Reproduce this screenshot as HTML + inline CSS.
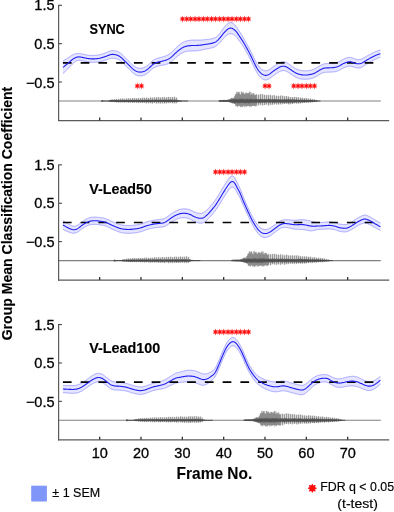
<!DOCTYPE html>
<html lang="en">
<head>
<meta charset="utf-8">
<title>Group Mean Classification Coefficient</title>
<style>
html,body{margin:0;padding:0;background:#fff;}
body{width:394px;height:512px;overflow:hidden;font-family:"Liberation Sans",sans-serif;}
svg{display:block;}
text{font-family:"Liberation Sans",sans-serif;fill:#000;}
.tk{font-size:14.5px;fill:#000;stroke:#000;stroke-width:0.3px;}
.tt{font-size:15.4px;font-weight:bold;stroke:#000;stroke-width:0.15px;}
.xl{font-size:16.6px;font-weight:bold;stroke:#000;stroke-width:0.1px;}
.yl{font-size:15.2px;font-weight:bold;stroke:#000;stroke-width:0.15px;}
.lg{font-size:13.2px;stroke:#000;stroke-width:0.15px;}
.st{font-family:"DejaVu Sans",sans-serif;font-size:8.4px;fill:#ff0a0a;stroke:#ff0a0a;stroke-width:0.15px;}
.st2{font-family:"DejaVu Sans",sans-serif;font-size:10.3px;fill:#ff0a0a;stroke:#ff0a0a;stroke-width:1.0px;stroke-linejoin:round;}
</style>
</head>
<body>
<svg width="394" height="512" viewBox="0 0 394 512">
<rect width="394" height="512" fill="#fff"/>
<g>
<line x1="58.8" y1="101.00" x2="380.8" y2="101.00" stroke="#808080" stroke-width="1.1"/>
<path d="M101.6,101.00H188.0M218.8,101.00H320.5" stroke="#484848" stroke-width="0.9" fill="none"/>
<path d="M109.25,100.52V101.36M109.75,100.30V101.53M110.25,99.94V101.68M110.75,99.70V101.71M111.25,99.90V101.93M111.75,99.61V101.86M112.25,99.60V101.87M112.75,99.41V102.06M113.25,100.26V101.46M113.75,100.28V101.51M114.25,98.96V102.00M114.75,99.25V102.18M115.25,100.17V101.50M115.75,100.16V101.52M116.25,98.78V102.49M116.75,99.09V102.41M117.25,100.07V101.50M117.75,100.21V101.55M118.25,98.96V102.54M118.75,98.77V102.61M119.25,100.06V101.66M119.75,100.11V101.57M120.25,98.39V102.29M120.75,98.75V102.48M121.25,100.14V101.59M121.75,99.92V101.65M122.25,98.43V102.30M122.75,98.30V102.72M123.25,100.08V101.66M123.75,100.05V101.56M124.25,98.71V102.41M124.75,98.68V102.83M125.25,100.01V101.62M125.75,99.87V101.77M126.25,98.61V102.41M126.75,98.17V102.45M127.25,99.93V101.58M127.75,99.93V101.78M128.25,98.47V102.59M128.75,98.30V102.83M129.25,99.85V101.78M129.75,99.85V101.73M130.25,98.38V102.41M130.75,98.43V102.81M131.25,99.81V101.80M131.75,99.98V101.62M132.25,98.18V102.95M132.75,98.16V102.90M133.25,99.80V101.76M133.75,99.97V101.76M134.25,97.93V102.67M134.75,98.08V102.53M135.25,99.78V101.77M135.75,99.75V101.74M136.25,98.39V102.47M136.75,98.11V103.06M137.25,99.76V101.65M137.75,99.90V101.75M138.25,98.30V103.10M138.75,97.99V103.11M139.25,99.81V101.75M139.75,99.81V101.67M140.25,98.19V102.87M140.75,98.07V102.91M141.25,99.88V101.78M141.75,99.69V101.77M142.25,97.60V102.90M142.75,97.85V103.09M143.25,99.74V101.91M143.75,99.60V101.73M144.25,97.55V102.74M144.75,98.08V102.83M145.25,99.62V101.92M145.75,99.65V101.71M146.25,97.92V103.37M146.75,97.34V103.30M147.25,99.67V101.78M147.75,99.60V101.69M148.25,98.00V102.97M148.75,97.95V103.46M149.25,99.76V101.78M149.75,99.71V101.74M150.25,97.33V102.96M150.75,97.50V103.30M151.25,99.56V101.84M151.75,99.57V101.96M152.25,97.84V103.46M152.75,97.44V103.52M153.25,99.58V101.80M153.75,99.72V101.79M154.25,97.22V103.06M154.75,97.53V102.86M155.25,99.48V101.92M155.75,99.41V101.78M156.25,97.36V103.54M156.75,97.18V103.67M157.25,99.46V101.96M157.75,99.67V101.80M158.25,97.48V103.04M158.75,96.96V103.47M159.25,99.57V101.92M159.75,99.57V102.09M160.25,97.43V103.74M160.75,97.64V103.26M161.25,99.59V101.95M161.75,99.62V101.91M162.25,97.37V103.14M162.75,96.99V103.50M163.25,99.52V101.89M163.75,99.40V102.00M164.25,96.86V103.48M164.75,97.50V103.39M165.25,99.37V102.06M165.75,99.41V102.02M166.25,97.49V103.26M166.75,97.13V103.49M167.25,99.47V101.79M167.75,99.47V101.97M168.25,96.97V103.18M168.75,96.97V103.14M169.25,99.47V101.92M169.75,99.37V102.00M170.25,97.46V103.19M170.75,97.10V102.98M171.25,99.40V102.02M171.75,99.45V101.95M172.25,96.81V103.15M172.75,97.56V103.37M173.25,99.47V101.88M173.75,99.55V101.99M174.25,96.75V103.10M174.75,96.80V103.58M175.25,99.49V101.79M175.75,99.56V101.84M176.25,97.67V103.43M176.75,97.43V102.79M177.25,99.80V101.63M177.75,100.22V101.45M178.25,99.87V101.62M178.75,99.99V101.76M180.25,100.28V101.42M180.75,100.43V101.33M219.25,100.38V101.45M219.75,100.27V101.54M220.25,100.05V101.59M220.75,100.18V101.58M221.25,99.92V101.55M221.75,99.94V101.58M222.25,100.12V101.65M222.75,99.89V101.56M223.25,99.86V101.68M223.75,100.07V101.81M224.25,99.78V101.65M224.75,99.97V101.77M225.25,99.89V101.81M225.75,100.17V101.83M226.25,99.85V101.72M226.75,99.83V101.84M227.25,99.87V101.82M227.75,99.79V101.68M228.25,99.33V102.03M228.75,99.60V102.04M229.25,99.35V102.08M229.75,99.04V102.33M230.25,99.03V102.35M230.75,98.31V102.58M231.25,98.31V102.72M231.75,97.70V102.85M232.25,98.25V103.52M232.75,98.19V103.24M233.25,98.15V103.34M233.75,98.01V103.16M234.25,96.52V104.06M234.75,96.24V103.65M235.25,94.79V104.32M235.75,93.76V106.16M236.25,94.10V106.20M236.75,91.63V105.92M237.25,92.14V106.36M237.75,93.76V107.30M238.25,91.87V105.58M238.75,92.34V105.60M239.25,91.79V106.02M239.75,93.89V106.05M240.25,94.16V106.91M240.75,95.10V106.99M241.25,91.70V105.57M241.75,91.66V107.37M242.25,93.56V106.48M242.75,92.21V106.95M243.25,92.92V106.16M243.75,92.29V105.68M244.25,94.22V105.65M244.75,93.93V107.42M245.25,94.15V105.68M245.75,92.55V106.39M246.25,92.87V106.83M246.75,92.71V105.76M247.25,93.06V106.24M247.75,94.22V106.00M248.25,93.02V106.15M248.75,93.28V105.97M249.25,91.53V105.72M249.75,92.08V107.29M250.25,94.72V105.86M250.75,91.93V106.14M251.25,94.40V106.83M251.75,93.33V106.46M252.25,94.98V105.63M252.75,93.35V105.56M253.25,93.37V105.46M253.75,93.10V106.03M254.25,94.50V105.96M254.75,95.33V106.14M255.25,94.97V106.49M255.75,94.91V105.52M256.25,94.05V105.11M256.75,94.67V106.21M257.25,99.27V102.28M257.75,99.44V102.14M258.25,94.70V105.64M258.75,94.67V105.07M259.25,99.45V102.09M259.75,99.43V101.94M260.25,94.34V104.62M260.75,93.77V105.44M261.25,99.25V101.95M261.75,99.25V101.93M262.25,94.51V104.98M262.75,94.26V105.70M263.25,99.31V101.86M263.75,99.38V102.04M264.25,94.81V105.16M264.75,94.82V104.93M265.25,99.45V101.90M265.75,99.47V101.88M266.25,95.37V104.84M266.75,94.89V104.28M267.25,99.41V102.07M267.75,99.50V101.92M268.25,94.55V105.51M268.75,95.47V105.46M269.25,99.39V101.83M269.75,99.68V101.89M270.25,94.68V104.44M270.75,95.23V105.26M271.25,99.57V101.86M271.75,99.68V102.05M272.25,95.76V105.00M272.75,95.21V104.43M273.25,99.58V102.02M273.75,99.57V101.86M274.25,94.88V104.64M274.75,95.58V104.12M275.25,99.54V101.80M275.75,99.62V101.92M276.25,96.17V104.03M276.75,95.63V104.92M277.25,99.62V101.71M277.75,99.79V101.81M278.25,95.63V104.03M278.75,96.20V104.88M279.25,99.82V101.87M279.75,99.74V101.76M280.25,95.80V104.12M280.75,95.41V104.54M281.25,99.86V101.82M281.75,99.87V101.89M282.25,95.51V103.81M282.75,96.03V104.35M283.25,99.82V101.74M283.75,99.70V101.84M284.25,95.90V104.07M284.75,96.50V103.65M285.25,99.86V101.83M285.75,99.77V101.69M286.25,96.04V104.02M286.75,95.91V103.67M287.25,99.92V101.67M287.75,99.81V101.68M288.25,96.78V104.29M288.75,96.40V104.33M289.25,99.85V101.79M289.75,99.90V101.65M290.25,97.11V104.16M290.75,97.12V104.14M291.25,100.06V101.57M291.75,99.91V101.72M292.25,97.01V103.94M292.75,97.32V103.95M293.25,100.08V101.58M293.75,99.93V101.71M294.25,96.95V103.34M294.75,96.88V103.24M295.25,100.14V101.56M295.75,100.08V101.57M296.25,96.95V103.51M296.75,97.34V103.61M297.25,100.08V101.53M297.75,100.03V101.51M298.25,97.21V103.69M298.75,97.47V103.51M299.25,100.16V101.63M299.75,100.18V101.50M300.25,97.90V103.29M300.75,97.50V103.37M301.25,100.19V101.51M301.75,100.11V101.44M302.25,97.50V103.07M302.75,98.02V103.01M303.25,100.17V101.53M303.75,100.29V101.55M304.25,98.19V102.91M304.75,98.26V102.90M305.25,100.31V101.44M305.75,100.33V101.41M306.25,98.13V102.62M306.75,97.89V102.95M307.25,100.37V101.42M307.75,100.30V101.42M308.25,98.62V102.50M308.75,98.53V102.79M309.25,100.37V101.39M309.75,100.42V101.41M310.25,98.66V102.61M310.75,98.66V102.62M311.25,100.42V101.37M311.75,100.50V101.35M312.25,98.87V102.38M312.75,99.11V102.22M313.25,100.52V101.34M314.25,99.57V102.04M314.75,99.39V101.95M316.25,99.99V101.74M316.75,100.18V101.68" stroke="#5a5a5a" stroke-width="0.5" fill="none"/>
<path d="M101.60,100.10V101.90M102.10,100.10V101.90M102.60,100.10V101.90M108.75,100.82V101.17M109.25,100.77V101.29M109.75,100.60V101.49M110.25,100.46V101.62M110.75,100.32V101.43M111.25,100.51V101.48M111.75,100.46V101.67M112.25,100.29V101.54M112.75,100.20V101.71M113.25,100.38V101.57M113.75,100.43V101.68M114.25,100.09V101.73M114.75,100.19V101.95M115.25,100.45V101.77M115.75,100.13V101.66M116.25,100.05V101.90M116.75,100.07V102.02M117.25,100.15V101.99M117.75,100.24V101.88M118.25,100.17V101.81M118.75,100.19V101.87M119.25,100.35V101.80M119.75,100.05V101.97M120.25,100.07V102.19M120.75,100.16V101.87M121.25,100.14V101.72M121.75,100.23V101.85M122.25,99.99V102.06M122.75,99.80V102.14M123.25,100.22V101.78M123.75,100.36V101.64M124.25,100.08V101.78M124.75,100.20V101.93M125.25,100.13V101.68M125.75,100.24V101.67M126.25,100.02V101.99M126.75,100.08V101.88M127.25,100.38V102.00M127.75,100.16V101.63M128.25,99.82V102.10M128.75,100.17V102.14M129.25,100.25V101.71M129.75,100.04V101.95M130.25,100.14V102.01M130.75,100.24V101.89M131.25,99.99V101.80M131.75,99.99V101.76M132.25,100.15V101.85M132.75,99.83V101.99M133.25,100.35V101.89M133.75,100.08V101.81M134.25,100.08V102.15M134.75,100.05V102.22M135.25,100.33V101.68M135.75,100.33V101.95M136.25,100.07V102.02M136.75,99.76V102.07M137.25,100.21V101.97M137.75,100.28V101.74M138.25,100.12V101.96M138.75,100.07V101.98M139.25,100.21V101.99M139.75,100.17V101.62M140.25,100.25V102.15M140.75,99.89V102.03M141.25,100.16V101.94M141.75,100.28V101.73M142.25,99.97V102.13M142.75,99.94V102.00M143.25,100.20V101.83M143.75,100.10V101.97M144.25,99.97V102.22M144.75,100.19V101.97M145.25,100.36V101.89M145.75,100.32V101.91M146.25,99.81V102.23M146.75,100.05V101.99M147.25,100.32V101.79M147.75,100.30V101.75M148.25,99.97V101.97M148.75,99.94V102.01M149.25,100.06V102.01M149.75,100.37V101.93M150.25,100.04V102.21M150.75,100.18V102.21M151.25,100.35V101.64M151.75,100.36V102.00M152.25,100.21V102.18M152.75,100.02V101.92M153.25,100.28V101.67M153.75,100.34V101.68M154.25,100.09V101.90M154.75,100.00V101.84M155.25,100.28V101.62M155.75,100.31V101.81M156.25,99.84V101.97M156.75,100.05V102.00M157.25,100.24V101.96M157.75,100.22V101.76M158.25,100.21V102.12M158.75,100.21V102.17M159.25,100.27V101.71M159.75,100.32V101.80M160.25,99.76V102.02M160.75,100.10V101.93M161.25,100.19V101.82M161.75,100.38V101.72M162.25,100.23V101.76M162.75,99.96V102.01M163.25,100.09V101.98M163.75,99.98V101.68M164.25,100.23V102.17M164.75,99.88V102.16M165.25,100.18V101.96M165.75,100.15V101.98M166.25,100.14V101.77M166.75,100.20V102.17M167.25,100.13V101.89M167.75,100.06V101.92M168.25,99.92V101.78M168.75,100.21V101.88M169.25,100.08V102.02M169.75,100.19V101.90M170.25,99.93V101.79M170.75,99.88V101.90M171.25,100.36V101.73M171.75,100.11V101.73M172.25,100.02V101.81M172.75,99.76V102.22M173.25,100.05V102.01M173.75,100.30V102.00M174.25,100.18V102.01M174.75,99.84V102.00M175.25,100.29V101.98M175.75,100.38V101.82M176.25,100.18V101.92M176.75,100.25V102.13M177.25,100.01V101.91M177.75,100.40V101.61M178.25,100.51V101.51M178.75,100.62V101.55M179.25,100.71V101.30M179.75,100.73V101.35M180.25,100.69V101.35M180.75,100.73V101.19M181.25,100.83V101.16M219.25,100.65V101.30M219.75,100.62V101.33M220.25,100.57V101.50M220.75,100.59V101.43M221.25,100.66V101.39M221.75,100.55V101.48M222.25,100.60V101.40M222.75,100.43V101.55M223.25,100.64V101.53M223.75,100.49V101.36M224.25,100.43V101.58M224.75,100.59V101.42M225.25,100.37V101.57M225.75,100.49V101.54M226.25,100.54V101.64M226.75,100.56V101.47M227.25,100.56V101.43M227.75,100.46V101.49M228.25,100.39V101.67M228.75,100.06V101.78M229.25,99.89V101.99M229.75,99.99V102.10M230.25,99.79V102.35M230.75,99.87V102.18M231.25,99.48V102.48M231.75,99.25V102.28M232.25,99.70V102.70M232.75,99.41V102.35M233.25,99.18V103.06M233.75,99.48V103.20M234.25,99.55V102.77M234.75,98.86V103.40M235.25,99.38V103.34M235.75,98.92V102.80M236.25,99.40V102.44M236.75,98.64V102.56M237.25,99.22V103.23M237.75,99.51V102.89M238.25,99.37V102.79M238.75,99.17V103.22M239.25,99.53V102.50M239.75,98.84V103.30M240.25,98.64V103.03M240.75,99.26V102.70M241.25,98.68V103.05M241.75,99.34V102.90M242.25,99.19V102.68M242.75,98.67V102.62M243.25,98.77V103.18M243.75,99.25V102.79M244.25,99.37V103.16M244.75,99.53V102.97M245.25,98.71V103.39M245.75,99.47V102.92M246.25,99.34V102.84M246.75,98.84V103.25M247.25,98.75V102.72M247.75,98.85V102.63M248.25,99.41V103.29M248.75,99.18V103.39M249.25,98.78V103.07M249.75,99.10V103.23M250.25,99.52V102.72M250.75,98.63V103.00M251.25,98.73V102.87M251.75,98.65V102.54M252.25,99.35V102.79M252.75,99.32V103.02M253.25,99.55V102.75M253.75,99.26V102.64M254.25,99.50V102.54M254.75,98.95V102.53M255.25,99.17V102.71M255.75,99.26V102.98M256.25,98.73V103.40M256.75,98.86V102.64M257.25,99.57V102.73M257.75,99.54V102.24M258.25,98.94V103.31M258.75,99.20V102.92M259.25,99.50V102.80M259.75,99.29V102.84M260.25,98.65V103.38M260.75,98.67V102.81M261.25,99.27V102.24M261.75,99.58V102.75M262.25,99.35V102.82M262.75,99.44V102.68M263.25,99.85V102.53M263.75,99.26V102.20M264.25,98.96V102.73M264.75,99.15V103.07M265.25,99.87V102.58M265.75,99.32V102.70M266.25,99.11V102.54M266.75,99.47V102.86M267.25,99.41V102.18M267.75,99.50V102.16M268.25,98.65V102.57M268.75,98.86V103.22M269.25,99.52V102.83M269.75,99.30V102.81M270.25,98.83V102.59M270.75,98.78V102.58M271.25,99.73V102.31M271.75,99.86V102.25M272.25,98.91V103.30M272.75,99.45V102.95M273.25,99.23V102.53M273.75,99.81V102.85M274.25,98.79V102.69M274.75,99.21V103.17M275.25,99.33V102.15M275.75,99.41V102.85M276.25,99.26V102.44M276.75,98.97V102.85M277.25,99.79V102.29M277.75,99.88V102.38M278.25,99.34V103.00M278.75,98.96V102.90M279.25,99.70V102.23M279.75,99.24V102.70M280.25,99.55V103.06M280.75,98.94V102.87M281.25,99.70V102.79M281.75,99.58V102.29M282.25,99.55V102.97M282.75,99.37V103.02M283.25,99.28V102.25M283.75,99.85V102.78M284.25,99.55V103.25M284.75,98.85V102.87M285.25,99.71V102.14M285.75,99.37V102.74M286.25,99.03V102.86M286.75,99.31V103.06M287.25,99.23V102.13M287.75,99.33V102.82M288.25,98.72V102.76M288.75,98.95V103.11M289.25,99.53V102.74M289.75,99.56V102.66M290.25,99.37V103.03M290.75,99.45V102.44M291.25,99.66V102.19M291.75,99.43V102.53M292.25,99.57V102.91M292.75,98.90V103.16M293.25,99.33V102.70M293.75,99.89V102.05M294.25,99.13V103.03M294.75,99.62V102.38M295.25,99.79V102.27M295.75,99.83V102.45M296.25,98.94V102.67M296.75,99.74V102.58M297.25,99.83V102.39M297.75,99.53V101.99M298.25,99.81V102.35M298.75,99.82V102.56M299.25,99.99V102.20M299.75,99.96V102.45M300.25,99.34V102.51M300.75,99.82V102.70M301.25,99.79V102.06M301.75,99.66V101.89M302.25,99.78V102.26M302.75,99.68V102.68M303.25,99.91V102.21M303.75,100.02V101.97M304.25,99.54V102.51M304.75,99.49V102.38M305.25,99.79V101.88M305.75,99.90V102.17M306.25,99.89V102.16M306.75,99.86V102.06M307.25,100.24V102.17M307.75,99.85V102.06M308.25,100.02V102.24M308.75,99.94V101.86M309.25,100.07V101.84M309.75,100.33V101.86M310.25,99.77V101.99M310.75,100.05V101.86M311.25,100.16V101.82M311.75,100.23V101.70M312.25,100.29V101.85M312.75,100.09V101.75M313.25,100.33V101.60M313.75,100.50V101.63M314.25,100.30V101.87M314.75,100.46V101.75M315.25,100.63V101.48M315.75,100.57V101.45M316.25,100.54V101.59M316.75,100.62V101.45M317.25,100.77V101.19" stroke="#4a4a4a" stroke-width="0.55" fill="none"/>
<path d="M62.9,60.93L63.4,60.72L63.9,60.44L64.4,60.12L64.9,59.82L65.4,59.53L65.9,59.23L66.4,58.93L66.9,58.63L67.4,58.32L67.9,58.00L68.4,57.66L68.9,57.31L69.4,56.95L69.9,56.59L70.4,56.24L70.9,55.91L71.4,55.60L71.9,55.31L72.4,55.04L72.9,54.79L73.4,54.55L73.9,54.33L74.4,54.13L74.9,53.96L75.4,53.82L75.9,53.71L76.4,53.62L76.9,53.56L77.4,53.53L77.9,53.52L78.4,53.54L78.9,53.57L79.4,53.62L79.9,53.68L80.4,53.75L80.9,53.82L81.4,53.91L81.9,53.99L82.4,54.08L82.9,54.17L83.4,54.26L83.9,54.36L84.4,54.47L84.9,54.58L85.4,54.69L85.9,54.80L86.4,54.90L86.9,55.00L87.4,55.08L87.9,55.16L88.4,55.23L88.9,55.28L89.4,55.33L89.9,55.38L90.4,55.41L90.9,55.44L91.4,55.47L91.9,55.48L92.4,55.49L92.9,55.49L93.4,55.48L93.9,55.46L94.4,55.43L94.9,55.39L95.4,55.35L95.9,55.30L96.4,55.25L96.9,55.19L97.4,55.13L97.9,55.07L98.4,55.01L98.9,54.92L99.4,54.82L99.9,54.69L100.4,54.54L100.9,54.39L101.4,54.23L101.9,54.08L102.4,53.92L102.9,53.75L103.4,53.59L103.9,53.42L104.4,53.25L104.9,53.07L105.4,52.89L105.9,52.70L106.4,52.50L106.9,52.29L107.4,52.09L107.9,51.88L108.4,51.67L108.9,51.48L109.4,51.29L109.9,51.12L110.4,50.96L110.9,50.82L111.4,50.71L111.9,50.64L112.4,50.60L112.9,50.60L113.4,50.63L113.9,50.68L114.4,50.74L114.9,50.82L115.4,50.91L115.9,51.02L116.4,51.15L116.9,51.30L117.4,51.47L117.9,51.67L118.4,51.90L118.9,52.17L119.4,52.47L119.9,52.80L120.4,53.16L120.9,53.55L121.4,53.95L121.9,54.38L122.4,54.84L122.9,55.32L123.4,55.82L123.9,56.34L124.4,56.86L124.9,57.38L125.4,57.89L125.9,58.40L126.4,58.91L126.9,59.41L127.4,59.91L127.9,60.41L128.4,60.91L128.9,61.40L129.4,61.90L129.9,62.39L130.4,62.89L130.9,63.38L131.4,63.87L131.9,64.33L132.4,64.78L132.9,65.20L133.4,65.60L133.9,65.98L134.4,66.33L134.9,66.67L135.4,66.98L135.9,67.26L136.4,67.50L136.9,67.71L137.4,67.89L137.9,68.03L138.4,68.13L138.9,68.21L139.4,68.26L139.9,68.28L140.4,68.28L140.9,68.26L141.4,68.21L141.9,68.13L142.4,68.03L142.9,67.90L143.4,67.74L143.9,67.55L144.4,67.33L144.9,67.09L145.4,66.81L145.9,66.50L146.4,66.17L146.9,65.82L147.4,65.46L147.9,65.08L148.4,64.68L148.9,64.26L149.4,63.81L149.9,63.34L150.4,62.85L150.9,62.36L151.4,61.89L151.9,61.43L152.4,61.01L152.9,60.63L153.4,60.27L153.9,59.94L154.4,59.64L154.9,59.36L155.4,59.11L155.9,58.87L156.4,58.65L156.9,58.46L157.4,58.29L157.9,58.15L158.4,58.02L158.9,57.90L159.4,57.77L159.9,57.65L160.4,57.52L160.9,57.38L161.4,57.25L161.9,57.12L162.4,56.98L162.9,56.84L163.4,56.69L163.9,56.53L164.4,56.37L164.9,56.20L165.4,56.03L165.9,55.85L166.4,55.65L166.9,55.44L167.4,55.20L167.9,54.94L168.4,54.65L168.9,54.34L169.4,54.01L169.9,53.66L170.4,53.28L170.9,52.89L171.4,52.47L171.9,52.02L172.4,51.55L172.9,51.04L173.4,50.52L173.9,49.99L174.4,49.46L174.9,48.94L175.4,48.44L175.9,47.95L176.4,47.48L176.9,47.01L177.4,46.56L177.9,46.12L178.4,45.69L178.9,45.27L179.4,44.87L179.9,44.47L180.4,44.09L180.9,43.72L181.4,43.37L181.9,43.03L182.4,42.72L182.9,42.43L183.4,42.16L183.9,41.92L184.4,41.70L184.9,41.51L185.4,41.33L185.9,41.17L186.4,41.02L186.9,40.88L187.4,40.76L187.9,40.65L188.4,40.55L188.9,40.47L189.4,40.40L189.9,40.34L190.4,40.28L190.9,40.24L191.4,40.20L191.9,40.17L192.4,40.16L192.9,40.14L193.4,40.14L193.9,40.13L194.4,40.12L194.9,40.10L195.4,40.09L195.9,40.08L196.4,40.07L196.9,40.07L197.4,40.07L197.9,40.07L198.4,40.08L198.9,40.08L199.4,40.08L199.9,40.08L200.4,40.07L200.9,40.05L201.4,40.02L201.9,39.99L202.4,39.95L202.9,39.91L203.4,39.86L203.9,39.81L204.4,39.76L204.9,39.71L205.4,39.66L205.9,39.62L206.4,39.57L206.9,39.53L207.4,39.48L207.9,39.43L208.4,39.37L208.9,39.30L209.4,39.22L209.9,39.14L210.4,39.05L210.9,38.95L211.4,38.85L211.9,38.73L212.4,38.59L212.9,38.45L213.4,38.29L213.9,38.13L214.4,37.96L214.9,37.77L215.4,37.55L215.9,37.28L216.4,36.96L216.9,36.57L217.4,36.13L217.9,35.63L218.4,35.09L218.9,34.52L219.4,33.91L219.9,33.29L220.4,32.65L220.9,31.99L221.4,31.31L221.9,30.61L222.4,29.90L222.9,29.19L223.4,28.50L223.9,27.85L224.4,27.22L224.9,26.63L225.4,26.06L225.9,25.51L226.4,24.99L226.9,24.49L227.4,24.03L227.9,23.60L228.4,23.24L228.9,22.96L229.4,22.75L229.9,22.62L230.4,22.56L230.9,22.57L231.4,22.66L231.9,22.82L232.4,23.08L232.9,23.40L233.4,23.76L233.9,24.16L234.4,24.60L234.9,25.06L235.4,25.56L235.9,26.11L236.4,26.72L236.9,27.41L237.4,28.17L237.9,28.98L238.4,29.81L238.9,30.62L239.4,31.40L239.9,32.18L240.4,32.95L240.9,33.72L241.4,34.51L241.9,35.32L242.4,36.14L242.9,37.00L243.4,37.87L243.9,38.75L244.4,39.65L244.9,40.55L245.4,41.46L245.9,42.36L246.4,43.26L246.9,44.16L247.4,45.04L247.9,45.94L248.4,46.84L248.9,47.75L249.4,48.68L249.9,49.64L250.4,50.62L250.9,51.63L251.4,52.67L251.9,53.73L252.4,54.80L252.9,55.85L253.4,56.89L253.9,57.91L254.4,58.90L254.9,59.88L255.4,60.85L255.9,61.79L256.4,62.70L256.9,63.57L257.4,64.39L257.9,65.15L258.4,65.86L258.9,66.51L259.4,67.12L259.9,67.68L260.4,68.20L260.9,68.66L261.4,69.08L261.9,69.45L262.4,69.77L262.9,70.05L263.4,70.28L263.9,70.47L264.4,70.61L264.9,70.72L265.4,70.77L265.9,70.77L266.4,70.72L266.9,70.62L267.4,70.48L267.9,70.30L268.4,70.08L268.9,69.83L269.4,69.56L269.9,69.25L270.4,68.90L270.9,68.52L271.4,68.12L271.9,67.72L272.4,67.32L272.9,66.94L273.4,66.58L273.9,66.24L274.4,65.90L274.9,65.58L275.4,65.25L275.9,64.94L276.4,64.63L276.9,64.32L277.4,64.01L277.9,63.70L278.4,63.39L278.9,63.08L279.4,62.80L279.9,62.54L280.4,62.31L280.9,62.12L281.4,61.98L281.9,61.88L282.4,61.82L282.9,61.79L283.4,61.79L283.9,61.81L284.4,61.85L284.9,61.94L285.4,62.07L285.9,62.26L286.4,62.49L286.9,62.76L287.4,63.06L287.9,63.39L288.4,63.72L288.9,64.06L289.4,64.40L289.9,64.75L290.4,65.09L290.9,65.44L291.4,65.80L291.9,66.16L292.4,66.51L292.9,66.86L293.4,67.20L293.9,67.52L294.4,67.82L294.9,68.11L295.4,68.39L295.9,68.65L296.4,68.90L296.9,69.13L297.4,69.35L297.9,69.55L298.4,69.74L298.9,69.90L299.4,70.06L299.9,70.19L300.4,70.31L300.9,70.42L301.4,70.52L301.9,70.60L302.4,70.68L302.9,70.73L303.4,70.78L303.9,70.81L304.4,70.83L304.9,70.84L305.4,70.84L305.9,70.82L306.4,70.80L306.9,70.77L307.4,70.72L307.9,70.66L308.4,70.60L308.9,70.52L309.4,70.44L309.9,70.36L310.4,70.26L310.9,70.15L311.4,70.04L311.9,69.91L312.4,69.75L312.9,69.58L313.4,69.39L313.9,69.17L314.4,68.94L314.9,68.69L315.4,68.42L315.9,68.15L316.4,67.87L316.9,67.58L317.4,67.28L317.9,66.98L318.4,66.66L318.9,66.34L319.4,66.03L319.9,65.73L320.4,65.45L320.9,65.18L321.4,64.93L321.9,64.69L322.4,64.46L322.9,64.26L323.4,64.09L323.9,63.95L324.4,63.83L324.9,63.75L325.4,63.69L325.9,63.65L326.4,63.62L326.9,63.59L327.4,63.58L327.9,63.56L328.4,63.55L328.9,63.54L329.4,63.52L329.9,63.49L330.4,63.46L330.9,63.43L331.4,63.40L331.9,63.38L332.4,63.34L332.9,63.31L333.4,63.27L333.9,63.22L334.4,63.15L334.9,63.07L335.4,62.98L335.9,62.86L336.4,62.73L336.9,62.58L337.4,62.41L337.9,62.22L338.4,62.01L338.9,61.78L339.4,61.53L339.9,61.25L340.4,60.95L340.9,60.64L341.4,60.33L341.9,60.04L342.4,59.76L342.9,59.49L343.4,59.25L343.9,59.02L344.4,58.80L344.9,58.59L345.4,58.39L345.9,58.20L346.4,58.02L346.9,57.86L347.4,57.70L347.9,57.57L348.4,57.46L348.9,57.38L349.4,57.35L349.9,57.36L350.4,57.42L350.9,57.52L351.4,57.65L351.9,57.79L352.4,57.95L352.9,58.12L353.4,58.29L353.9,58.47L354.4,58.66L354.9,58.85L355.4,59.03L355.9,59.18L356.4,59.31L356.9,59.41L357.4,59.50L357.9,59.56L358.4,59.60L358.9,59.61L359.4,59.59L359.9,59.54L360.4,59.44L360.9,59.31L361.4,59.12L361.9,58.90L362.4,58.66L362.9,58.39L363.4,58.12L363.9,57.84L364.4,57.57L364.9,57.29L365.4,57.00L365.9,56.71L366.4,56.41L366.9,56.12L367.4,55.83L367.9,55.54L368.4,55.26L368.9,54.99L369.4,54.72L369.9,54.46L370.4,54.20L370.9,53.94L371.4,53.68L371.9,53.43L372.4,53.18L372.9,52.93L373.4,52.68L373.9,52.44L374.4,52.21L374.9,51.98L375.4,51.77L375.9,51.57L376.4,51.38L376.9,51.20L377.4,51.03L377.9,50.86L378.4,50.68L378.9,50.51L379.4,50.34L379.9,50.19L380.4,50.08L380.4,57.30L379.9,57.42L379.4,57.59L378.9,57.78L378.4,57.97L377.9,58.17L377.4,58.37L376.9,58.57L376.4,58.78L375.9,58.99L375.4,59.22L374.9,59.46L374.4,59.70L373.9,59.96L373.4,60.23L372.9,60.51L372.4,60.78L371.9,61.06L371.4,61.34L370.9,61.62L370.4,61.91L369.9,62.20L369.4,62.49L368.9,62.78L368.4,63.08L367.9,63.39L367.4,63.70L366.9,64.02L366.4,64.34L365.9,64.66L365.4,64.98L364.9,65.29L364.4,65.60L363.9,65.90L363.4,66.20L362.9,66.50L362.4,66.79L361.9,67.07L361.4,67.32L360.9,67.52L360.4,67.69L359.9,67.81L359.4,67.89L358.9,67.93L358.4,67.95L357.9,67.94L357.4,67.90L356.9,67.85L356.4,67.77L355.9,67.67L355.4,67.54L354.9,67.39L354.4,67.23L353.9,67.06L353.4,66.91L352.9,66.76L352.4,66.62L351.9,66.49L351.4,66.37L350.9,66.26L350.4,66.17L349.9,66.13L349.4,66.13L348.9,66.16L348.4,66.24L347.9,66.35L347.4,66.48L346.9,66.63L346.4,66.79L345.9,66.96L345.4,67.15L344.9,67.34L344.4,67.55L343.9,67.76L343.4,67.99L342.9,68.23L342.4,68.49L341.9,68.76L341.4,69.06L340.9,69.36L340.4,69.66L339.9,69.96L339.4,70.23L338.9,70.48L338.4,70.71L337.9,70.91L337.4,71.10L336.9,71.26L336.4,71.41L335.9,71.54L335.4,71.65L334.9,71.74L334.4,71.81L333.9,71.87L333.4,71.92L332.9,71.96L332.4,71.99L331.9,72.01L331.4,72.04L330.9,72.06L330.4,72.09L329.9,72.11L329.4,72.13L328.9,72.15L328.4,72.16L327.9,72.17L327.4,72.18L326.9,72.19L326.4,72.21L325.9,72.23L325.4,72.27L324.9,72.33L324.4,72.41L323.9,72.51L323.4,72.65L322.9,72.82L322.4,73.02L321.9,73.24L321.4,73.47L320.9,73.72L320.4,73.99L319.9,74.26L319.4,74.56L318.9,74.86L318.4,75.18L317.9,75.49L317.4,75.79L316.9,76.09L316.4,76.37L315.9,76.64L315.4,76.91L314.9,77.17L314.4,77.42L313.9,77.65L313.4,77.86L312.9,78.05L312.4,78.22L311.9,78.37L311.4,78.49L310.9,78.61L310.4,78.71L309.9,78.80L309.4,78.88L308.9,78.96L308.4,79.03L307.9,79.09L307.4,79.14L306.9,79.18L306.4,79.21L305.9,79.24L305.4,79.25L304.9,79.25L304.4,79.25L303.9,79.24L303.4,79.21L302.9,79.18L302.4,79.13L301.9,79.07L301.4,78.99L300.9,78.91L300.4,78.81L299.9,78.69L299.4,78.57L298.9,78.43L298.4,78.27L297.9,78.10L297.4,77.90L296.9,77.70L296.4,77.47L295.9,77.23L295.4,76.98L294.9,76.71L294.4,76.43L293.9,76.14L293.4,75.83L292.9,75.50L292.4,75.17L291.9,74.82L291.4,74.47L290.9,74.13L290.4,73.79L289.9,73.45L289.4,73.12L288.9,72.78L288.4,72.45L287.9,72.13L287.4,71.82L286.9,71.53L286.4,71.26L285.9,71.04L285.4,70.86L284.9,70.74L284.4,70.66L283.9,70.63L283.4,70.62L282.9,70.63L282.4,70.67L281.9,70.74L281.4,70.85L280.9,71.00L280.4,71.20L279.9,71.44L279.4,71.71L278.9,72.01L278.4,72.32L277.9,72.64L277.4,72.96L276.9,73.28L276.4,73.60L275.9,73.92L275.4,74.25L274.9,74.58L274.4,74.91L273.9,75.26L273.4,75.62L272.9,75.99L272.4,76.38L271.9,76.78L271.4,77.20L270.9,77.60L270.4,77.99L269.9,78.35L269.4,78.67L268.9,78.96L268.4,79.21L267.9,79.44L267.4,79.63L266.9,79.79L266.4,79.89L265.9,79.94L265.4,79.94L264.9,79.88L264.4,79.77L263.9,79.62L263.4,79.41L262.9,79.16L262.4,78.87L261.9,78.52L261.4,78.13L260.9,77.70L260.4,77.21L259.9,76.68L259.4,76.10L258.9,75.47L258.4,74.79L257.9,74.07L257.4,73.29L256.9,72.45L256.4,71.56L255.9,70.63L255.4,69.66L254.9,68.68L254.4,67.68L253.9,66.66L253.4,65.63L252.9,64.57L252.4,63.49L251.9,62.41L251.4,61.33L250.9,60.27L250.4,59.24L249.9,58.23L249.4,57.26L248.9,56.31L248.4,55.37L247.9,54.45L247.4,53.54L246.9,52.63L246.4,51.74L245.9,50.85L245.4,49.97L244.9,49.10L244.4,48.24L243.9,47.41L243.4,46.60L242.9,45.82L242.4,45.06L241.9,44.34L241.4,43.63L240.9,42.94L240.4,42.27L239.9,41.60L239.4,40.92L238.9,40.24L238.4,39.53L237.9,38.80L237.4,38.09L236.9,37.43L236.4,36.84L235.9,36.33L235.4,35.88L234.9,35.48L234.4,35.12L233.9,34.78L233.4,34.48L232.9,34.22L232.4,34.00L231.9,33.84L231.4,33.74L230.9,33.71L230.4,33.72L229.9,33.78L229.4,33.89L228.9,34.06L228.4,34.28L227.9,34.55L227.4,34.86L226.9,35.22L226.4,35.61L225.9,36.02L225.4,36.46L224.9,36.92L224.4,37.41L223.9,37.92L223.4,38.47L222.9,39.05L222.4,39.65L221.9,40.25L221.4,40.84L220.9,41.42L220.4,41.97L219.9,42.50L219.4,43.04L218.9,43.56L218.4,44.08L217.9,44.57L217.4,45.04L216.9,45.46L216.4,45.84L215.9,46.18L215.4,46.47L214.9,46.71L214.4,46.93L213.9,47.12L213.4,47.31L212.9,47.48L212.4,47.65L211.9,47.81L211.4,47.95L210.9,48.08L210.4,48.20L209.9,48.31L209.4,48.42L208.9,48.52L208.4,48.61L207.9,48.70L207.4,48.77L206.9,48.84L206.4,48.92L205.9,49.00L205.4,49.09L204.9,49.19L204.4,49.30L203.9,49.42L203.4,49.55L202.9,49.67L202.4,49.80L201.9,49.93L201.4,50.05L200.9,50.17L200.4,50.27L199.9,50.37L199.4,50.46L198.9,50.54L198.4,50.62L197.9,50.68L197.4,50.73L196.9,50.78L196.4,50.82L195.9,50.85L195.4,50.88L194.9,50.90L194.4,50.92L193.9,50.93L193.4,50.93L192.9,50.93L192.4,50.93L191.9,50.93L191.4,50.94L190.9,50.95L190.4,50.97L189.9,51.00L189.4,51.03L188.9,51.06L188.4,51.11L187.9,51.17L187.4,51.25L186.9,51.34L186.4,51.44L185.9,51.56L185.4,51.69L184.9,51.83L184.4,52.00L183.9,52.18L183.4,52.39L182.9,52.62L182.4,52.88L181.9,53.16L181.4,53.46L180.9,53.77L180.4,54.10L179.9,54.45L179.4,54.80L178.9,55.16L178.4,55.53L177.9,55.91L177.4,56.30L176.9,56.70L176.4,57.12L175.9,57.54L175.4,57.98L174.9,58.43L174.4,58.90L173.9,59.38L173.4,59.86L172.9,60.33L172.4,60.79L171.9,61.21L171.4,61.61L170.9,61.98L170.4,62.32L169.9,62.65L169.4,62.95L168.9,63.23L168.4,63.49L167.9,63.73L167.4,63.94L166.9,64.13L166.4,64.29L165.9,64.44L165.4,64.57L164.9,64.69L164.4,64.81L163.9,64.92L163.4,65.03L162.9,65.13L162.4,65.22L161.9,65.31L161.4,65.40L160.9,65.49L160.4,65.59L159.9,65.69L159.4,65.79L158.9,65.89L158.4,65.99L157.9,66.11L157.4,66.24L156.9,66.40L156.4,66.58L155.9,66.79L155.4,67.01L154.9,67.26L154.4,67.53L153.9,67.82L153.4,68.14L152.9,68.48L152.4,68.86L151.9,69.27L151.4,69.72L150.9,70.18L150.4,70.66L149.9,71.13L149.4,71.60L148.9,72.03L148.4,72.45L147.9,72.83L147.4,73.21L146.9,73.56L146.4,73.90L145.9,74.22L145.4,74.51L144.9,74.78L144.4,75.02L143.9,75.23L143.4,75.41L142.9,75.56L142.4,75.68L141.9,75.77L141.4,75.84L140.9,75.88L140.4,75.90L139.9,75.89L139.4,75.87L138.9,75.81L138.4,75.73L137.9,75.63L137.4,75.49L136.9,75.31L136.4,75.10L135.9,74.86L135.4,74.58L134.9,74.27L134.4,73.93L133.9,73.58L133.4,73.20L132.9,72.80L132.4,72.38L131.9,71.93L131.4,71.47L130.9,70.98L130.4,70.49L129.9,69.99L129.4,69.50L128.9,69.00L128.4,68.51L127.9,68.01L127.4,67.51L126.9,67.01L126.4,66.51L125.9,66.00L125.4,65.49L124.9,64.98L124.4,64.46L123.9,63.94L123.4,63.42L122.9,62.92L122.4,62.44L121.9,61.98L121.4,61.55L120.9,61.15L120.4,60.76L119.9,60.40L119.4,60.07L118.9,59.77L118.4,59.50L117.9,59.27L117.4,59.07L116.9,58.90L116.4,58.75L115.9,58.62L115.4,58.51L114.9,58.42L114.4,58.34L113.9,58.27L113.4,58.21L112.9,58.18L112.4,58.17L111.9,58.19L111.4,58.25L110.9,58.34L110.4,58.46L109.9,58.59L109.4,58.74L108.9,58.91L108.4,59.09L107.9,59.28L107.4,59.46L106.9,59.65L106.4,59.84L105.9,60.01L105.4,60.19L104.9,60.35L104.4,60.51L103.9,60.66L103.4,60.81L102.9,60.95L102.4,61.09L101.9,61.23L101.4,61.37L100.9,61.50L100.4,61.64L99.9,61.76L99.4,61.87L98.9,61.96L98.4,62.02L97.9,62.07L97.4,62.11L96.9,62.15L96.4,62.18L95.9,62.22L95.4,62.24L94.9,62.27L94.4,62.29L93.9,62.30L93.4,62.30L92.9,62.30L92.4,62.29L91.9,62.27L91.4,62.25L90.9,62.22L90.4,62.18L89.9,62.14L89.4,62.09L88.9,62.03L88.4,61.97L87.9,61.89L87.4,61.81L86.9,61.72L86.4,61.61L85.9,61.50L85.4,61.39L84.9,61.27L84.4,61.15L83.9,61.04L83.4,60.94L82.9,60.84L82.4,60.74L81.9,60.64L81.4,60.55L80.9,60.46L80.4,60.38L79.9,60.31L79.4,60.28L78.9,60.27L78.4,60.31L77.9,60.39L77.4,60.52L76.9,60.69L76.4,60.92L75.9,61.20L75.4,61.53L74.9,61.88L74.4,62.26L73.9,62.67L73.4,63.10L72.9,63.55L72.4,64.02L71.9,64.50L71.4,65.00L70.9,65.52L70.4,66.06L69.9,66.62L69.4,67.18L68.9,67.74L68.4,68.30L67.9,68.84L67.4,69.36L66.9,69.87L66.4,70.37L65.9,70.87L65.4,71.37L64.9,71.86L64.4,72.33L63.9,72.80L63.4,73.21L62.9,73.52Z" fill="#e5e5ff"/>
<path d="M62.9,60.93L63.4,60.72L63.9,60.44L64.4,60.12L64.9,59.82L65.4,59.53L65.9,59.23L66.4,58.93L66.9,58.63L67.4,58.32L67.9,58.00L68.4,57.66L68.9,57.31L69.4,56.95L69.9,56.59L70.4,56.24L70.9,55.91L71.4,55.60L71.9,55.31L72.4,55.04L72.9,54.79L73.4,54.55L73.9,54.33L74.4,54.13L74.9,53.96L75.4,53.82L75.9,53.71L76.4,53.62L76.9,53.56L77.4,53.53L77.9,53.52L78.4,53.54L78.9,53.57L79.4,53.62L79.9,53.68L80.4,53.75L80.9,53.82L81.4,53.91L81.9,53.99L82.4,54.08L82.9,54.17L83.4,54.26L83.9,54.36L84.4,54.47L84.9,54.58L85.4,54.69L85.9,54.80L86.4,54.90L86.9,55.00L87.4,55.08L87.9,55.16L88.4,55.23L88.9,55.28L89.4,55.33L89.9,55.38L90.4,55.41L90.9,55.44L91.4,55.47L91.9,55.48L92.4,55.49L92.9,55.49L93.4,55.48L93.9,55.46L94.4,55.43L94.9,55.39L95.4,55.35L95.9,55.30L96.4,55.25L96.9,55.19L97.4,55.13L97.9,55.07L98.4,55.01L98.9,54.92L99.4,54.82L99.9,54.69L100.4,54.54L100.9,54.39L101.4,54.23L101.9,54.08L102.4,53.92L102.9,53.75L103.4,53.59L103.9,53.42L104.4,53.25L104.9,53.07L105.4,52.89L105.9,52.70L106.4,52.50L106.9,52.29L107.4,52.09L107.9,51.88L108.4,51.67L108.9,51.48L109.4,51.29L109.9,51.12L110.4,50.96L110.9,50.82L111.4,50.71L111.9,50.64L112.4,50.60L112.9,50.60L113.4,50.63L113.9,50.68L114.4,50.74L114.9,50.82L115.4,50.91L115.9,51.02L116.4,51.15L116.9,51.30L117.4,51.47L117.9,51.67L118.4,51.90L118.9,52.17L119.4,52.47L119.9,52.80L120.4,53.16L120.9,53.55L121.4,53.95L121.9,54.38L122.4,54.84L122.9,55.32L123.4,55.82L123.9,56.34L124.4,56.86L124.9,57.38L125.4,57.89L125.9,58.40L126.4,58.91L126.9,59.41L127.4,59.91L127.9,60.41L128.4,60.91L128.9,61.40L129.4,61.90L129.9,62.39L130.4,62.89L130.9,63.38L131.4,63.87L131.9,64.33L132.4,64.78L132.9,65.20L133.4,65.60L133.9,65.98L134.4,66.33L134.9,66.67L135.4,66.98L135.9,67.26L136.4,67.50L136.9,67.71L137.4,67.89L137.9,68.03L138.4,68.13L138.9,68.21L139.4,68.26L139.9,68.28L140.4,68.28L140.9,68.26L141.4,68.21L141.9,68.13L142.4,68.03L142.9,67.90L143.4,67.74L143.9,67.55L144.4,67.33L144.9,67.09L145.4,66.81L145.9,66.50L146.4,66.17L146.9,65.82L147.4,65.46L147.9,65.08L148.4,64.68L148.9,64.26L149.4,63.81L149.9,63.34L150.4,62.85L150.9,62.36L151.4,61.89L151.9,61.43L152.4,61.01L152.9,60.63L153.4,60.27L153.9,59.94L154.4,59.64L154.9,59.36L155.4,59.11L155.9,58.87L156.4,58.65L156.9,58.46L157.4,58.29L157.9,58.15L158.4,58.02L158.9,57.90L159.4,57.77L159.9,57.65L160.4,57.52L160.9,57.38L161.4,57.25L161.9,57.12L162.4,56.98L162.9,56.84L163.4,56.69L163.9,56.53L164.4,56.37L164.9,56.20L165.4,56.03L165.9,55.85L166.4,55.65L166.9,55.44L167.4,55.20L167.9,54.94L168.4,54.65L168.9,54.34L169.4,54.01L169.9,53.66L170.4,53.28L170.9,52.89L171.4,52.47L171.9,52.02L172.4,51.55L172.9,51.04L173.4,50.52L173.9,49.99L174.4,49.46L174.9,48.94L175.4,48.44L175.9,47.95L176.4,47.48L176.9,47.01L177.4,46.56L177.9,46.12L178.4,45.69L178.9,45.27L179.4,44.87L179.9,44.47L180.4,44.09L180.9,43.72L181.4,43.37L181.9,43.03L182.4,42.72L182.9,42.43L183.4,42.16L183.9,41.92L184.4,41.70L184.9,41.51L185.4,41.33L185.9,41.17L186.4,41.02L186.9,40.88L187.4,40.76L187.9,40.65L188.4,40.55L188.9,40.47L189.4,40.40L189.9,40.34L190.4,40.28L190.9,40.24L191.4,40.20L191.9,40.17L192.4,40.16L192.9,40.14L193.4,40.14L193.9,40.13L194.4,40.12L194.9,40.10L195.4,40.09L195.9,40.08L196.4,40.07L196.9,40.07L197.4,40.07L197.9,40.07L198.4,40.08L198.9,40.08L199.4,40.08L199.9,40.08L200.4,40.07L200.9,40.05L201.4,40.02L201.9,39.99L202.4,39.95L202.9,39.91L203.4,39.86L203.9,39.81L204.4,39.76L204.9,39.71L205.4,39.66L205.9,39.62L206.4,39.57L206.9,39.53L207.4,39.48L207.9,39.43L208.4,39.37L208.9,39.30L209.4,39.22L209.9,39.14L210.4,39.05L210.9,38.95L211.4,38.85L211.9,38.73L212.4,38.59L212.9,38.45L213.4,38.29L213.9,38.13L214.4,37.96L214.9,37.77L215.4,37.55L215.9,37.28L216.4,36.96L216.9,36.57L217.4,36.13L217.9,35.63L218.4,35.09L218.9,34.52L219.4,33.91L219.9,33.29L220.4,32.65L220.9,31.99L221.4,31.31L221.9,30.61L222.4,29.90L222.9,29.19L223.4,28.50L223.9,27.85L224.4,27.22L224.9,26.63L225.4,26.06L225.9,25.51L226.4,24.99L226.9,24.49L227.4,24.03L227.9,23.60L228.4,23.24L228.9,22.96L229.4,22.75L229.9,22.62L230.4,22.56L230.9,22.57L231.4,22.66L231.9,22.82L232.4,23.08L232.9,23.40L233.4,23.76L233.9,24.16L234.4,24.60L234.9,25.06L235.4,25.56L235.9,26.11L236.4,26.72L236.9,27.41L237.4,28.17L237.9,28.98L238.4,29.81L238.9,30.62L239.4,31.40L239.9,32.18L240.4,32.95L240.9,33.72L241.4,34.51L241.9,35.32L242.4,36.14L242.9,37.00L243.4,37.87L243.9,38.75L244.4,39.65L244.9,40.55L245.4,41.46L245.9,42.36L246.4,43.26L246.9,44.16L247.4,45.04L247.9,45.94L248.4,46.84L248.9,47.75L249.4,48.68L249.9,49.64L250.4,50.62L250.9,51.63L251.4,52.67L251.9,53.73L252.4,54.80L252.9,55.85L253.4,56.89L253.9,57.91L254.4,58.90L254.9,59.88L255.4,60.85L255.9,61.79L256.4,62.70L256.9,63.57L257.4,64.39L257.9,65.15L258.4,65.86L258.9,66.51L259.4,67.12L259.9,67.68L260.4,68.20L260.9,68.66L261.4,69.08L261.9,69.45L262.4,69.77L262.9,70.05L263.4,70.28L263.9,70.47L264.4,70.61L264.9,70.72L265.4,70.77L265.9,70.77L266.4,70.72L266.9,70.62L267.4,70.48L267.9,70.30L268.4,70.08L268.9,69.83L269.4,69.56L269.9,69.25L270.4,68.90L270.9,68.52L271.4,68.12L271.9,67.72L272.4,67.32L272.9,66.94L273.4,66.58L273.9,66.24L274.4,65.90L274.9,65.58L275.4,65.25L275.9,64.94L276.4,64.63L276.9,64.32L277.4,64.01L277.9,63.70L278.4,63.39L278.9,63.08L279.4,62.80L279.9,62.54L280.4,62.31L280.9,62.12L281.4,61.98L281.9,61.88L282.4,61.82L282.9,61.79L283.4,61.79L283.9,61.81L284.4,61.85L284.9,61.94L285.4,62.07L285.9,62.26L286.4,62.49L286.9,62.76L287.4,63.06L287.9,63.39L288.4,63.72L288.9,64.06L289.4,64.40L289.9,64.75L290.4,65.09L290.9,65.44L291.4,65.80L291.9,66.16L292.4,66.51L292.9,66.86L293.4,67.20L293.9,67.52L294.4,67.82L294.9,68.11L295.4,68.39L295.9,68.65L296.4,68.90L296.9,69.13L297.4,69.35L297.9,69.55L298.4,69.74L298.9,69.90L299.4,70.06L299.9,70.19L300.4,70.31L300.9,70.42L301.4,70.52L301.9,70.60L302.4,70.68L302.9,70.73L303.4,70.78L303.9,70.81L304.4,70.83L304.9,70.84L305.4,70.84L305.9,70.82L306.4,70.80L306.9,70.77L307.4,70.72L307.9,70.66L308.4,70.60L308.9,70.52L309.4,70.44L309.9,70.36L310.4,70.26L310.9,70.15L311.4,70.04L311.9,69.91L312.4,69.75L312.9,69.58L313.4,69.39L313.9,69.17L314.4,68.94L314.9,68.69L315.4,68.42L315.9,68.15L316.4,67.87L316.9,67.58L317.4,67.28L317.9,66.98L318.4,66.66L318.9,66.34L319.4,66.03L319.9,65.73L320.4,65.45L320.9,65.18L321.4,64.93L321.9,64.69L322.4,64.46L322.9,64.26L323.4,64.09L323.9,63.95L324.4,63.83L324.9,63.75L325.4,63.69L325.9,63.65L326.4,63.62L326.9,63.59L327.4,63.58L327.9,63.56L328.4,63.55L328.9,63.54L329.4,63.52L329.9,63.49L330.4,63.46L330.9,63.43L331.4,63.40L331.9,63.38L332.4,63.34L332.9,63.31L333.4,63.27L333.9,63.22L334.4,63.15L334.9,63.07L335.4,62.98L335.9,62.86L336.4,62.73L336.9,62.58L337.4,62.41L337.9,62.22L338.4,62.01L338.9,61.78L339.4,61.53L339.9,61.25L340.4,60.95L340.9,60.64L341.4,60.33L341.9,60.04L342.4,59.76L342.9,59.49L343.4,59.25L343.9,59.02L344.4,58.80L344.9,58.59L345.4,58.39L345.9,58.20L346.4,58.02L346.9,57.86L347.4,57.70L347.9,57.57L348.4,57.46L348.9,57.38L349.4,57.35L349.9,57.36L350.4,57.42L350.9,57.52L351.4,57.65L351.9,57.79L352.4,57.95L352.9,58.12L353.4,58.29L353.9,58.47L354.4,58.66L354.9,58.85L355.4,59.03L355.9,59.18L356.4,59.31L356.9,59.41L357.4,59.50L357.9,59.56L358.4,59.60L358.9,59.61L359.4,59.59L359.9,59.54L360.4,59.44L360.9,59.31L361.4,59.12L361.9,58.90L362.4,58.66L362.9,58.39L363.4,58.12L363.9,57.84L364.4,57.57L364.9,57.29L365.4,57.00L365.9,56.71L366.4,56.41L366.9,56.12L367.4,55.83L367.9,55.54L368.4,55.26L368.9,54.99L369.4,54.72L369.9,54.46L370.4,54.20L370.9,53.94L371.4,53.68L371.9,53.43L372.4,53.18L372.9,52.93L373.4,52.68L373.9,52.44L374.4,52.21L374.9,51.98L375.4,51.77L375.9,51.57L376.4,51.38L376.9,51.20L377.4,51.03L377.9,50.86L378.4,50.68L378.9,50.51L379.4,50.34L379.9,50.19L380.4,50.08" fill="none" stroke="#8c8cff" stroke-width="0.75"/>
<path d="M62.9,73.52L63.4,73.21L63.9,72.80L64.4,72.33L64.9,71.86L65.4,71.37L65.9,70.87L66.4,70.37L66.9,69.87L67.4,69.36L67.9,68.84L68.4,68.30L68.9,67.74L69.4,67.18L69.9,66.62L70.4,66.06L70.9,65.52L71.4,65.00L71.9,64.50L72.4,64.02L72.9,63.55L73.4,63.10L73.9,62.67L74.4,62.26L74.9,61.88L75.4,61.53L75.9,61.20L76.4,60.92L76.9,60.69L77.4,60.52L77.9,60.39L78.4,60.31L78.9,60.27L79.4,60.28L79.9,60.31L80.4,60.38L80.9,60.46L81.4,60.55L81.9,60.64L82.4,60.74L82.9,60.84L83.4,60.94L83.9,61.04L84.4,61.15L84.9,61.27L85.4,61.39L85.9,61.50L86.4,61.61L86.9,61.72L87.4,61.81L87.9,61.89L88.4,61.97L88.9,62.03L89.4,62.09L89.9,62.14L90.4,62.18L90.9,62.22L91.4,62.25L91.9,62.27L92.4,62.29L92.9,62.30L93.4,62.30L93.9,62.30L94.4,62.29L94.9,62.27L95.4,62.24L95.9,62.22L96.4,62.18L96.9,62.15L97.4,62.11L97.9,62.07L98.4,62.02L98.9,61.96L99.4,61.87L99.9,61.76L100.4,61.64L100.9,61.50L101.4,61.37L101.9,61.23L102.4,61.09L102.9,60.95L103.4,60.81L103.9,60.66L104.4,60.51L104.9,60.35L105.4,60.19L105.9,60.01L106.4,59.84L106.9,59.65L107.4,59.46L107.9,59.28L108.4,59.09L108.9,58.91L109.4,58.74L109.9,58.59L110.4,58.46L110.9,58.34L111.4,58.25L111.9,58.19L112.4,58.17L112.9,58.18L113.4,58.21L113.9,58.27L114.4,58.34L114.9,58.42L115.4,58.51L115.9,58.62L116.4,58.75L116.9,58.90L117.4,59.07L117.9,59.27L118.4,59.50L118.9,59.77L119.4,60.07L119.9,60.40L120.4,60.76L120.9,61.15L121.4,61.55L121.9,61.98L122.4,62.44L122.9,62.92L123.4,63.42L123.9,63.94L124.4,64.46L124.9,64.98L125.4,65.49L125.9,66.00L126.4,66.51L126.9,67.01L127.4,67.51L127.9,68.01L128.4,68.51L128.9,69.00L129.4,69.50L129.9,69.99L130.4,70.49L130.9,70.98L131.4,71.47L131.9,71.93L132.4,72.38L132.9,72.80L133.4,73.20L133.9,73.58L134.4,73.93L134.9,74.27L135.4,74.58L135.9,74.86L136.4,75.10L136.9,75.31L137.4,75.49L137.9,75.63L138.4,75.73L138.9,75.81L139.4,75.87L139.9,75.89L140.4,75.90L140.9,75.88L141.4,75.84L141.9,75.77L142.4,75.68L142.9,75.56L143.4,75.41L143.9,75.23L144.4,75.02L144.9,74.78L145.4,74.51L145.9,74.22L146.4,73.90L146.9,73.56L147.4,73.21L147.9,72.83L148.4,72.45L148.9,72.03L149.4,71.60L149.9,71.13L150.4,70.66L150.9,70.18L151.4,69.72L151.9,69.27L152.4,68.86L152.9,68.48L153.4,68.14L153.9,67.82L154.4,67.53L154.9,67.26L155.4,67.01L155.9,66.79L156.4,66.58L156.9,66.40L157.4,66.24L157.9,66.11L158.4,65.99L158.9,65.89L159.4,65.79L159.9,65.69L160.4,65.59L160.9,65.49L161.4,65.40L161.9,65.31L162.4,65.22L162.9,65.13L163.4,65.03L163.9,64.92L164.4,64.81L164.9,64.69L165.4,64.57L165.9,64.44L166.4,64.29L166.9,64.13L167.4,63.94L167.9,63.73L168.4,63.49L168.9,63.23L169.4,62.95L169.9,62.65L170.4,62.32L170.9,61.98L171.4,61.61L171.9,61.21L172.4,60.79L172.9,60.33L173.4,59.86L173.9,59.38L174.4,58.90L174.9,58.43L175.4,57.98L175.9,57.54L176.4,57.12L176.9,56.70L177.4,56.30L177.9,55.91L178.4,55.53L178.9,55.16L179.4,54.80L179.9,54.45L180.4,54.10L180.9,53.77L181.4,53.46L181.9,53.16L182.4,52.88L182.9,52.62L183.4,52.39L183.9,52.18L184.4,52.00L184.9,51.83L185.4,51.69L185.9,51.56L186.4,51.44L186.9,51.34L187.4,51.25L187.9,51.17L188.4,51.11L188.9,51.06L189.4,51.03L189.9,51.00L190.4,50.97L190.9,50.95L191.4,50.94L191.9,50.93L192.4,50.93L192.9,50.93L193.4,50.93L193.9,50.93L194.4,50.92L194.9,50.90L195.4,50.88L195.9,50.85L196.4,50.82L196.9,50.78L197.4,50.73L197.9,50.68L198.4,50.62L198.9,50.54L199.4,50.46L199.9,50.37L200.4,50.27L200.9,50.17L201.4,50.05L201.9,49.93L202.4,49.80L202.9,49.67L203.4,49.55L203.9,49.42L204.4,49.30L204.9,49.19L205.4,49.09L205.9,49.00L206.4,48.92L206.9,48.84L207.4,48.77L207.9,48.70L208.4,48.61L208.9,48.52L209.4,48.42L209.9,48.31L210.4,48.20L210.9,48.08L211.4,47.95L211.9,47.81L212.4,47.65L212.9,47.48L213.4,47.31L213.9,47.12L214.4,46.93L214.9,46.71L215.4,46.47L215.9,46.18L216.4,45.84L216.9,45.46L217.4,45.04L217.9,44.57L218.4,44.08L218.9,43.56L219.4,43.04L219.9,42.50L220.4,41.97L220.9,41.42L221.4,40.84L221.9,40.25L222.4,39.65L222.9,39.05L223.4,38.47L223.9,37.92L224.4,37.41L224.9,36.92L225.4,36.46L225.9,36.02L226.4,35.61L226.9,35.22L227.4,34.86L227.9,34.55L228.4,34.28L228.9,34.06L229.4,33.89L229.9,33.78L230.4,33.72L230.9,33.71L231.4,33.74L231.9,33.84L232.4,34.00L232.9,34.22L233.4,34.48L233.9,34.78L234.4,35.12L234.9,35.48L235.4,35.88L235.9,36.33L236.4,36.84L236.9,37.43L237.4,38.09L237.9,38.80L238.4,39.53L238.9,40.24L239.4,40.92L239.9,41.60L240.4,42.27L240.9,42.94L241.4,43.63L241.9,44.34L242.4,45.06L242.9,45.82L243.4,46.60L243.9,47.41L244.4,48.24L244.9,49.10L245.4,49.97L245.9,50.85L246.4,51.74L246.9,52.63L247.4,53.54L247.9,54.45L248.4,55.37L248.9,56.31L249.4,57.26L249.9,58.23L250.4,59.24L250.9,60.27L251.4,61.33L251.9,62.41L252.4,63.49L252.9,64.57L253.4,65.63L253.9,66.66L254.4,67.68L254.9,68.68L255.4,69.66L255.9,70.63L256.4,71.56L256.9,72.45L257.4,73.29L257.9,74.07L258.4,74.79L258.9,75.47L259.4,76.10L259.9,76.68L260.4,77.21L260.9,77.70L261.4,78.13L261.9,78.52L262.4,78.87L262.9,79.16L263.4,79.41L263.9,79.62L264.4,79.77L264.9,79.88L265.4,79.94L265.9,79.94L266.4,79.89L266.9,79.79L267.4,79.63L267.9,79.44L268.4,79.21L268.9,78.96L269.4,78.67L269.9,78.35L270.4,77.99L270.9,77.60L271.4,77.20L271.9,76.78L272.4,76.38L272.9,75.99L273.4,75.62L273.9,75.26L274.4,74.91L274.9,74.58L275.4,74.25L275.9,73.92L276.4,73.60L276.9,73.28L277.4,72.96L277.9,72.64L278.4,72.32L278.9,72.01L279.4,71.71L279.9,71.44L280.4,71.20L280.9,71.00L281.4,70.85L281.9,70.74L282.4,70.67L282.9,70.63L283.4,70.62L283.9,70.63L284.4,70.66L284.9,70.74L285.4,70.86L285.9,71.04L286.4,71.26L286.9,71.53L287.4,71.82L287.9,72.13L288.4,72.45L288.9,72.78L289.4,73.12L289.9,73.45L290.4,73.79L290.9,74.13L291.4,74.47L291.9,74.82L292.4,75.17L292.9,75.50L293.4,75.83L293.9,76.14L294.4,76.43L294.9,76.71L295.4,76.98L295.9,77.23L296.4,77.47L296.9,77.70L297.4,77.90L297.9,78.10L298.4,78.27L298.9,78.43L299.4,78.57L299.9,78.69L300.4,78.81L300.9,78.91L301.4,78.99L301.9,79.07L302.4,79.13L302.9,79.18L303.4,79.21L303.9,79.24L304.4,79.25L304.9,79.25L305.4,79.25L305.9,79.24L306.4,79.21L306.9,79.18L307.4,79.14L307.9,79.09L308.4,79.03L308.9,78.96L309.4,78.88L309.9,78.80L310.4,78.71L310.9,78.61L311.4,78.49L311.9,78.37L312.4,78.22L312.9,78.05L313.4,77.86L313.9,77.65L314.4,77.42L314.9,77.17L315.4,76.91L315.9,76.64L316.4,76.37L316.9,76.09L317.4,75.79L317.9,75.49L318.4,75.18L318.9,74.86L319.4,74.56L319.9,74.26L320.4,73.99L320.9,73.72L321.4,73.47L321.9,73.24L322.4,73.02L322.9,72.82L323.4,72.65L323.9,72.51L324.4,72.41L324.9,72.33L325.4,72.27L325.9,72.23L326.4,72.21L326.9,72.19L327.4,72.18L327.9,72.17L328.4,72.16L328.9,72.15L329.4,72.13L329.9,72.11L330.4,72.09L330.9,72.06L331.4,72.04L331.9,72.01L332.4,71.99L332.9,71.96L333.4,71.92L333.9,71.87L334.4,71.81L334.9,71.74L335.4,71.65L335.9,71.54L336.4,71.41L336.9,71.26L337.4,71.10L337.9,70.91L338.4,70.71L338.9,70.48L339.4,70.23L339.9,69.96L340.4,69.66L340.9,69.36L341.4,69.06L341.9,68.76L342.4,68.49L342.9,68.23L343.4,67.99L343.9,67.76L344.4,67.55L344.9,67.34L345.4,67.15L345.9,66.96L346.4,66.79L346.9,66.63L347.4,66.48L347.9,66.35L348.4,66.24L348.9,66.16L349.4,66.13L349.9,66.13L350.4,66.17L350.9,66.26L351.4,66.37L351.9,66.49L352.4,66.62L352.9,66.76L353.4,66.91L353.9,67.06L354.4,67.23L354.9,67.39L355.4,67.54L355.9,67.67L356.4,67.77L356.9,67.85L357.4,67.90L357.9,67.94L358.4,67.95L358.9,67.93L359.4,67.89L359.9,67.81L360.4,67.69L360.9,67.52L361.4,67.32L361.9,67.07L362.4,66.79L362.9,66.50L363.4,66.20L363.9,65.90L364.4,65.60L364.9,65.29L365.4,64.98L365.9,64.66L366.4,64.34L366.9,64.02L367.4,63.70L367.9,63.39L368.4,63.08L368.9,62.78L369.4,62.49L369.9,62.20L370.4,61.91L370.9,61.62L371.4,61.34L371.9,61.06L372.4,60.78L372.9,60.51L373.4,60.23L373.9,59.96L374.4,59.70L374.9,59.46L375.4,59.22L375.9,58.99L376.4,58.78L376.9,58.57L377.4,58.37L377.9,58.17L378.4,57.97L378.9,57.78L379.4,57.59L379.9,57.42L380.4,57.30" fill="none" stroke="#8c8cff" stroke-width="0.75"/>
<line x1="62.9" y1="62.90" x2="373.5" y2="62.90" stroke="#000" stroke-width="1.7" stroke-dasharray="8.7 9.05"/>
<path d="M62.9,67.23L63.4,66.97L63.9,66.62L64.4,66.23L64.9,65.84L65.4,65.45L65.9,65.05L66.4,64.65L66.9,64.25L67.4,63.84L67.9,63.42L68.4,62.98L68.9,62.53L69.4,62.06L69.9,61.60L70.4,61.15L70.9,60.71L71.4,60.30L71.9,59.90L72.4,59.53L72.9,59.17L73.4,58.83L73.9,58.50L74.4,58.20L74.9,57.92L75.4,57.67L75.9,57.46L76.4,57.27L76.9,57.13L77.4,57.02L77.9,56.96L78.4,56.92L78.9,56.92L79.4,56.95L79.9,57.00L80.4,57.07L80.9,57.14L81.4,57.23L81.9,57.32L82.4,57.41L82.9,57.50L83.4,57.60L83.9,57.70L84.4,57.81L84.9,57.92L85.4,58.04L85.9,58.15L86.4,58.26L86.9,58.36L87.4,58.45L87.9,58.53L88.4,58.60L88.9,58.66L89.4,58.71L89.9,58.76L90.4,58.80L90.9,58.83L91.4,58.86L91.9,58.88L92.4,58.89L92.9,58.89L93.4,58.89L93.9,58.88L94.4,58.86L94.9,58.83L95.4,58.80L95.9,58.76L96.4,58.71L96.9,58.67L97.4,58.62L97.9,58.57L98.4,58.51L98.9,58.44L99.4,58.34L99.9,58.22L100.4,58.09L100.9,57.95L101.4,57.80L101.9,57.65L102.4,57.50L102.9,57.35L103.4,57.20L103.9,57.04L104.4,56.88L104.9,56.71L105.4,56.54L105.9,56.36L106.4,56.17L106.9,55.97L107.4,55.77L107.9,55.58L108.4,55.38L108.9,55.19L109.4,55.02L109.9,54.85L110.4,54.71L110.9,54.58L111.4,54.48L111.9,54.41L112.4,54.38L112.9,54.39L113.4,54.42L113.9,54.47L114.4,54.54L114.9,54.62L115.4,54.71L115.9,54.82L116.4,54.95L116.9,55.10L117.4,55.27L117.9,55.47L118.4,55.70L118.9,55.97L119.4,56.27L119.9,56.60L120.4,56.96L120.9,57.35L121.4,57.75L121.9,58.18L122.4,58.64L122.9,59.12L123.4,59.62L123.9,60.14L124.4,60.66L124.9,61.18L125.4,61.69L125.9,62.20L126.4,62.71L126.9,63.21L127.4,63.71L127.9,64.21L128.4,64.71L128.9,65.20L129.4,65.70L129.9,66.19L130.4,66.69L130.9,67.18L131.4,67.67L131.9,68.13L132.4,68.58L132.9,69.00L133.4,69.40L133.9,69.78L134.4,70.13L134.9,70.47L135.4,70.78L135.9,71.06L136.4,71.30L136.9,71.51L137.4,71.69L137.9,71.83L138.4,71.93L138.9,72.01L139.4,72.06L139.9,72.09L140.4,72.09L140.9,72.07L141.4,72.02L141.9,71.95L142.4,71.85L142.9,71.73L143.4,71.58L143.9,71.39L144.4,71.18L144.9,70.93L145.4,70.66L145.9,70.36L146.4,70.04L146.9,69.69L147.4,69.33L147.9,68.96L148.4,68.56L148.9,68.14L149.4,67.70L149.9,67.24L150.4,66.76L150.9,66.27L151.4,65.80L151.9,65.35L152.4,64.94L152.9,64.55L153.4,64.21L153.9,63.88L154.4,63.59L154.9,63.31L155.4,63.06L155.9,62.83L156.4,62.62L156.9,62.43L157.4,62.27L157.9,62.13L158.4,62.01L158.9,61.89L159.4,61.78L159.9,61.67L160.4,61.55L160.9,61.44L161.4,61.32L161.9,61.21L162.4,61.10L162.9,60.98L163.4,60.86L163.9,60.72L164.4,60.59L164.9,60.44L165.4,60.30L165.9,60.14L166.4,59.97L166.9,59.78L167.4,59.57L167.9,59.33L168.4,59.07L168.9,58.79L169.4,58.48L169.9,58.15L170.4,57.80L170.9,57.43L171.4,57.04L171.9,56.62L172.4,56.17L172.9,55.69L173.4,55.19L173.9,54.68L174.4,54.18L174.9,53.68L175.4,53.21L175.9,52.75L176.4,52.30L176.9,51.86L177.4,51.43L177.9,51.01L178.4,50.61L178.9,50.21L179.4,49.83L179.9,49.46L180.4,49.10L180.9,48.75L181.4,48.41L181.9,48.09L182.4,47.80L182.9,47.52L183.4,47.27L183.9,47.05L184.4,46.85L184.9,46.67L185.4,46.51L185.9,46.36L186.4,46.23L186.9,46.11L187.4,46.00L187.9,45.91L188.4,45.83L188.9,45.77L189.4,45.71L189.9,45.67L190.4,45.63L190.9,45.59L191.4,45.57L191.9,45.55L192.4,45.54L192.9,45.54L193.4,45.53L193.9,45.53L194.4,45.52L194.9,45.50L195.4,45.49L195.9,45.47L196.4,45.45L196.9,45.43L197.4,45.40L197.9,45.38L198.4,45.35L198.9,45.31L199.4,45.27L199.9,45.22L200.4,45.17L200.9,45.11L201.4,45.04L201.9,44.96L202.4,44.88L202.9,44.79L203.4,44.70L203.9,44.62L204.4,44.53L204.9,44.45L205.4,44.38L205.9,44.31L206.4,44.25L206.9,44.19L207.4,44.13L207.9,44.06L208.4,43.99L208.9,43.91L209.4,43.82L209.9,43.73L210.4,43.63L210.9,43.52L211.4,43.40L211.9,43.27L212.4,43.12L212.9,42.96L213.4,42.80L213.9,42.63L214.4,42.45L214.9,42.24L215.4,42.01L215.9,41.73L216.4,41.40L216.9,41.02L217.4,40.58L217.9,40.10L218.4,39.59L218.9,39.04L219.4,38.47L219.9,37.90L220.4,37.31L220.9,36.70L221.4,36.07L221.9,35.43L222.4,34.77L222.9,34.12L223.4,33.49L223.9,32.88L224.4,32.31L224.9,31.77L225.4,31.26L225.9,30.77L226.4,30.30L226.9,29.86L227.4,29.44L227.9,29.08L228.4,28.76L228.9,28.51L229.4,28.32L229.9,28.20L230.4,28.14L230.9,28.14L231.4,28.20L231.9,28.33L232.4,28.54L232.9,28.81L233.4,29.12L233.9,29.47L234.4,29.86L234.9,30.27L235.4,30.72L235.9,31.22L236.4,31.78L236.9,32.42L237.4,33.13L237.9,33.89L238.4,34.67L238.9,35.43L239.4,36.16L239.9,36.89L240.4,37.61L240.9,38.33L241.4,39.07L241.9,39.83L242.4,40.60L242.9,41.41L243.4,42.23L243.9,43.08L244.4,43.95L244.9,44.83L245.4,45.71L245.9,46.60L246.4,47.50L246.9,48.39L247.4,49.29L247.9,50.19L248.4,51.10L248.9,52.03L249.4,52.97L249.9,53.93L250.4,54.93L250.9,55.95L251.4,57.00L251.9,58.07L252.4,59.14L252.9,60.21L253.4,61.26L253.9,62.28L254.4,63.29L254.9,64.28L255.4,65.25L255.9,66.21L256.4,67.13L256.9,68.01L257.4,68.84L257.9,69.61L258.4,70.32L258.9,70.99L259.4,71.61L259.9,72.18L260.4,72.70L260.9,73.18L261.4,73.61L261.9,73.98L262.4,74.32L262.9,74.60L263.4,74.85L263.9,75.04L264.4,75.19L264.9,75.30L265.4,75.35L265.9,75.36L266.4,75.31L266.9,75.21L267.4,75.06L267.9,74.87L268.4,74.65L268.9,74.39L269.4,74.11L269.9,73.80L270.4,73.45L270.9,73.06L271.4,72.66L271.9,72.25L272.4,71.85L272.9,71.47L273.4,71.10L273.9,70.75L274.4,70.41L274.9,70.08L275.4,69.75L275.9,69.43L276.4,69.11L276.9,68.80L277.4,68.48L277.9,68.17L278.4,67.85L278.9,67.55L279.4,67.25L279.9,66.99L280.4,66.76L280.9,66.56L281.4,66.41L281.9,66.31L282.4,66.24L282.9,66.21L283.4,66.20L283.9,66.22L284.4,66.26L284.9,66.34L285.4,66.47L285.9,66.65L286.4,66.88L286.9,67.14L287.4,67.44L287.9,67.76L288.4,68.09L288.9,68.42L289.4,68.76L289.9,69.10L290.4,69.44L290.9,69.78L291.4,70.14L291.9,70.49L292.4,70.84L292.9,71.18L293.4,71.51L293.9,71.83L294.4,72.13L294.9,72.41L295.4,72.68L295.9,72.94L296.4,73.19L296.9,73.42L297.4,73.63L297.9,73.82L298.4,74.00L298.9,74.17L299.4,74.31L299.9,74.44L300.4,74.56L300.9,74.66L301.4,74.76L301.9,74.84L302.4,74.90L302.9,74.95L303.4,74.99L303.9,75.02L304.4,75.04L304.9,75.05L305.4,75.04L305.9,75.03L306.4,75.01L306.9,74.97L307.4,74.93L307.9,74.88L308.4,74.81L308.9,74.74L309.4,74.66L309.9,74.58L310.4,74.48L310.9,74.38L311.4,74.27L311.9,74.14L312.4,73.99L312.9,73.82L313.4,73.63L313.9,73.41L314.4,73.18L314.9,72.93L315.4,72.67L315.9,72.40L316.4,72.12L316.9,71.83L317.4,71.54L317.9,71.23L318.4,70.92L318.9,70.60L319.4,70.29L319.9,70.00L320.4,69.72L320.9,69.45L321.4,69.20L321.9,68.96L322.4,68.74L322.9,68.54L323.4,68.37L323.9,68.23L324.4,68.12L324.9,68.04L325.4,67.98L325.9,67.94L326.4,67.91L326.9,67.89L327.4,67.88L327.9,67.87L328.4,67.86L328.9,67.84L329.4,67.82L329.9,67.80L330.4,67.78L330.9,67.75L331.4,67.72L331.9,67.69L332.4,67.67L332.9,67.63L333.4,67.59L333.9,67.54L334.4,67.48L334.9,67.40L335.4,67.31L335.9,67.20L336.4,67.07L336.9,66.92L337.4,66.75L337.9,66.57L338.4,66.36L338.9,66.13L339.4,65.88L339.9,65.60L340.4,65.31L340.9,65.00L341.4,64.69L341.9,64.40L342.4,64.12L342.9,63.86L343.4,63.62L343.9,63.39L344.4,63.17L344.9,62.96L345.4,62.77L345.9,62.58L346.4,62.41L346.9,62.24L347.4,62.09L347.9,61.96L348.4,61.85L348.9,61.77L349.4,61.74L349.9,61.74L350.4,61.80L350.9,61.89L351.4,62.01L351.9,62.14L352.4,62.29L352.9,62.44L353.4,62.60L353.9,62.77L354.4,62.95L354.9,63.12L355.4,63.28L355.9,63.42L356.4,63.54L356.9,63.63L357.4,63.70L357.9,63.75L358.4,63.77L358.9,63.77L359.4,63.74L359.9,63.68L360.4,63.57L360.9,63.41L361.4,63.22L361.9,62.99L362.4,62.73L362.9,62.45L363.4,62.16L363.9,61.87L364.4,61.58L364.9,61.29L365.4,60.99L365.9,60.68L366.4,60.38L366.9,60.07L367.4,59.76L367.9,59.46L368.4,59.17L368.9,58.89L369.4,58.61L369.9,58.33L370.4,58.05L370.9,57.78L371.4,57.51L371.9,57.25L372.4,56.98L372.9,56.72L373.4,56.46L373.9,56.20L374.4,55.96L374.9,55.72L375.4,55.50L375.9,55.28L376.4,55.08L376.9,54.89L377.4,54.70L377.9,54.51L378.4,54.33L378.9,54.15L379.4,53.97L379.9,53.81L380.4,53.69" fill="none" stroke="#1e1ef2" stroke-width="1.1" stroke-linejoin="round"/>
<path d="M58.65,4.80V121.10" fill="none" stroke="#444" stroke-width="1.05"/>
<path d="M58.15,120.55H389.2" fill="none" stroke="#5a5a5a" stroke-width="1.2"/>
<line x1="58.65" y1="5.30" x2="62.0" y2="5.30" stroke="#3a3a3a" stroke-width="1"/>
<text x="54.5" y="10.2" text-anchor="end" class="tk">1.5</text>
<line x1="58.65" y1="43.67" x2="62.0" y2="43.67" stroke="#3a3a3a" stroke-width="1"/>
<text x="54.5" y="48.6" text-anchor="end" class="tk">0.5</text>
<line x1="58.65" y1="82.03" x2="62.0" y2="82.03" stroke="#3a3a3a" stroke-width="1"/>
<text x="54.5" y="87.6" text-anchor="end" class="tk">−0.5</text>
<line x1="99.66" y1="120.40" x2="99.66" y2="117.40" stroke="#333" stroke-width="1.3"/>
<line x1="140.99" y1="120.40" x2="140.99" y2="117.40" stroke="#333" stroke-width="1.3"/>
<line x1="182.33" y1="120.40" x2="182.33" y2="117.40" stroke="#333" stroke-width="1.3"/>
<line x1="223.67" y1="120.40" x2="223.67" y2="117.40" stroke="#333" stroke-width="1.3"/>
<line x1="265.00" y1="120.40" x2="265.00" y2="117.40" stroke="#333" stroke-width="1.3"/>
<line x1="306.34" y1="120.40" x2="306.34" y2="117.40" stroke="#333" stroke-width="1.3"/>
<line x1="347.68" y1="120.40" x2="347.68" y2="117.40" stroke="#333" stroke-width="1.3"/>
<text x="89.4" y="34.4" class="tt" textLength="35.4" lengthAdjust="spacingAndGlyphs">SYNC</text>
<text x="182.6 186.7 190.8 195.0 199.1 203.2 207.3 211.4 215.6 219.7 223.8 227.9 232.0 236.2 240.3 244.4 248.5" y="21.85" text-anchor="middle" class="st">✷✷✷✷✷✷✷✷✷✷✷✷✷✷✷✷✷</text>
<text x="137.3 141.4" y="88.75" text-anchor="middle" class="st">✷✷</text>
<text x="265.0 269.1" y="88.75" text-anchor="middle" class="st">✷✷</text>
<text x="293.8 298.0 302.1 306.2 310.3 314.4" y="88.75" text-anchor="middle" class="st">✷✷✷✷✷✷</text>
</g>
<g>
<line x1="58.8" y1="260.60" x2="380.8" y2="260.60" stroke="#808080" stroke-width="1.1"/>
<path d="M114.0,260.60H200.4M231.2,260.60H332.9" stroke="#484848" stroke-width="0.9" fill="none"/>
<path d="M121.75,260.08V260.99M122.25,259.69V261.18M122.75,259.40V261.26M123.25,259.58V261.46M123.75,259.30V261.41M124.25,259.56V261.41M124.75,259.10V261.60M125.25,259.89V261.05M125.75,259.90V261.09M126.25,258.61V261.57M126.75,258.89V261.75M127.25,259.79V261.09M127.75,259.78V261.10M128.25,258.44V262.05M128.75,258.74V261.98M129.25,259.69V261.09M129.75,259.82V261.13M130.25,258.59V262.12M130.75,258.39V262.20M131.25,259.67V261.25M131.75,259.72V261.16M132.25,258.02V261.88M132.75,258.37V262.07M133.25,259.75V261.18M133.75,259.53V261.24M134.25,258.06V261.88M134.75,257.92V262.30M135.25,259.69V261.25M135.75,259.66V261.15M136.25,258.33V261.99M136.75,258.30V262.42M137.25,259.62V261.21M137.75,259.47V261.37M138.25,258.22V262.01M138.75,257.77V262.05M139.25,259.54V261.18M139.75,259.53V261.37M140.25,258.08V262.18M140.75,257.91V262.43M141.25,259.45V261.38M141.75,259.45V261.33M142.25,257.99V262.00M142.75,258.04V262.40M143.25,259.41V261.39M143.75,259.58V261.21M144.25,257.79V262.54M144.75,257.77V262.49M145.25,259.40V261.35M145.75,259.58V261.36M146.25,257.54V262.26M146.75,257.68V262.13M147.25,259.39V261.37M147.75,259.36V261.34M148.25,258.01V262.06M148.75,257.73V262.65M149.25,259.37V261.24M149.75,259.51V261.34M150.25,257.92V262.68M150.75,257.61V262.69M151.25,259.42V261.35M151.75,259.42V261.26M152.25,257.81V262.46M152.75,257.69V262.50M153.25,259.49V261.38M153.75,259.30V261.37M154.25,257.22V262.49M154.75,257.47V262.68M155.25,259.35V261.51M155.75,259.21V261.32M156.25,257.17V262.33M156.75,257.70V262.42M157.25,259.23V261.52M157.75,259.25V261.31M158.25,257.53V262.96M158.75,256.96V262.89M159.25,259.27V261.38M159.75,259.21V261.29M160.25,257.62V262.56M160.75,257.57V263.05M161.25,259.37V261.37M161.75,259.31V261.34M162.25,256.95V262.55M162.75,257.12V262.89M163.25,259.16V261.44M163.75,259.17V261.56M164.25,257.45V263.05M164.75,257.06V263.11M165.25,259.18V261.40M165.75,259.33V261.39M166.25,256.84V262.65M166.75,257.15V262.45M167.25,259.09V261.51M167.75,259.02V261.38M168.25,256.98V263.13M168.75,256.80V263.26M169.25,259.07V261.56M169.75,259.27V261.40M170.25,257.10V262.63M170.75,256.57V263.06M171.25,259.17V261.52M171.75,259.18V261.69M172.25,257.04V263.34M172.75,257.24V262.86M173.25,259.19V261.55M173.75,259.22V261.51M174.25,256.97V262.74M174.75,256.59V263.10M175.25,259.12V261.49M175.75,259.00V261.60M176.25,256.47V263.08M176.75,257.10V262.99M177.25,258.97V261.66M177.75,259.01V261.62M178.25,257.10V262.86M178.75,256.73V263.09M179.25,259.08V261.39M179.75,259.07V261.57M180.25,256.57V262.78M180.75,256.58V262.74M181.25,259.07V261.52M181.75,258.97V261.60M182.25,257.06V262.79M182.75,256.70V262.58M183.25,259.00V261.62M183.75,259.06V261.55M184.25,256.41V262.75M184.75,257.16V262.97M185.25,259.07V261.48M185.75,259.16V261.59M186.25,256.35V262.70M186.75,256.40V263.18M187.25,259.06V261.40M187.75,259.11V261.48M188.25,257.13V263.13M188.75,256.88V262.47M189.25,259.16V261.36M189.75,259.42V261.28M190.25,259.03V261.47M190.75,259.48V261.45M192.25,259.75V261.09M192.75,259.92V261.00M231.75,259.91V261.09M232.25,259.87V261.14M232.75,259.65V261.19M233.25,259.78V261.18M233.75,259.52V261.15M234.25,259.54V261.18M234.75,259.72V261.25M235.25,259.49V261.16M235.75,259.46V261.28M236.25,259.67V261.41M236.75,259.37V261.25M237.25,259.57V261.38M237.75,259.49V261.41M238.25,259.77V261.43M238.75,259.45V261.32M239.25,259.43V261.44M239.75,259.47V261.42M240.25,259.37V261.30M240.75,258.90V261.65M241.25,259.18V261.65M241.75,258.93V261.69M242.25,258.62V261.95M242.75,258.61V261.96M243.25,257.88V262.20M243.75,257.89V262.33M244.25,257.28V262.46M244.75,257.83V263.14M245.25,257.77V262.85M245.75,257.74V262.96M246.25,257.59V262.77M246.75,256.10V263.67M247.25,255.82V263.27M247.75,254.05V264.10M248.25,253.36V265.76M248.75,253.70V265.80M249.25,251.23V265.52M249.75,251.74V265.96M250.25,253.36V266.90M250.75,251.47V265.18M251.25,251.94V265.20M251.75,251.39V265.62M252.25,253.49V265.65M252.75,253.76V266.51M253.25,254.70V266.59M253.75,251.30V265.17M254.25,251.26V266.97M254.75,253.16V266.08M255.25,251.81V266.55M255.75,252.52V265.76M256.25,251.89V265.28M256.75,253.82V265.25M257.25,253.53V267.02M257.75,253.75V265.28M258.25,252.15V265.99M258.75,252.47V266.43M259.25,252.31V265.36M259.75,252.66V265.84M260.25,253.82V265.60M260.75,252.62V265.75M261.25,252.88V265.57M261.75,251.13V265.32M262.25,251.68V266.89M262.75,254.33V265.45M263.25,251.55V265.73M263.75,254.01V266.42M264.25,252.94V266.05M264.75,254.59V265.22M265.25,252.96V265.15M265.75,252.99V265.06M266.25,252.72V265.63M266.75,254.11V265.56M267.25,254.94V265.73M267.75,254.58V266.08M268.25,254.52V265.12M268.75,253.65V264.71M269.25,259.02V261.90M269.75,258.88V261.88M270.25,254.37V265.17M270.75,254.31V265.24M271.25,259.02V261.62M271.75,259.05V261.69M272.25,254.31V264.36M272.75,253.94V264.22M273.25,258.80V261.71M273.75,258.85V261.55M274.25,253.62V264.31M274.75,254.12V264.58M275.25,258.92V261.77M275.75,258.92V261.46M276.25,254.13V264.74M276.75,254.42V264.76M277.25,259.06V261.58M277.75,259.05V261.50M278.25,254.49V264.12M278.75,254.97V264.44M279.25,259.07V261.42M279.75,259.01V261.67M280.25,254.58V264.29M280.75,254.16V265.11M281.25,259.22V261.71M281.75,258.99V261.43M282.25,255.32V264.16M282.75,254.28V264.03M283.25,259.16V261.66M283.75,259.17V261.46M284.25,255.34V264.81M284.75,255.37V264.59M285.25,259.15V261.46M285.75,259.18V261.62M286.25,254.89V264.03M286.75,254.48V264.24M287.25,259.25V261.38M287.75,259.14V261.40M288.25,255.08V264.28M288.75,255.77V263.63M289.25,259.26V261.58M289.75,259.22V261.31M290.25,255.77V263.83M290.75,255.24V263.62M291.25,259.40V261.57M291.75,259.42V261.47M292.25,255.55V263.64M292.75,255.40V263.72M293.25,259.20V261.49M293.75,259.46V261.42M294.25,256.06V264.15M294.75,255.11V263.40M295.25,259.36V261.44M295.75,259.42V261.33M296.25,255.42V263.97M296.75,255.50V263.67M297.25,259.48V261.26M297.75,259.46V261.43M298.25,255.68V263.37M298.75,255.65V263.61M299.25,259.33V261.27M299.75,259.52V261.26M300.25,255.83V263.32M300.75,256.39V263.89M301.25,259.45V261.43M301.75,259.46V261.39M302.25,256.19V263.20M302.75,256.71V263.76M303.25,259.63V261.39M303.75,259.66V261.17M304.25,256.26V263.49M304.75,256.61V263.54M305.25,259.68V261.34M305.75,259.68V261.18M306.25,256.31V263.44M306.75,256.55V262.94M307.25,259.57V261.16M307.75,259.74V261.16M308.25,256.91V262.88M308.75,256.55V263.11M309.25,259.69V261.25M309.75,259.68V261.13M310.25,256.72V262.65M310.75,256.82V263.28M311.25,259.72V261.23M311.75,259.76V261.22M312.25,257.33V262.59M312.75,257.50V262.88M313.25,259.73V261.19M313.75,259.79V261.11M314.25,257.06V262.34M314.75,257.10V262.66M315.25,259.85V261.10M315.75,259.78V261.13M316.25,257.76V262.82M316.75,257.79V262.51M317.25,259.92V261.07M317.75,259.91V261.04M318.25,257.92V262.24M318.75,257.73V262.21M319.25,259.82V261.09M319.75,259.97V261.02M320.25,257.79V262.28M320.75,258.23V262.09M321.25,259.98V261.05M321.75,259.97V260.99M322.25,258.28V262.25M322.75,258.27V262.20M323.25,260.02V261.00M323.75,260.02V260.97M324.25,258.62V261.99M324.75,258.48V261.98M325.75,260.13V260.94M326.25,258.80V261.65M326.75,259.18V261.63M328.25,259.29V261.39M328.75,259.61V261.33" stroke="#5a5a5a" stroke-width="0.5" fill="none"/>
<path d="M114.05,259.70V261.50M114.55,259.70V261.50M115.05,259.70V261.50M121.25,260.45V260.79M121.75,260.30V260.96M122.25,260.14V261.13M122.75,259.97V260.99M123.25,260.14V261.05M123.75,260.09V261.23M124.25,259.94V261.11M124.75,259.84V261.27M125.25,260.01V261.15M125.75,260.05V261.26M126.25,259.71V261.31M126.75,259.81V261.53M127.25,260.07V261.35M127.75,259.75V261.25M128.25,259.67V261.47M128.75,259.69V261.59M129.25,259.77V261.56M129.75,259.85V261.46M130.25,259.77V261.40M130.75,259.79V261.47M131.25,259.95V261.40M131.75,259.65V261.57M132.25,259.67V261.79M132.75,259.76V261.47M133.25,259.74V261.32M133.75,259.83V261.45M134.25,259.59V261.66M134.75,259.40V261.74M135.25,259.82V261.38M135.75,259.96V261.24M136.25,259.68V261.38M136.75,259.80V261.53M137.25,259.73V261.28M137.75,259.84V261.27M138.25,259.62V261.59M138.75,259.68V261.48M139.25,259.98V261.60M139.75,259.76V261.23M140.25,259.42V261.70M140.75,259.77V261.74M141.25,259.85V261.31M141.75,259.64V261.55M142.25,259.74V261.61M142.75,259.84V261.49M143.25,259.59V261.40M143.75,259.59V261.36M144.25,259.75V261.45M144.75,259.43V261.59M145.25,259.95V261.49M145.75,259.68V261.41M146.25,259.68V261.75M146.75,259.65V261.82M147.25,259.93V261.28M147.75,259.93V261.55M148.25,259.67V261.62M148.75,259.36V261.67M149.25,259.81V261.57M149.75,259.88V261.34M150.25,259.72V261.56M150.75,259.67V261.58M151.25,259.81V261.59M151.75,259.77V261.22M152.25,259.85V261.75M152.75,259.49V261.63M153.25,259.76V261.54M153.75,259.88V261.33M154.25,259.57V261.73M154.75,259.54V261.60M155.25,259.80V261.43M155.75,259.70V261.57M156.25,259.57V261.82M156.75,259.79V261.57M157.25,259.96V261.49M157.75,259.92V261.51M158.25,259.41V261.83M158.75,259.65V261.59M159.25,259.92V261.39M159.75,259.90V261.35M160.25,259.57V261.57M160.75,259.54V261.61M161.25,259.66V261.61M161.75,259.97V261.53M162.25,259.64V261.81M162.75,259.78V261.81M163.25,259.95V261.24M163.75,259.96V261.60M164.25,259.81V261.78M164.75,259.62V261.52M165.25,259.88V261.27M165.75,259.94V261.28M166.25,259.69V261.50M166.75,259.60V261.44M167.25,259.88V261.22M167.75,259.91V261.41M168.25,259.44V261.57M168.75,259.65V261.60M169.25,259.84V261.56M169.75,259.82V261.36M170.25,259.81V261.72M170.75,259.81V261.77M171.25,259.87V261.31M171.75,259.92V261.40M172.25,259.36V261.62M172.75,259.70V261.53M173.25,259.79V261.42M173.75,259.98V261.32M174.25,259.83V261.36M174.75,259.56V261.61M175.25,259.69V261.58M175.75,259.58V261.28M176.25,259.83V261.77M176.75,259.48V261.76M177.25,259.78V261.56M177.75,259.75V261.58M178.25,259.74V261.37M178.75,259.80V261.77M179.25,259.73V261.49M179.75,259.66V261.52M180.25,259.52V261.38M180.75,259.81V261.48M181.25,259.68V261.62M181.75,259.79V261.50M182.25,259.53V261.39M182.75,259.48V261.50M183.25,259.96V261.33M183.75,259.71V261.33M184.25,259.62V261.41M184.75,259.36V261.82M185.25,259.65V261.61M185.75,259.90V261.60M186.25,259.78V261.61M186.75,259.44V261.60M187.25,259.89V261.58M187.75,259.98V261.42M188.25,259.78V261.52M188.75,259.85V261.73M189.25,259.61V261.51M189.75,259.83V261.38M190.25,259.92V261.31M190.75,260.18V261.21M191.25,260.27V260.94M191.75,260.29V261.01M192.25,260.23V261.02M192.75,260.28V260.82M193.25,260.38V260.81M193.75,260.42V260.72M231.75,260.21V260.93M232.25,260.22V260.93M232.75,260.17V261.10M233.25,260.19V261.03M233.75,260.26V260.99M234.25,260.15V261.08M234.75,260.20V261.00M235.25,260.03V261.15M235.75,260.24V261.13M236.25,260.09V260.96M236.75,260.02V261.18M237.25,260.19V261.02M237.75,259.97V261.17M238.25,260.09V261.14M238.75,260.14V261.25M239.25,260.16V261.08M239.75,260.15V261.03M240.25,260.05V261.10M240.75,259.98V261.28M241.25,259.65V261.39M241.75,259.48V261.60M242.25,259.58V261.71M242.75,259.38V261.97M243.25,259.46V261.79M243.75,259.07V262.09M244.25,258.84V261.89M244.75,259.30V262.31M245.25,259.00V261.95M245.75,258.77V262.67M246.25,259.07V262.81M246.75,259.14V262.37M247.25,258.46V263.00M247.75,258.98V262.94M248.25,258.52V262.40M248.75,259.00V262.04M249.25,258.24V262.16M249.75,258.82V262.83M250.25,259.11V262.49M250.75,258.97V262.39M251.25,258.77V262.82M251.75,259.13V262.10M252.25,258.44V262.90M252.75,258.24V262.63M253.25,258.86V262.30M253.75,258.28V262.65M254.25,258.94V262.50M254.75,258.79V262.28M255.25,258.27V262.22M255.75,258.37V262.78M256.25,258.85V262.39M256.75,258.97V262.76M257.25,259.13V262.57M257.75,258.31V262.99M258.25,259.07V262.52M258.75,258.94V262.44M259.25,258.44V262.85M259.75,258.35V262.32M260.25,258.45V262.23M260.75,259.01V262.89M261.25,258.78V262.99M261.75,258.38V262.67M262.25,258.70V262.83M262.75,259.12V262.32M263.25,258.23V262.60M263.75,258.33V262.47M264.25,258.25V262.14M264.75,258.95V262.39M265.25,258.92V262.62M265.75,259.15V262.35M266.25,258.86V262.24M266.75,259.10V262.14M267.25,258.55V262.13M267.75,258.77V262.31M268.25,258.86V262.58M268.75,258.33V263.00M269.25,258.94V261.87M269.75,259.17V262.33M270.25,258.72V262.20M270.75,258.54V262.91M271.25,259.21V262.09M271.75,259.10V262.40M272.25,258.39V262.97M272.75,258.25V262.98M273.25,258.79V262.00M273.75,258.87V261.84M274.25,258.77V262.85M274.75,258.95V262.42M275.25,259.39V261.90M275.75,259.45V262.13M276.25,258.36V262.15M276.75,258.56V262.33M277.25,259.17V262.21M277.75,259.47V262.18M278.25,258.43V262.79M278.75,258.71V262.14M279.25,259.42V262.04M279.75,259.01V261.78M280.25,258.67V262.09M280.75,258.25V262.17M281.25,258.94V262.32M281.75,259.12V262.43M282.25,258.40V262.93M282.75,258.43V262.19M283.25,258.88V261.82M283.75,259.33V261.91M284.25,259.12V262.21M284.75,258.51V262.90M285.25,259.40V262.11M285.75,258.83V262.13M286.25,259.06V262.99M286.75,258.39V262.29M287.25,259.22V262.28M287.75,258.93V261.75M288.25,258.55V262.98M288.75,258.86V262.04M289.25,259.03V262.04M289.75,259.39V261.89M290.25,259.16V262.38M290.75,258.94V262.60M291.25,259.02V262.07M291.75,259.30V261.83M292.25,258.32V262.79M292.75,259.15V262.66M293.25,259.00V262.05M293.75,259.30V262.39M294.25,258.77V262.27M294.75,259.15V262.57M295.25,259.34V262.17M295.75,258.88V261.85M296.25,259.11V262.89M296.75,259.15V262.85M297.25,258.93V262.05M297.75,259.31V261.74M298.25,258.49V262.85M298.75,258.63V262.46M299.25,259.29V262.19M299.75,258.83V261.73M300.25,258.45V262.95M300.75,258.32V262.36M301.25,259.01V262.23M301.75,259.13V262.34M302.25,258.74V262.74M302.75,258.97V262.62M303.25,259.40V261.72M303.75,259.26V261.79M304.25,258.57V262.57M304.75,259.17V262.51M305.25,258.97V262.28M305.75,258.93V262.29M306.25,259.18V261.96M306.75,258.73V262.63M307.25,259.53V261.67M307.75,259.40V261.87M308.25,259.10V262.47M308.75,258.55V262.27M309.25,259.62V261.82M309.75,259.43V261.99M310.25,258.70V261.88M310.75,259.41V261.95M311.25,259.69V261.81M311.75,259.59V261.80M312.25,259.25V262.47M312.75,258.94V262.11M313.25,259.69V261.92M313.75,259.39V261.66M314.25,258.87V261.75M314.75,259.38V261.86M315.25,259.57V261.90M315.75,259.51V261.81M316.25,259.34V261.85M316.75,259.14V262.11M317.25,259.43V261.67M317.75,259.39V261.48M318.25,259.18V262.11M318.75,259.49V261.76M319.25,259.72V261.42M319.75,259.84V261.76M320.25,259.13V261.96M320.75,259.62V261.83M321.25,259.78V261.27M321.75,259.68V261.44M322.25,259.74V261.71M322.75,259.37V261.58M323.25,259.87V261.26M323.75,259.76V261.41M324.25,259.61V261.50M324.75,259.89V261.45M325.25,259.90V261.18M325.75,259.94V261.20M326.25,259.96V261.41M326.75,259.90V261.47M327.25,260.18V261.17M327.75,260.23V261.08M328.25,260.06V261.18M328.75,260.15V261.18M329.25,260.31V260.94M329.75,260.38V260.79M330.25,260.45V260.80" stroke="#4a4a4a" stroke-width="0.55" fill="none"/>
<path d="M62.9,220.77L63.4,220.98L63.9,221.25L64.4,221.56L64.9,221.87L65.4,222.18L65.9,222.50L66.4,222.81L66.9,223.12L67.4,223.43L67.9,223.75L68.4,224.05L68.9,224.35L69.4,224.63L69.9,224.89L70.4,225.14L70.9,225.38L71.4,225.61L71.9,225.83L72.4,226.01L72.9,226.16L73.4,226.26L73.9,226.30L74.4,226.29L74.9,226.22L75.4,226.11L75.9,225.95L76.4,225.75L76.9,225.52L77.4,225.26L77.9,224.97L78.4,224.65L78.9,224.29L79.4,223.90L79.9,223.49L80.4,223.08L80.9,222.67L81.4,222.28L81.9,221.92L82.4,221.56L82.9,221.22L83.4,220.88L83.9,220.55L84.4,220.24L84.9,219.94L85.4,219.64L85.9,219.37L86.4,219.10L86.9,218.84L87.4,218.60L87.9,218.38L88.4,218.17L88.9,217.99L89.4,217.83L89.9,217.69L90.4,217.57L90.9,217.47L91.4,217.39L91.9,217.33L92.4,217.27L92.9,217.22L93.4,217.18L93.9,217.15L94.4,217.13L94.9,217.12L95.4,217.12L95.9,217.13L96.4,217.15L96.9,217.18L97.4,217.22L97.9,217.27L98.4,217.34L98.9,217.41L99.4,217.48L99.9,217.56L100.4,217.63L100.9,217.69L101.4,217.75L101.9,217.81L102.4,217.87L102.9,217.94L103.4,218.03L103.9,218.15L104.4,218.27L104.9,218.42L105.4,218.57L105.9,218.74L106.4,218.92L106.9,219.10L107.4,219.30L107.9,219.52L108.4,219.75L108.9,219.99L109.4,220.24L109.9,220.50L110.4,220.75L110.9,221.00L111.4,221.23L111.9,221.46L112.4,221.67L112.9,221.88L113.4,222.09L113.9,222.29L114.4,222.49L114.9,222.69L115.4,222.89L115.9,223.10L116.4,223.30L116.9,223.50L117.4,223.70L117.9,223.89L118.4,224.07L118.9,224.24L119.4,224.39L119.9,224.53L120.4,224.66L120.9,224.77L121.4,224.88L121.9,224.98L122.4,225.07L122.9,225.15L123.4,225.23L123.9,225.29L124.4,225.35L124.9,225.40L125.4,225.44L125.9,225.47L126.4,225.50L126.9,225.52L127.4,225.54L127.9,225.55L128.4,225.55L128.9,225.55L129.4,225.54L129.9,225.53L130.4,225.51L130.9,225.48L131.4,225.44L131.9,225.40L132.4,225.34L132.9,225.29L133.4,225.23L133.9,225.17L134.4,225.11L134.9,225.06L135.4,225.00L135.9,224.95L136.4,224.89L136.9,224.82L137.4,224.75L137.9,224.66L138.4,224.57L138.9,224.46L139.4,224.34L139.9,224.22L140.4,224.09L140.9,223.95L141.4,223.80L141.9,223.64L142.4,223.47L142.9,223.30L143.4,223.11L143.9,222.92L144.4,222.73L144.9,222.54L145.4,222.37L145.9,222.21L146.4,222.05L146.9,221.90L147.4,221.76L147.9,221.62L148.4,221.48L148.9,221.35L149.4,221.22L149.9,221.10L150.4,220.97L150.9,220.86L151.4,220.74L151.9,220.63L152.4,220.53L152.9,220.44L153.4,220.35L153.9,220.26L154.4,220.18L154.9,220.10L155.4,220.03L155.9,219.96L156.4,219.89L156.9,219.82L157.4,219.76L157.9,219.70L158.4,219.64L158.9,219.58L159.4,219.51L159.9,219.45L160.4,219.38L160.9,219.32L161.4,219.26L161.9,219.19L162.4,219.12L162.9,219.02L163.4,218.89L163.9,218.73L164.4,218.52L164.9,218.28L165.4,218.01L165.9,217.70L166.4,217.38L166.9,217.05L167.4,216.71L167.9,216.36L168.4,215.99L168.9,215.62L169.4,215.23L169.9,214.83L170.4,214.44L170.9,214.07L171.4,213.71L171.9,213.37L172.4,213.04L172.9,212.73L173.4,212.43L173.9,212.14L174.4,211.86L174.9,211.59L175.4,211.32L175.9,211.06L176.4,210.81L176.9,210.57L177.4,210.34L177.9,210.12L178.4,209.91L178.9,209.73L179.4,209.57L179.9,209.42L180.4,209.30L180.9,209.19L181.4,209.10L181.9,209.03L182.4,208.97L182.9,208.92L183.4,208.89L183.9,208.87L184.4,208.86L184.9,208.87L185.4,208.90L185.9,208.93L186.4,208.99L186.9,209.05L187.4,209.14L187.9,209.24L188.4,209.36L188.9,209.50L189.4,209.65L189.9,209.82L190.4,210.01L190.9,210.23L191.4,210.47L191.9,210.73L192.4,210.99L192.9,211.25L193.4,211.50L193.9,211.73L194.4,211.95L194.9,212.17L195.4,212.37L195.9,212.56L196.4,212.74L196.9,212.89L197.4,213.03L197.9,213.14L198.4,213.23L198.9,213.31L199.4,213.36L199.9,213.40L200.4,213.41L200.9,213.40L201.4,213.37L201.9,213.30L202.4,213.18L202.9,213.00L203.4,212.76L203.9,212.46L204.4,212.12L204.9,211.74L205.4,211.33L205.9,210.90L206.4,210.45L206.9,209.99L207.4,209.51L207.9,209.01L208.4,208.49L208.9,207.95L209.4,207.40L209.9,206.83L210.4,206.25L210.9,205.66L211.4,205.06L211.9,204.47L212.4,203.87L212.9,203.26L213.4,202.65L213.9,202.02L214.4,201.37L214.9,200.70L215.4,200.01L215.9,199.28L216.4,198.53L216.9,197.75L217.4,196.96L217.9,196.15L218.4,195.34L218.9,194.52L219.4,193.69L219.9,192.86L220.4,192.02L220.9,191.18L221.4,190.33L221.9,189.48L222.4,188.64L222.9,187.80L223.4,186.98L223.9,186.16L224.4,185.35L224.9,184.54L225.4,183.74L225.9,182.94L226.4,182.16L226.9,181.39L227.4,180.64L227.9,179.90L228.4,179.19L228.9,178.50L229.4,177.86L229.9,177.28L230.4,176.79L230.9,176.39L231.4,176.10L231.9,175.94L232.4,175.92L232.9,176.08L233.4,176.40L233.9,176.86L234.4,177.48L234.9,178.24L235.4,179.13L235.9,180.12L236.4,181.15L236.9,182.20L237.4,183.23L237.9,184.22L238.4,185.20L238.9,186.17L239.4,187.17L239.9,188.25L240.4,189.41L240.9,190.66L241.4,191.97L241.9,193.30L242.4,194.62L242.9,195.90L243.4,197.14L243.9,198.36L244.4,199.55L244.9,200.73L245.4,201.90L245.9,203.05L246.4,204.19L246.9,205.32L247.4,206.42L247.9,207.51L248.4,208.59L248.9,209.66L249.4,210.71L249.9,211.75L250.4,212.77L250.9,213.78L251.4,214.78L251.9,215.75L252.4,216.70L252.9,217.62L253.4,218.51L253.9,219.37L254.4,220.20L254.9,221.01L255.4,221.79L255.9,222.56L256.4,223.31L256.9,224.02L257.4,224.70L257.9,225.33L258.4,225.92L258.9,226.46L259.4,226.95L259.9,227.40L260.4,227.79L260.9,228.14L261.4,228.45L261.9,228.72L262.4,228.96L262.9,229.16L263.4,229.32L263.9,229.44L264.4,229.52L264.9,229.56L265.4,229.56L265.9,229.53L266.4,229.46L266.9,229.36L267.4,229.23L267.9,229.07L268.4,228.88L268.9,228.67L269.4,228.42L269.9,228.16L270.4,227.86L270.9,227.53L271.4,227.18L271.9,226.82L272.4,226.45L272.9,226.08L273.4,225.71L273.9,225.35L274.4,224.99L274.9,224.62L275.4,224.26L275.9,223.90L276.4,223.54L276.9,223.19L277.4,222.83L277.9,222.47L278.4,222.11L278.9,221.76L279.4,221.43L279.9,221.13L280.4,220.87L280.9,220.64L281.4,220.45L281.9,220.29L282.4,220.15L282.9,220.03L283.4,219.94L283.9,219.86L284.4,219.81L284.9,219.77L285.4,219.75L285.9,219.74L286.4,219.74L286.9,219.74L287.4,219.75L287.9,219.77L288.4,219.81L288.9,219.85L289.4,219.90L289.9,219.95L290.4,220.00L290.9,220.05L291.4,220.09L291.9,220.12L292.4,220.16L292.9,220.18L293.4,220.21L293.9,220.22L294.4,220.23L294.9,220.23L295.4,220.21L295.9,220.19L296.4,220.15L296.9,220.10L297.4,220.04L297.9,219.99L298.4,219.93L298.9,219.89L299.4,219.84L299.9,219.79L300.4,219.75L300.9,219.70L301.4,219.67L301.9,219.65L302.4,219.65L302.9,219.66L303.4,219.70L303.9,219.75L304.4,219.81L304.9,219.89L305.4,219.98L305.9,220.07L306.4,220.17L306.9,220.26L307.4,220.37L307.9,220.48L308.4,220.60L308.9,220.73L309.4,220.86L309.9,221.00L310.4,221.13L310.9,221.26L311.4,221.38L311.9,221.51L312.4,221.64L312.9,221.76L313.4,221.87L313.9,221.97L314.4,222.07L314.9,222.16L315.4,222.24L315.9,222.32L316.4,222.37L316.9,222.42L317.4,222.46L317.9,222.49L318.4,222.51L318.9,222.53L319.4,222.54L319.9,222.54L320.4,222.52L320.9,222.51L321.4,222.49L321.9,222.46L322.4,222.42L322.9,222.38L323.4,222.34L323.9,222.29L324.4,222.24L324.9,222.20L325.4,222.15L325.9,222.11L326.4,222.07L326.9,222.02L327.4,221.98L327.9,221.94L328.4,221.90L328.9,221.89L329.4,221.88L329.9,221.90L330.4,221.92L330.9,221.97L331.4,222.02L331.9,222.08L332.4,222.16L332.9,222.24L333.4,222.32L333.9,222.41L334.4,222.52L334.9,222.63L335.4,222.76L335.9,222.91L336.4,223.08L336.9,223.26L337.4,223.44L337.9,223.62L338.4,223.78L338.9,223.92L339.4,224.04L339.9,224.14L340.4,224.23L340.9,224.32L341.4,224.39L341.9,224.45L342.4,224.50L342.9,224.54L343.4,224.58L343.9,224.61L344.4,224.62L344.9,224.62L345.4,224.60L345.9,224.55L346.4,224.46L346.9,224.33L347.4,224.18L347.9,223.99L348.4,223.78L348.9,223.54L349.4,223.30L349.9,223.04L350.4,222.77L350.9,222.49L351.4,222.20L351.9,221.89L352.4,221.57L352.9,221.24L353.4,220.91L353.9,220.58L354.4,220.25L354.9,219.91L355.4,219.56L355.9,219.21L356.4,218.86L356.9,218.53L357.4,218.20L357.9,217.89L358.4,217.60L358.9,217.32L359.4,217.04L359.9,216.78L360.4,216.53L360.9,216.29L361.4,216.06L361.9,215.85L362.4,215.64L362.9,215.45L363.4,215.29L363.9,215.16L364.4,215.08L364.9,215.07L365.4,215.11L365.9,215.20L366.4,215.34L366.9,215.52L367.4,215.71L367.9,215.92L368.4,216.15L368.9,216.38L369.4,216.63L369.9,216.89L370.4,217.15L370.9,217.43L371.4,217.71L371.9,218.00L372.4,218.30L372.9,218.61L373.4,218.93L373.9,219.25L374.4,219.57L374.9,219.88L375.4,220.19L375.9,220.48L376.4,220.78L376.9,221.06L377.4,221.35L377.9,221.63L378.4,221.92L378.9,222.20L379.4,222.48L379.9,222.72L380.4,222.91L380.4,230.32L379.9,230.15L379.4,229.91L378.9,229.65L378.4,229.38L377.9,229.12L377.4,228.85L376.9,228.59L376.4,228.32L375.9,228.05L375.4,227.77L374.9,227.48L374.4,227.19L373.9,226.89L373.4,226.59L372.9,226.29L372.4,226.01L371.9,225.73L371.4,225.46L370.9,225.19L370.4,224.94L369.9,224.69L369.4,224.45L368.9,224.22L368.4,224.01L367.9,223.81L367.4,223.62L366.9,223.44L366.4,223.28L365.9,223.15L365.4,223.06L364.9,223.02L364.4,223.04L363.9,223.10L363.4,223.22L362.9,223.37L362.4,223.54L361.9,223.72L361.4,223.92L360.9,224.13L360.4,224.34L359.9,224.58L359.4,224.82L358.9,225.07L358.4,225.34L357.9,225.61L357.4,225.90L356.9,226.20L356.4,226.52L355.9,226.85L355.4,227.17L354.9,227.50L354.4,227.82L353.9,228.14L353.4,228.45L352.9,228.76L352.4,229.06L351.9,229.36L351.4,229.65L350.9,229.93L350.4,230.20L349.9,230.45L349.4,230.69L348.9,230.93L348.4,231.15L347.9,231.35L347.4,231.53L346.9,231.68L346.4,231.79L345.9,231.87L345.4,231.91L344.9,231.93L344.4,231.92L343.9,231.89L343.4,231.85L342.9,231.81L342.4,231.75L341.9,231.69L341.4,231.63L340.9,231.55L340.4,231.45L339.9,231.35L339.4,231.24L338.9,231.11L338.4,230.96L337.9,230.79L337.4,230.60L336.9,230.41L336.4,230.22L335.9,230.04L335.4,229.89L334.9,229.75L334.4,229.62L333.9,229.51L333.4,229.41L332.9,229.31L332.4,229.23L331.9,229.14L331.4,229.07L330.9,229.01L330.4,228.96L329.9,228.92L329.4,228.90L328.9,228.89L328.4,228.90L327.9,228.92L327.4,228.95L326.9,228.99L326.4,229.02L325.9,229.06L325.4,229.09L324.9,229.13L324.4,229.16L323.9,229.20L323.4,229.24L322.9,229.27L322.4,229.31L321.9,229.33L321.4,229.35L320.9,229.36L320.4,229.37L319.9,229.38L319.4,229.40L318.9,229.43L318.4,229.48L317.9,229.54L317.4,229.62L316.9,229.72L316.4,229.83L315.9,229.96L315.4,230.08L314.9,230.20L314.4,230.31L313.9,230.41L313.4,230.51L312.9,230.60L312.4,230.68L311.9,230.75L311.4,230.79L310.9,230.82L310.4,230.82L309.9,230.79L309.4,230.74L308.9,230.67L308.4,230.58L307.9,230.48L307.4,230.37L306.9,230.26L306.4,230.17L305.9,230.07L305.4,229.98L304.9,229.89L304.4,229.80L303.9,229.72L303.4,229.64L302.9,229.58L302.4,229.52L301.9,229.48L301.4,229.45L300.9,229.42L300.4,229.39L299.9,229.37L299.4,229.35L298.9,229.32L298.4,229.31L297.9,229.29L297.4,229.28L296.9,229.26L296.4,229.24L295.9,229.21L295.4,229.17L294.9,229.12L294.4,229.06L293.9,228.98L293.4,228.89L292.9,228.80L292.4,228.71L291.9,228.61L291.4,228.50L290.9,228.39L290.4,228.28L289.9,228.16L289.4,228.04L288.9,227.92L288.4,227.81L287.9,227.71L287.4,227.62L286.9,227.54L286.4,227.47L285.9,227.40L285.4,227.35L284.9,227.33L284.4,227.33L283.9,227.35L283.4,227.41L282.9,227.49L282.4,227.61L281.9,227.75L281.4,227.93L280.9,228.14L280.4,228.38L279.9,228.66L279.4,228.98L278.9,229.32L278.4,229.69L277.9,230.06L277.4,230.44L276.9,230.81L276.4,231.18L275.9,231.56L275.4,231.93L274.9,232.31L274.4,232.69L273.9,233.07L273.4,233.45L272.9,233.83L272.4,234.21L271.9,234.60L271.4,234.98L270.9,235.35L270.4,235.69L269.9,236.00L269.4,236.29L268.9,236.54L268.4,236.78L267.9,236.98L267.4,237.16L266.9,237.30L266.4,237.41L265.9,237.49L265.4,237.53L264.9,237.54L264.4,237.51L263.9,237.43L263.4,237.30L262.9,237.14L262.4,236.93L261.9,236.69L261.4,236.41L260.9,236.10L260.4,235.74L259.9,235.35L259.4,234.90L258.9,234.40L258.4,233.85L257.9,233.26L257.4,232.62L256.9,231.94L256.4,231.22L255.9,230.47L255.4,229.70L254.9,228.91L254.4,228.09L253.9,227.26L253.4,226.39L252.9,225.50L252.4,224.57L251.9,223.62L251.4,222.64L250.9,221.64L250.4,220.63L249.9,219.60L249.4,218.56L248.9,217.50L248.4,216.43L247.9,215.34L247.4,214.25L246.9,213.14L246.4,212.03L245.9,210.92L245.4,209.81L244.9,208.70L244.4,207.60L243.9,206.50L243.4,205.40L242.9,204.28L242.4,203.14L241.9,201.96L241.4,200.77L240.9,199.59L240.4,198.48L239.9,197.46L239.4,196.52L238.9,195.66L238.4,194.82L237.9,193.99L237.4,193.13L236.9,192.24L236.4,191.33L235.9,190.44L235.4,189.59L234.9,188.84L234.4,188.22L233.9,187.73L233.4,187.38L232.9,187.16L232.4,187.09L231.9,187.16L231.4,187.37L230.9,187.69L230.4,188.09L229.9,188.57L229.4,189.12L228.9,189.74L228.4,190.40L227.9,191.09L227.4,191.80L226.9,192.53L226.4,193.27L225.9,194.03L225.4,194.79L224.9,195.57L224.4,196.35L223.9,197.14L223.4,197.94L222.9,198.73L222.4,199.54L221.9,200.36L221.4,201.18L220.9,202.00L220.4,202.82L219.9,203.64L219.4,204.44L218.9,205.24L218.4,206.04L217.9,206.83L217.4,207.61L216.9,208.37L216.4,209.12L215.9,209.85L215.4,210.55L214.9,211.22L214.4,211.86L213.9,212.49L213.4,213.09L212.9,213.68L212.4,214.26L211.9,214.83L211.4,215.40L210.9,215.97L210.4,216.53L209.9,217.09L209.4,217.63L208.9,218.16L208.4,218.67L207.9,219.17L207.4,219.64L206.9,220.09L206.4,220.53L205.9,220.96L205.4,221.36L204.9,221.74L204.4,222.09L203.9,222.41L203.4,222.68L202.9,222.90L202.4,223.05L201.9,223.14L201.4,223.19L200.9,223.20L200.4,223.18L199.9,223.14L199.4,223.07L198.9,222.99L198.4,222.89L197.9,222.77L197.4,222.63L196.9,222.47L196.4,222.28L195.9,222.08L195.4,221.86L194.9,221.63L194.4,221.39L193.9,221.14L193.4,220.88L192.9,220.60L192.4,220.31L191.9,220.02L191.4,219.73L190.9,219.47L190.4,219.22L189.9,219.00L189.4,218.81L188.9,218.62L188.4,218.46L187.9,218.31L187.4,218.18L186.9,218.07L186.4,217.97L185.9,217.89L185.4,217.83L184.9,217.78L184.4,217.74L183.9,217.72L183.4,217.71L182.9,217.72L182.4,217.74L181.9,217.78L181.4,217.83L180.9,217.90L180.4,217.98L179.9,218.09L179.4,218.21L178.9,218.35L178.4,218.51L177.9,218.69L177.4,218.89L176.9,219.10L176.4,219.32L175.9,219.55L175.4,219.79L174.9,220.03L174.4,220.28L173.9,220.54L173.4,220.80L172.9,221.08L172.4,221.37L171.9,221.67L171.4,221.99L170.9,222.33L170.4,222.68L169.9,223.05L169.4,223.42L168.9,223.79L168.4,224.15L167.9,224.49L167.4,224.82L166.9,225.13L166.4,225.45L165.9,225.74L165.4,226.02L164.9,226.28L164.4,226.50L163.9,226.68L163.4,226.82L162.9,226.93L162.4,227.00L161.9,227.06L161.4,227.10L160.9,227.14L160.4,227.18L159.9,227.22L159.4,227.27L158.9,227.31L158.4,227.34L157.9,227.38L157.4,227.42L156.9,227.47L156.4,227.52L155.9,227.58L155.4,227.65L154.9,227.72L154.4,227.79L153.9,227.88L153.4,227.96L152.9,228.06L152.4,228.16L151.9,228.26L151.4,228.38L150.9,228.49L150.4,228.61L149.9,228.74L149.4,228.87L148.9,229.00L148.4,229.14L147.9,229.27L147.4,229.42L146.9,229.56L146.4,229.72L145.9,229.88L145.4,230.05L144.9,230.22L144.4,230.41L143.9,230.60L143.4,230.80L142.9,230.99L142.4,231.17L141.9,231.34L141.4,231.50L140.9,231.65L140.4,231.80L139.9,231.93L139.4,232.06L138.9,232.18L138.4,232.29L137.9,232.39L137.4,232.48L136.9,232.56L136.4,232.63L135.9,232.69L135.4,232.75L134.9,232.81L134.4,232.87L133.9,232.93L133.4,232.99L132.9,233.05L132.4,233.11L131.9,233.17L131.4,233.22L130.9,233.26L130.4,233.29L129.9,233.31L129.4,233.33L128.9,233.34L128.4,233.34L127.9,233.33L127.4,233.32L126.9,233.30L126.4,233.27L125.9,233.24L125.4,233.19L124.9,233.14L124.4,233.09L123.9,233.02L123.4,232.95L122.9,232.87L122.4,232.78L121.9,232.68L121.4,232.57L120.9,232.45L120.4,232.32L119.9,232.19L119.4,232.04L118.9,231.88L118.4,231.70L117.9,231.52L117.4,231.32L116.9,231.11L116.4,230.90L115.9,230.69L115.4,230.48L114.9,230.27L114.4,230.06L113.9,229.85L113.4,229.64L112.9,229.43L112.4,229.21L111.9,228.98L111.4,228.75L110.9,228.50L110.4,228.25L109.9,227.99L109.4,227.72L108.9,227.46L108.4,227.21L107.9,226.97L107.4,226.75L106.9,226.54L106.4,226.35L105.9,226.16L105.4,225.98L104.9,225.82L104.4,225.67L103.9,225.53L103.4,225.41L102.9,225.31L102.4,225.23L101.9,225.16L101.4,225.09L100.9,225.03L100.4,224.96L99.9,224.88L99.4,224.79L98.9,224.71L98.4,224.63L97.9,224.55L97.4,224.49L96.9,224.44L96.4,224.41L95.9,224.38L95.4,224.36L94.9,224.35L94.4,224.36L93.9,224.37L93.4,224.39L92.9,224.42L92.4,224.46L91.9,224.50L91.4,224.56L90.9,224.63L90.4,224.72L89.9,224.82L89.4,224.95L88.9,225.10L88.4,225.28L87.9,225.47L87.4,225.69L86.9,225.92L86.4,226.16L85.9,226.42L85.4,226.68L84.9,226.96L84.4,227.26L83.9,227.56L83.4,227.88L82.9,228.20L82.4,228.54L81.9,228.88L81.4,229.24L80.9,229.62L80.4,230.01L79.9,230.41L79.4,230.81L78.9,231.19L78.4,231.54L77.9,231.85L77.4,232.13L76.9,232.38L76.4,232.60L75.9,232.79L75.4,232.95L74.9,233.08L74.4,233.17L73.9,233.22L73.4,233.23L72.9,233.19L72.4,233.11L71.9,233.01L71.4,232.89L70.9,232.75L70.4,232.60L69.9,232.44L69.4,232.26L68.9,232.07L68.4,231.87L67.9,231.65L67.4,231.43L66.9,231.21L66.4,230.99L65.9,230.77L65.4,230.55L64.9,230.32L64.4,230.09L63.9,229.85L63.4,229.63L62.9,229.48Z" fill="#e5e5ff"/>
<path d="M62.9,220.77L63.4,220.98L63.9,221.25L64.4,221.56L64.9,221.87L65.4,222.18L65.9,222.50L66.4,222.81L66.9,223.12L67.4,223.43L67.9,223.75L68.4,224.05L68.9,224.35L69.4,224.63L69.9,224.89L70.4,225.14L70.9,225.38L71.4,225.61L71.9,225.83L72.4,226.01L72.9,226.16L73.4,226.26L73.9,226.30L74.4,226.29L74.9,226.22L75.4,226.11L75.9,225.95L76.4,225.75L76.9,225.52L77.4,225.26L77.9,224.97L78.4,224.65L78.9,224.29L79.4,223.90L79.9,223.49L80.4,223.08L80.9,222.67L81.4,222.28L81.9,221.92L82.4,221.56L82.9,221.22L83.4,220.88L83.9,220.55L84.4,220.24L84.9,219.94L85.4,219.64L85.9,219.37L86.4,219.10L86.9,218.84L87.4,218.60L87.9,218.38L88.4,218.17L88.9,217.99L89.4,217.83L89.9,217.69L90.4,217.57L90.9,217.47L91.4,217.39L91.9,217.33L92.4,217.27L92.9,217.22L93.4,217.18L93.9,217.15L94.4,217.13L94.9,217.12L95.4,217.12L95.9,217.13L96.4,217.15L96.9,217.18L97.4,217.22L97.9,217.27L98.4,217.34L98.9,217.41L99.4,217.48L99.9,217.56L100.4,217.63L100.9,217.69L101.4,217.75L101.9,217.81L102.4,217.87L102.9,217.94L103.4,218.03L103.9,218.15L104.4,218.27L104.9,218.42L105.4,218.57L105.9,218.74L106.4,218.92L106.9,219.10L107.4,219.30L107.9,219.52L108.4,219.75L108.9,219.99L109.4,220.24L109.9,220.50L110.4,220.75L110.9,221.00L111.4,221.23L111.9,221.46L112.4,221.67L112.9,221.88L113.4,222.09L113.9,222.29L114.4,222.49L114.9,222.69L115.4,222.89L115.9,223.10L116.4,223.30L116.9,223.50L117.4,223.70L117.9,223.89L118.4,224.07L118.9,224.24L119.4,224.39L119.9,224.53L120.4,224.66L120.9,224.77L121.4,224.88L121.9,224.98L122.4,225.07L122.9,225.15L123.4,225.23L123.9,225.29L124.4,225.35L124.9,225.40L125.4,225.44L125.9,225.47L126.4,225.50L126.9,225.52L127.4,225.54L127.9,225.55L128.4,225.55L128.9,225.55L129.4,225.54L129.9,225.53L130.4,225.51L130.9,225.48L131.4,225.44L131.9,225.40L132.4,225.34L132.9,225.29L133.4,225.23L133.9,225.17L134.4,225.11L134.9,225.06L135.4,225.00L135.9,224.95L136.4,224.89L136.9,224.82L137.4,224.75L137.9,224.66L138.4,224.57L138.9,224.46L139.4,224.34L139.9,224.22L140.4,224.09L140.9,223.95L141.4,223.80L141.9,223.64L142.4,223.47L142.9,223.30L143.4,223.11L143.9,222.92L144.4,222.73L144.9,222.54L145.4,222.37L145.9,222.21L146.4,222.05L146.9,221.90L147.4,221.76L147.9,221.62L148.4,221.48L148.9,221.35L149.4,221.22L149.9,221.10L150.4,220.97L150.9,220.86L151.4,220.74L151.9,220.63L152.4,220.53L152.9,220.44L153.4,220.35L153.9,220.26L154.4,220.18L154.9,220.10L155.4,220.03L155.9,219.96L156.4,219.89L156.9,219.82L157.4,219.76L157.9,219.70L158.4,219.64L158.9,219.58L159.4,219.51L159.9,219.45L160.4,219.38L160.9,219.32L161.4,219.26L161.9,219.19L162.4,219.12L162.9,219.02L163.4,218.89L163.9,218.73L164.4,218.52L164.9,218.28L165.4,218.01L165.9,217.70L166.4,217.38L166.9,217.05L167.4,216.71L167.9,216.36L168.4,215.99L168.9,215.62L169.4,215.23L169.9,214.83L170.4,214.44L170.9,214.07L171.4,213.71L171.9,213.37L172.4,213.04L172.9,212.73L173.4,212.43L173.9,212.14L174.4,211.86L174.9,211.59L175.4,211.32L175.9,211.06L176.4,210.81L176.9,210.57L177.4,210.34L177.9,210.12L178.4,209.91L178.9,209.73L179.4,209.57L179.9,209.42L180.4,209.30L180.9,209.19L181.4,209.10L181.9,209.03L182.4,208.97L182.9,208.92L183.4,208.89L183.9,208.87L184.4,208.86L184.9,208.87L185.4,208.90L185.9,208.93L186.4,208.99L186.9,209.05L187.4,209.14L187.9,209.24L188.4,209.36L188.9,209.50L189.4,209.65L189.9,209.82L190.4,210.01L190.9,210.23L191.4,210.47L191.9,210.73L192.4,210.99L192.9,211.25L193.4,211.50L193.9,211.73L194.4,211.95L194.9,212.17L195.4,212.37L195.9,212.56L196.4,212.74L196.9,212.89L197.4,213.03L197.9,213.14L198.4,213.23L198.9,213.31L199.4,213.36L199.9,213.40L200.4,213.41L200.9,213.40L201.4,213.37L201.9,213.30L202.4,213.18L202.9,213.00L203.4,212.76L203.9,212.46L204.4,212.12L204.9,211.74L205.4,211.33L205.9,210.90L206.4,210.45L206.9,209.99L207.4,209.51L207.9,209.01L208.4,208.49L208.9,207.95L209.4,207.40L209.9,206.83L210.4,206.25L210.9,205.66L211.4,205.06L211.9,204.47L212.4,203.87L212.9,203.26L213.4,202.65L213.9,202.02L214.4,201.37L214.9,200.70L215.4,200.01L215.9,199.28L216.4,198.53L216.9,197.75L217.4,196.96L217.9,196.15L218.4,195.34L218.9,194.52L219.4,193.69L219.9,192.86L220.4,192.02L220.9,191.18L221.4,190.33L221.9,189.48L222.4,188.64L222.9,187.80L223.4,186.98L223.9,186.16L224.4,185.35L224.9,184.54L225.4,183.74L225.9,182.94L226.4,182.16L226.9,181.39L227.4,180.64L227.9,179.90L228.4,179.19L228.9,178.50L229.4,177.86L229.9,177.28L230.4,176.79L230.9,176.39L231.4,176.10L231.9,175.94L232.4,175.92L232.9,176.08L233.4,176.40L233.9,176.86L234.4,177.48L234.9,178.24L235.4,179.13L235.9,180.12L236.4,181.15L236.9,182.20L237.4,183.23L237.9,184.22L238.4,185.20L238.9,186.17L239.4,187.17L239.9,188.25L240.4,189.41L240.9,190.66L241.4,191.97L241.9,193.30L242.4,194.62L242.9,195.90L243.4,197.14L243.9,198.36L244.4,199.55L244.9,200.73L245.4,201.90L245.9,203.05L246.4,204.19L246.9,205.32L247.4,206.42L247.9,207.51L248.4,208.59L248.9,209.66L249.4,210.71L249.9,211.75L250.4,212.77L250.9,213.78L251.4,214.78L251.9,215.75L252.4,216.70L252.9,217.62L253.4,218.51L253.9,219.37L254.4,220.20L254.9,221.01L255.4,221.79L255.9,222.56L256.4,223.31L256.9,224.02L257.4,224.70L257.9,225.33L258.4,225.92L258.9,226.46L259.4,226.95L259.9,227.40L260.4,227.79L260.9,228.14L261.4,228.45L261.9,228.72L262.4,228.96L262.9,229.16L263.4,229.32L263.9,229.44L264.4,229.52L264.9,229.56L265.4,229.56L265.9,229.53L266.4,229.46L266.9,229.36L267.4,229.23L267.9,229.07L268.4,228.88L268.9,228.67L269.4,228.42L269.9,228.16L270.4,227.86L270.9,227.53L271.4,227.18L271.9,226.82L272.4,226.45L272.9,226.08L273.4,225.71L273.9,225.35L274.4,224.99L274.9,224.62L275.4,224.26L275.9,223.90L276.4,223.54L276.9,223.19L277.4,222.83L277.9,222.47L278.4,222.11L278.9,221.76L279.4,221.43L279.9,221.13L280.4,220.87L280.9,220.64L281.4,220.45L281.9,220.29L282.4,220.15L282.9,220.03L283.4,219.94L283.9,219.86L284.4,219.81L284.9,219.77L285.4,219.75L285.9,219.74L286.4,219.74L286.9,219.74L287.4,219.75L287.9,219.77L288.4,219.81L288.9,219.85L289.4,219.90L289.9,219.95L290.4,220.00L290.9,220.05L291.4,220.09L291.9,220.12L292.4,220.16L292.9,220.18L293.4,220.21L293.9,220.22L294.4,220.23L294.9,220.23L295.4,220.21L295.9,220.19L296.4,220.15L296.9,220.10L297.4,220.04L297.9,219.99L298.4,219.93L298.9,219.89L299.4,219.84L299.9,219.79L300.4,219.75L300.9,219.70L301.4,219.67L301.9,219.65L302.4,219.65L302.9,219.66L303.4,219.70L303.9,219.75L304.4,219.81L304.9,219.89L305.4,219.98L305.9,220.07L306.4,220.17L306.9,220.26L307.4,220.37L307.9,220.48L308.4,220.60L308.9,220.73L309.4,220.86L309.9,221.00L310.4,221.13L310.9,221.26L311.4,221.38L311.9,221.51L312.4,221.64L312.9,221.76L313.4,221.87L313.9,221.97L314.4,222.07L314.9,222.16L315.4,222.24L315.9,222.32L316.4,222.37L316.9,222.42L317.4,222.46L317.9,222.49L318.4,222.51L318.9,222.53L319.4,222.54L319.9,222.54L320.4,222.52L320.9,222.51L321.4,222.49L321.9,222.46L322.4,222.42L322.9,222.38L323.4,222.34L323.9,222.29L324.4,222.24L324.9,222.20L325.4,222.15L325.9,222.11L326.4,222.07L326.9,222.02L327.4,221.98L327.9,221.94L328.4,221.90L328.9,221.89L329.4,221.88L329.9,221.90L330.4,221.92L330.9,221.97L331.4,222.02L331.9,222.08L332.4,222.16L332.9,222.24L333.4,222.32L333.9,222.41L334.4,222.52L334.9,222.63L335.4,222.76L335.9,222.91L336.4,223.08L336.9,223.26L337.4,223.44L337.9,223.62L338.4,223.78L338.9,223.92L339.4,224.04L339.9,224.14L340.4,224.23L340.9,224.32L341.4,224.39L341.9,224.45L342.4,224.50L342.9,224.54L343.4,224.58L343.9,224.61L344.4,224.62L344.9,224.62L345.4,224.60L345.9,224.55L346.4,224.46L346.9,224.33L347.4,224.18L347.9,223.99L348.4,223.78L348.9,223.54L349.4,223.30L349.9,223.04L350.4,222.77L350.9,222.49L351.4,222.20L351.9,221.89L352.4,221.57L352.9,221.24L353.4,220.91L353.9,220.58L354.4,220.25L354.9,219.91L355.4,219.56L355.9,219.21L356.4,218.86L356.9,218.53L357.4,218.20L357.9,217.89L358.4,217.60L358.9,217.32L359.4,217.04L359.9,216.78L360.4,216.53L360.9,216.29L361.4,216.06L361.9,215.85L362.4,215.64L362.9,215.45L363.4,215.29L363.9,215.16L364.4,215.08L364.9,215.07L365.4,215.11L365.9,215.20L366.4,215.34L366.9,215.52L367.4,215.71L367.9,215.92L368.4,216.15L368.9,216.38L369.4,216.63L369.9,216.89L370.4,217.15L370.9,217.43L371.4,217.71L371.9,218.00L372.4,218.30L372.9,218.61L373.4,218.93L373.9,219.25L374.4,219.57L374.9,219.88L375.4,220.19L375.9,220.48L376.4,220.78L376.9,221.06L377.4,221.35L377.9,221.63L378.4,221.92L378.9,222.20L379.4,222.48L379.9,222.72L380.4,222.91" fill="none" stroke="#8c8cff" stroke-width="0.75"/>
<path d="M62.9,229.48L63.4,229.63L63.9,229.85L64.4,230.09L64.9,230.32L65.4,230.55L65.9,230.77L66.4,230.99L66.9,231.21L67.4,231.43L67.9,231.65L68.4,231.87L68.9,232.07L69.4,232.26L69.9,232.44L70.4,232.60L70.9,232.75L71.4,232.89L71.9,233.01L72.4,233.11L72.9,233.19L73.4,233.23L73.9,233.22L74.4,233.17L74.9,233.08L75.4,232.95L75.9,232.79L76.4,232.60L76.9,232.38L77.4,232.13L77.9,231.85L78.4,231.54L78.9,231.19L79.4,230.81L79.9,230.41L80.4,230.01L80.9,229.62L81.4,229.24L81.9,228.88L82.4,228.54L82.9,228.20L83.4,227.88L83.9,227.56L84.4,227.26L84.9,226.96L85.4,226.68L85.9,226.42L86.4,226.16L86.9,225.92L87.4,225.69L87.9,225.47L88.4,225.28L88.9,225.10L89.4,224.95L89.9,224.82L90.4,224.72L90.9,224.63L91.4,224.56L91.9,224.50L92.4,224.46L92.9,224.42L93.4,224.39L93.9,224.37L94.4,224.36L94.9,224.35L95.4,224.36L95.9,224.38L96.4,224.41L96.9,224.44L97.4,224.49L97.9,224.55L98.4,224.63L98.9,224.71L99.4,224.79L99.9,224.88L100.4,224.96L100.9,225.03L101.4,225.09L101.9,225.16L102.4,225.23L102.9,225.31L103.4,225.41L103.9,225.53L104.4,225.67L104.9,225.82L105.4,225.98L105.9,226.16L106.4,226.35L106.9,226.54L107.4,226.75L107.9,226.97L108.4,227.21L108.9,227.46L109.4,227.72L109.9,227.99L110.4,228.25L110.9,228.50L111.4,228.75L111.9,228.98L112.4,229.21L112.9,229.43L113.4,229.64L113.9,229.85L114.4,230.06L114.9,230.27L115.4,230.48L115.9,230.69L116.4,230.90L116.9,231.11L117.4,231.32L117.9,231.52L118.4,231.70L118.9,231.88L119.4,232.04L119.9,232.19L120.4,232.32L120.9,232.45L121.4,232.57L121.9,232.68L122.4,232.78L122.9,232.87L123.4,232.95L123.9,233.02L124.4,233.09L124.9,233.14L125.4,233.19L125.9,233.24L126.4,233.27L126.9,233.30L127.4,233.32L127.9,233.33L128.4,233.34L128.9,233.34L129.4,233.33L129.9,233.31L130.4,233.29L130.9,233.26L131.4,233.22L131.9,233.17L132.4,233.11L132.9,233.05L133.4,232.99L133.9,232.93L134.4,232.87L134.9,232.81L135.4,232.75L135.9,232.69L136.4,232.63L136.9,232.56L137.4,232.48L137.9,232.39L138.4,232.29L138.9,232.18L139.4,232.06L139.9,231.93L140.4,231.80L140.9,231.65L141.4,231.50L141.9,231.34L142.4,231.17L142.9,230.99L143.4,230.80L143.9,230.60L144.4,230.41L144.9,230.22L145.4,230.05L145.9,229.88L146.4,229.72L146.9,229.56L147.4,229.42L147.9,229.27L148.4,229.14L148.9,229.00L149.4,228.87L149.9,228.74L150.4,228.61L150.9,228.49L151.4,228.38L151.9,228.26L152.4,228.16L152.9,228.06L153.4,227.96L153.9,227.88L154.4,227.79L154.9,227.72L155.4,227.65L155.9,227.58L156.4,227.52L156.9,227.47L157.4,227.42L157.9,227.38L158.4,227.34L158.9,227.31L159.4,227.27L159.9,227.22L160.4,227.18L160.9,227.14L161.4,227.10L161.9,227.06L162.4,227.00L162.9,226.93L163.4,226.82L163.9,226.68L164.4,226.50L164.9,226.28L165.4,226.02L165.9,225.74L166.4,225.45L166.9,225.13L167.4,224.82L167.9,224.49L168.4,224.15L168.9,223.79L169.4,223.42L169.9,223.05L170.4,222.68L170.9,222.33L171.4,221.99L171.9,221.67L172.4,221.37L172.9,221.08L173.4,220.80L173.9,220.54L174.4,220.28L174.9,220.03L175.4,219.79L175.9,219.55L176.4,219.32L176.9,219.10L177.4,218.89L177.9,218.69L178.4,218.51L178.9,218.35L179.4,218.21L179.9,218.09L180.4,217.98L180.9,217.90L181.4,217.83L181.9,217.78L182.4,217.74L182.9,217.72L183.4,217.71L183.9,217.72L184.4,217.74L184.9,217.78L185.4,217.83L185.9,217.89L186.4,217.97L186.9,218.07L187.4,218.18L187.9,218.31L188.4,218.46L188.9,218.62L189.4,218.81L189.9,219.00L190.4,219.22L190.9,219.47L191.4,219.73L191.9,220.02L192.4,220.31L192.9,220.60L193.4,220.88L193.9,221.14L194.4,221.39L194.9,221.63L195.4,221.86L195.9,222.08L196.4,222.28L196.9,222.47L197.4,222.63L197.9,222.77L198.4,222.89L198.9,222.99L199.4,223.07L199.9,223.14L200.4,223.18L200.9,223.20L201.4,223.19L201.9,223.14L202.4,223.05L202.9,222.90L203.4,222.68L203.9,222.41L204.4,222.09L204.9,221.74L205.4,221.36L205.9,220.96L206.4,220.53L206.9,220.09L207.4,219.64L207.9,219.17L208.4,218.67L208.9,218.16L209.4,217.63L209.9,217.09L210.4,216.53L210.9,215.97L211.4,215.40L211.9,214.83L212.4,214.26L212.9,213.68L213.4,213.09L213.9,212.49L214.4,211.86L214.9,211.22L215.4,210.55L215.9,209.85L216.4,209.12L216.9,208.37L217.4,207.61L217.9,206.83L218.4,206.04L218.9,205.24L219.4,204.44L219.9,203.64L220.4,202.82L220.9,202.00L221.4,201.18L221.9,200.36L222.4,199.54L222.9,198.73L223.4,197.94L223.9,197.14L224.4,196.35L224.9,195.57L225.4,194.79L225.9,194.03L226.4,193.27L226.9,192.53L227.4,191.80L227.9,191.09L228.4,190.40L228.9,189.74L229.4,189.12L229.9,188.57L230.4,188.09L230.9,187.69L231.4,187.37L231.9,187.16L232.4,187.09L232.9,187.16L233.4,187.38L233.9,187.73L234.4,188.22L234.9,188.84L235.4,189.59L235.9,190.44L236.4,191.33L236.9,192.24L237.4,193.13L237.9,193.99L238.4,194.82L238.9,195.66L239.4,196.52L239.9,197.46L240.4,198.48L240.9,199.59L241.4,200.77L241.9,201.96L242.4,203.14L242.9,204.28L243.4,205.40L243.9,206.50L244.4,207.60L244.9,208.70L245.4,209.81L245.9,210.92L246.4,212.03L246.9,213.14L247.4,214.25L247.9,215.34L248.4,216.43L248.9,217.50L249.4,218.56L249.9,219.60L250.4,220.63L250.9,221.64L251.4,222.64L251.9,223.62L252.4,224.57L252.9,225.50L253.4,226.39L253.9,227.26L254.4,228.09L254.9,228.91L255.4,229.70L255.9,230.47L256.4,231.22L256.9,231.94L257.4,232.62L257.9,233.26L258.4,233.85L258.9,234.40L259.4,234.90L259.9,235.35L260.4,235.74L260.9,236.10L261.4,236.41L261.9,236.69L262.4,236.93L262.9,237.14L263.4,237.30L263.9,237.43L264.4,237.51L264.9,237.54L265.4,237.53L265.9,237.49L266.4,237.41L266.9,237.30L267.4,237.16L267.9,236.98L268.4,236.78L268.9,236.54L269.4,236.29L269.9,236.00L270.4,235.69L270.9,235.35L271.4,234.98L271.9,234.60L272.4,234.21L272.9,233.83L273.4,233.45L273.9,233.07L274.4,232.69L274.9,232.31L275.4,231.93L275.9,231.56L276.4,231.18L276.9,230.81L277.4,230.44L277.9,230.06L278.4,229.69L278.9,229.32L279.4,228.98L279.9,228.66L280.4,228.38L280.9,228.14L281.4,227.93L281.9,227.75L282.4,227.61L282.9,227.49L283.4,227.41L283.9,227.35L284.4,227.33L284.9,227.33L285.4,227.35L285.9,227.40L286.4,227.47L286.9,227.54L287.4,227.62L287.9,227.71L288.4,227.81L288.9,227.92L289.4,228.04L289.9,228.16L290.4,228.28L290.9,228.39L291.4,228.50L291.9,228.61L292.4,228.71L292.9,228.80L293.4,228.89L293.9,228.98L294.4,229.06L294.9,229.12L295.4,229.17L295.9,229.21L296.4,229.24L296.9,229.26L297.4,229.28L297.9,229.29L298.4,229.31L298.9,229.32L299.4,229.35L299.9,229.37L300.4,229.39L300.9,229.42L301.4,229.45L301.9,229.48L302.4,229.52L302.9,229.58L303.4,229.64L303.9,229.72L304.4,229.80L304.9,229.89L305.4,229.98L305.9,230.07L306.4,230.17L306.9,230.26L307.4,230.37L307.9,230.48L308.4,230.58L308.9,230.67L309.4,230.74L309.9,230.79L310.4,230.82L310.9,230.82L311.4,230.79L311.9,230.75L312.4,230.68L312.9,230.60L313.4,230.51L313.9,230.41L314.4,230.31L314.9,230.20L315.4,230.08L315.9,229.96L316.4,229.83L316.9,229.72L317.4,229.62L317.9,229.54L318.4,229.48L318.9,229.43L319.4,229.40L319.9,229.38L320.4,229.37L320.9,229.36L321.4,229.35L321.9,229.33L322.4,229.31L322.9,229.27L323.4,229.24L323.9,229.20L324.4,229.16L324.9,229.13L325.4,229.09L325.9,229.06L326.4,229.02L326.9,228.99L327.4,228.95L327.9,228.92L328.4,228.90L328.9,228.89L329.4,228.90L329.9,228.92L330.4,228.96L330.9,229.01L331.4,229.07L331.9,229.14L332.4,229.23L332.9,229.31L333.4,229.41L333.9,229.51L334.4,229.62L334.9,229.75L335.4,229.89L335.9,230.04L336.4,230.22L336.9,230.41L337.4,230.60L337.9,230.79L338.4,230.96L338.9,231.11L339.4,231.24L339.9,231.35L340.4,231.45L340.9,231.55L341.4,231.63L341.9,231.69L342.4,231.75L342.9,231.81L343.4,231.85L343.9,231.89L344.4,231.92L344.9,231.93L345.4,231.91L345.9,231.87L346.4,231.79L346.9,231.68L347.4,231.53L347.9,231.35L348.4,231.15L348.9,230.93L349.4,230.69L349.9,230.45L350.4,230.20L350.9,229.93L351.4,229.65L351.9,229.36L352.4,229.06L352.9,228.76L353.4,228.45L353.9,228.14L354.4,227.82L354.9,227.50L355.4,227.17L355.9,226.85L356.4,226.52L356.9,226.20L357.4,225.90L357.9,225.61L358.4,225.34L358.9,225.07L359.4,224.82L359.9,224.58L360.4,224.34L360.9,224.13L361.4,223.92L361.9,223.72L362.4,223.54L362.9,223.37L363.4,223.22L363.9,223.10L364.4,223.04L364.9,223.02L365.4,223.06L365.9,223.15L366.4,223.28L366.9,223.44L367.4,223.62L367.9,223.81L368.4,224.01L368.9,224.22L369.4,224.45L369.9,224.69L370.4,224.94L370.9,225.19L371.4,225.46L371.9,225.73L372.4,226.01L372.9,226.29L373.4,226.59L373.9,226.89L374.4,227.19L374.9,227.48L375.4,227.77L375.9,228.05L376.4,228.32L376.9,228.59L377.4,228.85L377.9,229.12L378.4,229.38L378.9,229.65L379.4,229.91L379.9,230.15L380.4,230.32" fill="none" stroke="#8c8cff" stroke-width="0.75"/>
<line x1="62.9" y1="222.50" x2="373.5" y2="222.50" stroke="#000" stroke-width="1.7" stroke-dasharray="8.7 9.05"/>
<path d="M62.9,225.12L63.4,225.31L63.9,225.55L64.4,225.82L64.9,226.10L65.4,226.37L65.9,226.63L66.4,226.90L66.9,227.17L67.4,227.43L67.9,227.70L68.4,227.96L68.9,228.21L69.4,228.45L69.9,228.67L70.4,228.87L70.9,229.07L71.4,229.25L71.9,229.42L72.4,229.56L72.9,229.67L73.4,229.74L73.9,229.76L74.4,229.73L74.9,229.65L75.4,229.53L75.9,229.37L76.4,229.18L76.9,228.95L77.4,228.70L77.9,228.41L78.4,228.09L78.9,227.74L79.4,227.35L79.9,226.95L80.4,226.54L80.9,226.14L81.4,225.76L81.9,225.40L82.4,225.05L82.9,224.71L83.4,224.38L83.9,224.06L84.4,223.75L84.9,223.45L85.4,223.16L85.9,222.89L86.4,222.63L86.9,222.38L87.4,222.15L87.9,221.93L88.4,221.73L88.9,221.55L89.4,221.39L89.9,221.25L90.4,221.14L90.9,221.05L91.4,220.98L91.9,220.92L92.4,220.86L92.9,220.82L93.4,220.79L93.9,220.76L94.4,220.74L94.9,220.74L95.4,220.74L95.9,220.75L96.4,220.78L96.9,220.81L97.4,220.85L97.9,220.91L98.4,220.98L98.9,221.06L99.4,221.14L99.9,221.22L100.4,221.29L100.9,221.36L101.4,221.42L101.9,221.48L102.4,221.55L102.9,221.63L103.4,221.72L103.9,221.84L104.4,221.97L104.9,222.12L105.4,222.28L105.9,222.45L106.4,222.63L106.9,222.82L107.4,223.03L107.9,223.24L108.4,223.48L108.9,223.72L109.4,223.98L109.9,224.24L110.4,224.50L110.9,224.75L111.4,224.99L111.9,225.22L112.4,225.44L112.9,225.65L113.4,225.86L113.9,226.07L114.4,226.27L114.9,226.48L115.4,226.68L115.9,226.89L116.4,227.10L116.9,227.31L117.4,227.51L117.9,227.70L118.4,227.89L118.9,228.06L119.4,228.21L119.9,228.36L120.4,228.49L120.9,228.61L121.4,228.72L121.9,228.83L122.4,228.92L122.9,229.01L123.4,229.09L123.9,229.16L124.4,229.22L124.9,229.27L125.4,229.32L125.9,229.35L126.4,229.38L126.9,229.41L127.4,229.43L127.9,229.44L128.4,229.44L128.9,229.44L129.4,229.44L129.9,229.42L130.4,229.40L130.9,229.37L131.4,229.33L131.9,229.28L132.4,229.23L132.9,229.17L133.4,229.11L133.9,229.05L134.4,228.99L134.9,228.93L135.4,228.88L135.9,228.82L136.4,228.76L136.9,228.69L137.4,228.62L137.9,228.53L138.4,228.43L138.9,228.32L139.4,228.20L139.9,228.08L140.4,227.94L140.9,227.80L141.4,227.65L141.9,227.49L142.4,227.32L142.9,227.14L143.4,226.95L143.9,226.76L144.4,226.57L144.9,226.38L145.4,226.21L145.9,226.04L146.4,225.88L146.9,225.73L147.4,225.59L147.9,225.45L148.4,225.31L148.9,225.18L149.4,225.05L149.9,224.92L150.4,224.79L150.9,224.67L151.4,224.56L151.9,224.45L152.4,224.35L152.9,224.25L153.4,224.15L153.9,224.07L154.4,223.99L154.9,223.91L155.4,223.84L155.9,223.77L156.4,223.70L156.9,223.64L157.4,223.59L157.9,223.54L158.4,223.49L158.9,223.44L159.4,223.39L159.9,223.34L160.4,223.28L160.9,223.23L161.4,223.18L161.9,223.12L162.4,223.06L162.9,222.97L163.4,222.86L163.9,222.70L164.4,222.51L164.9,222.28L165.4,222.01L165.9,221.72L166.4,221.41L166.9,221.09L167.4,220.76L167.9,220.42L168.4,220.07L168.9,219.70L169.4,219.33L169.9,218.94L170.4,218.56L170.9,218.20L171.4,217.85L171.9,217.52L172.4,217.21L172.9,216.91L173.4,216.62L173.9,216.34L174.4,216.07L174.9,215.81L175.4,215.55L175.9,215.31L176.4,215.07L176.9,214.83L177.4,214.61L177.9,214.40L178.4,214.21L178.9,214.04L179.4,213.89L179.9,213.75L180.4,213.64L180.9,213.55L181.4,213.47L181.9,213.40L182.4,213.36L182.9,213.32L183.4,213.30L183.9,213.29L184.4,213.30L184.9,213.33L185.4,213.36L185.9,213.41L186.4,213.48L186.9,213.56L187.4,213.66L187.9,213.78L188.4,213.91L188.9,214.06L189.4,214.23L189.9,214.41L190.4,214.62L190.9,214.85L191.4,215.10L191.9,215.37L192.4,215.65L192.9,215.93L193.4,216.19L193.9,216.44L194.4,216.67L194.9,216.90L195.4,217.11L195.9,217.32L196.4,217.51L196.9,217.68L197.4,217.83L197.9,217.96L198.4,218.06L198.9,218.15L199.4,218.22L199.9,218.27L200.4,218.30L200.9,218.30L201.4,218.28L201.9,218.22L202.4,218.11L202.9,217.95L203.4,217.72L203.9,217.43L204.4,217.10L204.9,216.74L205.4,216.35L205.9,215.93L206.4,215.49L206.9,215.04L207.4,214.57L207.9,214.09L208.4,213.58L208.9,213.06L209.4,212.52L209.9,211.96L210.4,211.39L210.9,210.81L211.4,210.23L211.9,209.65L212.4,209.06L212.9,208.47L213.4,207.87L213.9,207.25L214.4,206.62L214.9,205.96L215.4,205.28L215.9,204.57L216.4,203.83L216.9,203.06L217.4,202.28L217.9,201.49L218.4,200.69L218.9,199.88L219.4,199.07L219.9,198.25L220.4,197.42L220.9,196.59L221.4,195.75L221.9,194.92L222.4,194.09L222.9,193.27L223.4,192.46L223.9,191.65L224.4,190.85L224.9,190.05L225.4,189.26L225.9,188.48L226.4,187.72L226.9,186.96L227.4,186.22L227.9,185.50L228.4,184.79L228.9,184.12L229.4,183.49L229.9,182.92L230.4,182.44L230.9,182.04L231.4,181.74L231.9,181.55L232.4,181.51L232.9,181.62L233.4,181.89L233.9,182.30L234.4,182.85L234.9,183.54L235.4,184.36L235.9,185.28L236.4,186.24L236.9,187.22L237.4,188.18L237.9,189.11L238.4,190.01L238.9,190.91L239.4,191.85L239.9,192.85L240.4,193.94L240.9,195.13L241.4,196.37L241.9,197.63L242.4,198.88L242.9,200.09L243.4,201.27L243.9,202.43L244.4,203.58L244.9,204.72L245.4,205.85L245.9,206.98L246.4,208.11L246.9,209.23L247.4,210.33L247.9,211.43L248.4,212.51L248.9,213.58L249.4,214.63L249.9,215.67L250.4,216.70L250.9,217.71L251.4,218.71L251.9,219.68L252.4,220.64L252.9,221.56L253.4,222.45L253.9,223.31L254.4,224.15L254.9,224.96L255.4,225.75L255.9,226.52L256.4,227.27L256.9,227.98L257.4,228.66L257.9,229.29L258.4,229.88L258.9,230.43L259.4,230.93L259.9,231.37L260.4,231.77L260.9,232.12L261.4,232.43L261.9,232.70L262.4,232.94L262.9,233.15L263.4,233.31L263.9,233.44L264.4,233.51L264.9,233.55L265.4,233.55L265.9,233.51L266.4,233.44L266.9,233.33L267.4,233.20L267.9,233.03L268.4,232.83L268.9,232.60L269.4,232.35L269.9,232.08L270.4,231.77L270.9,231.44L271.4,231.08L271.9,230.71L272.4,230.33L272.9,229.95L273.4,229.58L273.9,229.21L274.4,228.84L274.9,228.47L275.4,228.10L275.9,227.73L276.4,227.36L276.9,227.00L277.4,226.63L277.9,226.26L278.4,225.90L278.9,225.54L279.4,225.21L279.9,224.90L280.4,224.63L280.9,224.39L281.4,224.19L281.9,224.02L282.4,223.88L282.9,223.76L283.4,223.67L283.9,223.61L284.4,223.57L284.9,223.55L285.4,223.55L285.9,223.57L286.4,223.60L286.9,223.64L287.4,223.69L287.9,223.74L288.4,223.81L288.9,223.88L289.4,223.97L289.9,224.05L290.4,224.14L290.9,224.22L291.4,224.30L291.9,224.37L292.4,224.43L292.9,224.49L293.4,224.55L293.9,224.60L294.4,224.64L294.9,224.68L295.4,224.69L295.9,224.70L296.4,224.69L296.9,224.68L297.4,224.66L297.9,224.64L298.4,224.62L298.9,224.60L299.4,224.59L299.9,224.58L300.4,224.57L300.9,224.56L301.4,224.56L301.9,224.57L302.4,224.59L302.9,224.62L303.4,224.67L303.9,224.73L304.4,224.81L304.9,224.89L305.4,224.98L305.9,225.07L306.4,225.17L306.9,225.26L307.4,225.37L307.9,225.48L308.4,225.59L308.9,225.70L309.4,225.80L309.9,225.90L310.4,225.97L310.9,226.04L311.4,226.09L311.9,226.13L312.4,226.16L312.9,226.18L313.4,226.19L313.9,226.19L314.4,226.19L314.9,226.18L315.4,226.16L315.9,226.14L316.4,226.10L316.9,226.07L317.4,226.04L317.9,226.01L318.4,225.99L318.9,225.98L319.4,225.97L319.9,225.96L320.4,225.95L320.9,225.93L321.4,225.92L321.9,225.89L322.4,225.86L322.9,225.83L323.4,225.79L323.9,225.74L324.4,225.70L324.9,225.66L325.4,225.62L325.9,225.58L326.4,225.54L326.9,225.50L327.4,225.46L327.9,225.43L328.4,225.40L328.9,225.39L329.4,225.39L329.9,225.41L330.4,225.44L330.9,225.49L331.4,225.55L331.9,225.61L332.4,225.69L332.9,225.77L333.4,225.87L333.9,225.96L334.4,226.07L334.9,226.19L335.4,226.32L335.9,226.48L336.4,226.65L336.9,226.83L337.4,227.02L337.9,227.20L338.4,227.37L338.9,227.51L339.4,227.64L339.9,227.75L340.4,227.84L340.9,227.93L341.4,228.01L341.9,228.07L342.4,228.13L342.9,228.17L343.4,228.22L343.9,228.25L344.4,228.27L344.9,228.28L345.4,228.26L345.9,228.21L346.4,228.12L346.9,228.00L347.4,227.85L347.9,227.67L348.4,227.46L348.9,227.24L349.4,227.00L349.9,226.75L350.4,226.49L350.9,226.21L351.4,225.93L351.9,225.63L352.4,225.32L352.9,225.00L353.4,224.68L353.9,224.36L354.4,224.04L354.9,223.70L355.4,223.37L355.9,223.03L356.4,222.69L356.9,222.37L357.4,222.05L357.9,221.75L358.4,221.47L358.9,221.19L359.4,220.93L359.9,220.68L360.4,220.44L360.9,220.21L361.4,219.99L361.9,219.78L362.4,219.59L362.9,219.41L363.4,219.25L363.9,219.13L364.4,219.06L364.9,219.04L365.4,219.08L365.9,219.18L366.4,219.31L366.9,219.48L367.4,219.66L367.9,219.87L368.4,220.08L368.9,220.30L369.4,220.54L369.9,220.79L370.4,221.05L370.9,221.31L371.4,221.58L371.9,221.86L372.4,222.15L372.9,222.45L373.4,222.76L373.9,223.07L374.4,223.38L374.9,223.68L375.4,223.98L375.9,224.27L376.4,224.55L376.9,224.83L377.4,225.10L377.9,225.38L378.4,225.65L378.9,225.92L379.4,226.19L379.9,226.43L380.4,226.62" fill="none" stroke="#1e1ef2" stroke-width="1.1" stroke-linejoin="round"/>
<path d="M58.65,164.40V280.70" fill="none" stroke="#444" stroke-width="1.05"/>
<path d="M58.15,280.15H389.2" fill="none" stroke="#5a5a5a" stroke-width="1.2"/>
<line x1="58.65" y1="164.90" x2="62.0" y2="164.90" stroke="#3a3a3a" stroke-width="1"/>
<text x="54.5" y="169.8" text-anchor="end" class="tk">1.5</text>
<line x1="58.65" y1="203.27" x2="62.0" y2="203.27" stroke="#3a3a3a" stroke-width="1"/>
<text x="54.5" y="208.2" text-anchor="end" class="tk">0.5</text>
<line x1="58.65" y1="241.63" x2="62.0" y2="241.63" stroke="#3a3a3a" stroke-width="1"/>
<text x="54.5" y="247.2" text-anchor="end" class="tk">−0.5</text>
<line x1="99.66" y1="280.00" x2="99.66" y2="277.00" stroke="#333" stroke-width="1.3"/>
<line x1="140.99" y1="280.00" x2="140.99" y2="277.00" stroke="#333" stroke-width="1.3"/>
<line x1="182.33" y1="280.00" x2="182.33" y2="277.00" stroke="#333" stroke-width="1.3"/>
<line x1="223.67" y1="280.00" x2="223.67" y2="277.00" stroke="#333" stroke-width="1.3"/>
<line x1="265.00" y1="280.00" x2="265.00" y2="277.00" stroke="#333" stroke-width="1.3"/>
<line x1="306.34" y1="280.00" x2="306.34" y2="277.00" stroke="#333" stroke-width="1.3"/>
<line x1="347.68" y1="280.00" x2="347.68" y2="277.00" stroke="#333" stroke-width="1.3"/>
<text x="89.3" y="193.7" class="tt" textLength="62.6" lengthAdjust="spacingAndGlyphs">V-Lead50</text>
<text x="215.6 219.7 223.8 227.9 232.0 236.2 240.3 244.4" y="174.85" text-anchor="middle" class="st">✷✷✷✷✷✷✷✷</text>
</g>
<g>
<line x1="58.8" y1="420.30" x2="380.8" y2="420.30" stroke="#808080" stroke-width="1.1"/>
<path d="M126.5,420.30H212.9M243.7,420.30H345.4" stroke="#484848" stroke-width="0.9" fill="none"/>
<path d="M134.25,419.78V420.69M134.75,419.56V420.86M135.25,419.22V420.99M135.75,418.98V421.03M136.25,419.18V421.24M136.75,418.89V421.17M137.25,419.73V420.65M137.75,419.66V420.73M138.25,418.44V421.47M138.75,418.49V421.57M139.25,419.48V420.70M139.75,419.60V420.77M140.25,418.22V421.56M140.75,418.19V421.60M141.25,419.41V420.90M141.75,419.53V420.87M142.25,417.96V421.56M142.75,418.30V421.67M143.25,419.48V420.92M143.75,419.40V420.95M144.25,417.96V421.94M144.75,418.07V421.72M145.25,419.26V420.82M145.75,419.40V420.89M146.25,418.14V421.77M146.75,417.61V421.93M147.25,419.27V420.82M147.75,419.22V420.99M148.25,418.00V421.95M148.75,417.91V421.70M149.25,419.38V420.86M149.75,419.37V421.03M150.25,417.83V421.84M150.75,417.47V422.22M151.25,419.34V420.86M151.75,419.17V420.88M152.25,417.63V421.75M152.75,417.62V422.24M153.25,419.29V420.93M153.75,419.22V421.03M154.25,417.43V422.26M154.75,417.41V422.12M155.25,419.25V420.86M155.75,419.27V421.02M156.25,417.31V422.29M156.75,417.74V421.84M157.25,419.17V421.08M157.75,419.16V421.06M158.25,417.29V422.19M158.75,417.73V422.20M159.25,419.07V420.97M159.75,419.13V420.91M160.25,417.24V422.24M160.75,417.17V422.16M161.25,419.25V420.89M161.75,419.14V421.13M162.25,417.19V421.92M162.75,417.55V422.17M163.25,419.22V421.14M163.75,419.09V421.14M164.25,417.31V422.18M164.75,417.33V421.97M165.25,419.18V421.05M165.75,419.13V421.07M166.25,417.49V422.26M166.75,417.01V422.24M167.25,418.94V421.06M167.75,419.04V421.14M168.25,417.15V422.58M168.75,416.80V422.12M169.25,418.92V421.00M169.75,419.13V421.03M170.25,416.84V422.61M170.75,416.91V422.08M171.25,419.07V421.25M171.75,418.83V421.22M172.25,416.96V422.25M172.75,416.79V422.03M173.25,419.10V421.09M173.75,419.08V421.29M174.25,417.20V422.24M174.75,417.06V422.15M175.25,418.83V421.08M175.75,418.90V421.22M176.25,416.69V422.41M176.75,416.71V422.70M177.25,419.03V421.29M177.75,418.87V421.31M178.25,416.74V422.30M178.75,417.10V422.28M179.25,418.79V421.13M179.75,418.91V421.04M180.25,416.50V422.59M180.75,416.32V422.25M181.25,418.84V421.32M181.75,418.77V421.37M182.25,416.45V422.71M182.75,416.96V422.31M183.25,418.89V421.12M183.75,418.68V421.29M184.25,416.72V422.61M184.75,416.72V423.04M185.25,418.87V421.40M185.75,418.95V421.20M186.25,416.76V422.67M186.75,416.85V422.58M187.25,418.85V421.16M187.75,418.70V421.30M188.25,416.59V422.52M188.75,416.31V422.79M189.25,418.64V421.29M189.75,418.90V421.26M190.25,416.23V422.95M190.75,416.33V422.84M191.25,418.90V421.21M191.75,418.75V421.30M192.25,416.48V422.27M192.75,416.47V422.72M193.25,418.69V421.17M193.75,418.69V421.16M194.25,416.47V422.59M194.75,416.23V422.79M195.25,418.88V421.17M195.75,418.74V421.09M196.25,416.30V422.86M196.75,416.43V422.67M197.25,418.62V421.16M197.75,418.92V421.25M198.25,416.48V422.51M198.75,416.69V422.78M199.25,418.60V421.14M199.75,418.62V421.33M200.25,416.55V422.25M200.75,416.74V422.39M201.25,418.98V421.26M201.75,418.89V421.01M202.25,417.53V421.77M202.75,418.57V421.30M204.25,419.40V420.80M204.75,419.47V420.83M244.25,419.61V420.80M244.75,419.57V420.84M245.25,419.35V420.89M245.75,419.48V420.89M246.25,419.22V420.85M246.75,419.24V420.88M247.25,419.42V420.95M247.75,419.19V420.86M248.25,419.15V420.98M248.75,419.36V421.11M249.25,419.07V420.95M249.75,419.27V421.08M250.25,419.18V421.11M250.75,419.47V421.13M251.25,419.14V421.02M251.75,419.13V421.14M252.25,419.17V421.12M252.75,419.04V421.01M253.25,418.57V421.37M253.75,418.86V421.37M254.25,418.61V421.41M254.75,418.29V421.66M255.25,418.29V421.67M255.75,417.56V421.91M256.25,417.57V422.04M256.75,416.96V422.17M257.25,417.51V422.85M257.75,417.46V422.56M258.25,417.42V422.67M258.75,417.28V422.48M259.25,415.77V423.39M259.75,415.50V422.98M260.25,413.41V423.98M260.75,413.06V425.46M261.25,413.40V425.50M261.75,410.93V425.22M262.25,411.44V425.66M262.75,413.06V426.60M263.25,411.17V424.88M263.75,411.64V424.90M264.25,411.09V425.32M264.75,413.19V425.35M265.25,413.46V426.21M265.75,414.40V426.29M266.25,411.00V424.87M266.75,410.96V426.67M267.25,412.86V425.78M267.75,411.51V426.25M268.25,412.22V425.46M268.75,411.59V424.98M269.25,413.52V424.95M269.75,413.23V426.72M270.25,413.45V424.98M270.75,411.85V425.69M271.25,412.17V426.13M271.75,412.01V425.06M272.25,412.36V425.54M272.75,413.52V425.30M273.25,412.32V425.45M273.75,412.58V425.27M274.25,410.83V425.02M274.75,411.38V426.59M275.25,414.04V425.14M275.75,411.26V425.43M276.25,413.71V426.12M276.75,412.65V425.74M277.25,414.30V424.91M277.75,412.68V424.85M278.25,412.70V424.75M278.75,412.43V425.32M279.25,413.82V425.25M279.75,414.65V425.42M280.25,414.29V425.77M280.75,414.23V424.81M281.25,418.56V421.33M281.75,418.72V421.60M282.25,413.41V425.43M282.75,414.07V424.86M283.25,418.73V421.46M283.75,418.72V421.32M284.25,414.09V424.65M284.75,414.02V424.06M285.25,418.64V421.20M285.75,418.50V421.41M286.25,413.33V424.10M286.75,413.33V424.01M287.25,418.68V421.29M287.75,418.62V421.47M288.25,413.56V423.72M288.75,413.83V424.44M289.25,418.76V421.34M289.75,418.76V421.28M290.25,414.11V423.91M290.75,414.19V423.81M291.25,418.89V421.26M291.75,418.77V421.12M292.25,413.94V424.56M292.75,414.29V423.99M293.25,418.69V421.43M293.75,418.92V421.41M294.25,413.87V423.63M294.75,415.02V423.86M295.25,418.72V421.16M295.75,418.86V421.36M296.25,414.57V423.74M296.75,415.05V424.51M297.25,418.99V421.30M297.75,418.85V421.16M298.25,414.62V424.37M298.75,414.59V423.73M299.25,418.77V421.21M299.75,418.95V421.08M300.25,414.46V423.50M300.75,414.78V423.98M301.25,419.09V421.06M301.75,418.96V421.28M302.25,414.80V423.14M302.75,415.48V423.52M303.25,418.96V421.06M303.75,419.10V421.27M304.25,415.58V423.79M304.75,415.26V423.34M305.25,419.00V421.08M305.75,418.90V421.18M306.25,415.75V423.58M306.75,415.77V423.84M307.25,418.93V421.00M307.75,419.06V421.14M308.25,415.59V423.24M308.75,415.12V423.67M309.25,419.03V421.07M309.75,419.18V420.96M310.25,415.73V423.61M310.75,415.39V423.07M311.25,419.06V421.05M311.75,419.03V420.97M312.25,415.98V422.95M312.75,415.54V423.02M313.25,419.25V421.12M313.75,419.15V421.13M314.25,415.73V423.47M314.75,415.90V422.89M315.25,419.33V421.09M315.75,419.33V421.08M316.25,416.54V422.56M316.75,415.96V423.19M317.25,419.30V421.03M317.75,419.38V421.04M318.25,416.63V422.61M318.75,416.02V423.13M319.25,419.29V420.88M319.75,419.27V420.86M320.25,416.87V422.55M320.75,416.62V422.58M321.25,419.29V420.93M321.75,419.39V420.95M322.25,416.61V422.41M322.75,416.43V422.35M323.25,419.36V420.97M323.75,419.42V420.92M324.25,416.94V422.80M324.75,417.03V422.28M325.25,419.53V420.87M325.75,419.43V420.89M326.25,417.07V422.34M326.75,416.77V422.04M327.25,419.43V420.82M327.75,419.56V420.80M328.25,417.01V422.41M328.75,417.46V422.51M329.25,419.60V420.78M329.75,419.62V420.77M330.25,417.56V422.05M330.75,417.63V421.93M331.25,419.58V420.70M331.75,419.53V420.79M332.25,417.80V421.99M332.75,417.50V421.97M333.25,419.71V420.67M333.75,419.69V420.74M334.25,417.79V421.85M334.75,417.99V421.95M335.25,419.72V420.70M335.75,419.72V420.70M336.25,418.00V421.76M336.75,418.32V421.68M337.25,419.77V420.64M338.25,418.42V421.64M338.75,418.51V421.34M340.25,418.96V421.22M340.75,419.01V421.08M342.25,419.65V420.72" stroke="#5a5a5a" stroke-width="0.5" fill="none"/>
<path d="M126.50,419.40V421.20M127.00,419.40V421.20M127.50,419.40V421.20M133.75,420.09V420.49M134.25,420.05V420.61M134.75,419.87V420.82M135.25,419.75V420.93M135.75,419.61V420.73M136.25,419.80V420.79M136.75,419.75V420.98M137.25,419.71V420.75M137.75,419.63V420.89M138.25,419.54V421.00M138.75,419.60V421.13M139.25,419.55V420.90M139.75,419.63V421.09M140.25,419.63V421.25M140.75,419.23V421.11M141.25,419.51V421.04M141.75,419.54V421.14M142.25,419.26V421.51M142.75,419.36V421.38M143.25,419.62V420.96M143.75,419.63V421.02M144.25,419.51V421.27M144.75,419.14V421.48M145.25,419.54V421.28M145.75,419.61V421.01M146.25,419.26V421.18M146.75,419.37V421.33M147.25,419.47V421.17M147.75,419.32V421.23M148.25,419.35V421.25M148.75,419.52V421.08M149.25,419.55V420.94M149.75,419.64V421.06M150.25,419.24V421.12M150.75,419.37V421.11M151.25,419.49V421.11M151.75,419.54V421.02M152.25,419.54V421.53M152.75,419.28V421.06M153.25,419.33V421.20M153.75,419.62V421.23M154.25,419.39V421.16M154.75,419.12V421.45M155.25,419.59V421.13M155.75,419.67V421.03M156.25,419.07V421.27M156.75,419.07V421.23M157.25,419.60V421.00M157.75,419.34V421.11M158.25,419.51V421.38M158.75,419.17V421.29M159.25,419.55V421.24M159.75,419.52V421.30M160.25,419.49V421.13M160.75,419.48V421.46M161.25,419.54V421.14M161.75,419.29V421.18M162.25,419.33V421.49M162.75,419.42V421.20M163.25,419.58V421.09M163.75,419.54V421.10M164.25,419.34V421.51M164.75,419.29V421.06M165.25,419.68V421.24M165.75,419.39V421.14M166.25,419.27V421.44M166.75,419.43V421.19M167.25,419.45V421.23M167.75,419.43V421.12M168.25,419.32V421.32M168.75,419.20V421.49M169.25,419.46V421.30M169.75,419.64V421.10M170.25,419.51V421.38M170.75,419.47V421.41M171.25,419.32V421.31M171.75,419.52V421.11M172.25,419.47V421.27M172.75,419.45V421.21M173.25,419.46V421.10M173.75,419.43V421.13M174.25,419.16V421.54M174.75,419.53V421.44M175.25,419.51V421.29M175.75,419.62V421.29M176.25,419.51V421.08M176.75,419.51V421.52M177.25,419.65V421.27M177.75,419.50V421.05M178.25,419.42V421.11M178.75,419.50V421.13M179.25,419.56V421.04M179.75,419.48V420.99M180.25,419.42V421.06M180.75,419.46V421.29M181.25,419.35V421.09M181.75,419.52V421.12M182.25,419.38V421.47M182.75,419.35V421.22M183.25,419.66V421.22M183.75,419.65V421.26M184.25,419.41V421.17M184.75,419.47V421.27M185.25,419.29V421.14M185.75,419.56V421.06M186.25,419.31V421.30M186.75,419.55V421.18M187.25,419.67V420.92M187.75,419.44V421.13M188.25,419.19V421.49M188.75,419.06V421.12M189.25,419.67V421.26M189.75,419.38V421.25M190.25,419.30V421.47M190.75,419.26V421.50M191.25,419.59V420.93M191.75,419.64V421.26M192.25,419.24V421.39M192.75,419.15V421.42M193.25,419.41V420.94M193.75,419.65V421.02M194.25,419.18V421.54M194.75,419.31V421.39M195.25,419.42V420.95M195.75,419.38V421.04M196.25,419.52V421.18M196.75,419.21V421.20M197.25,419.49V420.96M197.75,419.28V421.30M198.25,419.14V421.53M198.75,419.45V421.52M199.25,419.63V421.13M199.75,419.35V421.12M200.25,419.43V421.50M200.75,419.55V421.30M201.25,419.63V421.06M201.75,419.68V421.22M202.25,419.09V421.41M202.75,419.65V420.95M203.25,419.90V420.71M203.75,420.00V420.74M204.25,419.95V420.65M204.75,419.98V420.72M205.25,420.05V420.58M205.75,420.09V420.45M206.25,420.10V420.49M244.25,419.91V420.63M244.75,419.92V420.63M245.25,419.87V420.80M245.75,419.89V420.73M246.25,419.96V420.69M246.75,419.85V420.78M247.25,419.89V420.70M247.75,419.73V420.85M248.25,419.93V420.83M248.75,419.79V420.67M249.25,419.72V420.88M249.75,419.89V420.72M250.25,419.67V420.87M250.75,419.79V420.84M251.25,419.84V420.95M251.75,419.86V420.78M252.25,419.85V420.73M252.75,419.74V420.81M253.25,419.67V420.99M253.75,419.33V421.10M254.25,419.17V421.31M254.75,419.27V421.42M255.25,419.07V421.68M255.75,419.15V421.50M256.25,418.76V421.80M256.75,418.53V421.60M257.25,418.99V422.02M257.75,418.69V421.66M258.25,418.46V422.39M258.75,418.76V422.52M259.25,418.83V422.08M259.75,418.16V422.70M260.25,418.68V422.64M260.75,418.22V422.10M261.25,418.70V421.74M261.75,417.94V421.86M262.25,418.52V422.53M262.75,418.81V422.19M263.25,418.67V422.09M263.75,418.47V422.52M264.25,418.83V421.80M264.75,418.14V422.60M265.25,417.94V422.33M265.75,418.56V422.00M266.25,417.98V422.35M266.75,418.64V422.20M267.25,418.49V421.98M267.75,417.97V421.92M268.25,418.07V422.48M268.75,418.55V422.09M269.25,418.67V422.46M269.75,418.83V422.27M270.25,418.01V422.69M270.75,418.77V422.22M271.25,418.64V422.14M271.75,418.14V422.55M272.25,418.05V422.02M272.75,418.15V421.93M273.25,418.71V422.59M273.75,418.48V422.69M274.25,418.08V422.37M274.75,418.40V422.53M275.25,418.82V422.02M275.75,417.93V422.30M276.25,418.03V422.17M276.75,417.95V421.84M277.25,418.65V422.09M277.75,418.62V422.32M278.25,418.85V422.05M278.75,418.56V421.94M279.25,418.80V421.84M279.75,418.25V421.83M280.25,418.47V422.01M280.75,418.56V422.28M281.25,418.54V422.16M281.75,418.64V421.57M282.25,418.45V422.53M282.75,418.42V421.90M283.25,418.71V422.09M283.75,418.91V421.79M284.25,418.36V422.63M284.75,418.09V422.67M285.25,418.48V422.14M285.75,418.49V421.70M286.25,418.07V421.89M286.75,418.47V422.55M287.25,419.02V421.71M287.75,419.09V421.60M288.25,418.82V422.28M288.75,418.06V421.85M289.25,418.72V421.64M289.75,418.87V421.91M290.25,418.84V422.33M290.75,418.13V422.49M291.25,418.83V421.50M291.75,419.12V421.74M292.25,418.25V421.82M292.75,418.37V421.79M293.25,418.48V421.52M293.75,418.64V422.02M294.25,418.39V422.66M294.75,418.10V422.63M295.25,418.62V421.53M295.75,418.58V421.52M296.25,418.66V421.99M296.75,418.82V421.91M297.25,418.68V422.08M297.75,419.10V421.81M298.25,418.02V422.27M298.75,418.76V422.69M299.25,418.59V421.61M299.75,418.92V421.98M300.25,418.15V421.79M300.75,418.25V422.68M301.25,418.95V421.42M301.75,418.73V421.74M302.25,418.73V421.96M302.75,418.86V422.08M303.25,419.02V421.85M303.75,418.72V421.77M304.25,418.63V421.88M304.75,418.02V422.49M305.25,419.18V421.90M305.75,418.70V421.75M306.25,418.62V422.61M306.75,418.47V421.97M307.25,419.17V421.83M307.75,419.04V421.87M308.25,418.08V421.91M308.75,418.81V422.59M309.25,419.18V422.04M309.75,418.63V421.75M310.25,418.64V421.78M310.75,418.19V422.55M311.25,418.77V421.74M311.75,418.99V421.89M312.25,418.02V421.75M312.75,418.15V422.65M313.25,418.53V421.66M313.75,418.71V421.93M314.25,418.41V422.55M314.75,418.44V422.44M315.25,419.04V421.87M315.75,419.10V421.42M316.25,418.58V421.83M316.75,418.28V422.27M317.25,419.19V421.78M317.75,418.68V421.97M318.25,418.14V422.48M318.75,418.88V421.65M319.25,418.86V421.87M319.75,419.23V421.37M320.25,418.75V421.94M320.75,418.80V422.17M321.25,418.71V421.59M321.75,419.32V421.52M322.25,418.80V422.09M322.75,418.40V421.58M323.25,419.38V421.35M323.75,419.39V421.51M324.25,419.00V421.84M324.75,418.96V422.16M325.25,419.02V421.47M325.75,419.39V421.62M326.25,418.74V421.66M326.75,418.57V421.45M327.25,419.36V421.27M327.75,419.28V421.60M328.25,418.89V421.86M328.75,419.04V421.55M329.25,419.17V421.47M329.75,419.13V421.37M330.25,418.74V421.43M330.75,418.88V421.81M331.25,419.44V421.20M331.75,419.42V421.12M332.25,419.33V421.80M332.75,418.83V421.66M333.25,419.54V421.25M333.75,419.48V420.96M334.25,419.11V421.38M334.75,419.44V421.40M335.25,419.35V421.06M335.75,419.57V420.96M336.25,419.22V421.35M336.75,419.32V421.20M337.25,419.75V420.96M337.75,419.60V420.88M338.25,419.45V421.07M338.75,419.67V421.11M339.25,419.76V420.97M339.75,419.89V420.87M340.25,419.83V420.91M340.75,419.76V420.87M341.25,419.96V420.74M341.75,420.02V420.64M342.25,420.02V420.54M342.75,420.16V420.48" stroke="#4a4a4a" stroke-width="0.55" fill="none"/>
<path d="M62.9,385.40L63.4,385.41L63.9,385.43L64.4,385.45L64.9,385.46L65.4,385.48L65.9,385.49L66.4,385.51L66.9,385.52L67.4,385.54L67.9,385.56L68.4,385.57L68.9,385.58L69.4,385.59L69.9,385.60L70.4,385.60L70.9,385.60L71.4,385.60L71.9,385.60L72.4,385.59L72.9,385.57L73.4,385.55L73.9,385.51L74.4,385.46L74.9,385.41L75.4,385.35L75.9,385.27L76.4,385.18L76.9,385.08L77.4,384.95L77.9,384.80L78.4,384.63L78.9,384.43L79.4,384.22L79.9,383.99L80.4,383.74L80.9,383.48L81.4,383.21L81.9,382.92L82.4,382.63L82.9,382.31L83.4,381.99L83.9,381.66L84.4,381.32L84.9,380.97L85.4,380.62L85.9,380.26L86.4,379.89L86.9,379.52L87.4,379.14L87.9,378.75L88.4,378.38L88.9,378.00L89.4,377.64L89.9,377.28L90.4,376.93L90.9,376.57L91.4,376.23L91.9,375.90L92.4,375.59L92.9,375.29L93.4,375.01L93.9,374.75L94.4,374.50L94.9,374.27L95.4,374.06L95.9,373.86L96.4,373.68L96.9,373.54L97.4,373.42L97.9,373.34L98.4,373.31L98.9,373.33L99.4,373.39L99.9,373.49L100.4,373.62L100.9,373.78L101.4,373.97L101.9,374.19L102.4,374.44L102.9,374.72L103.4,375.03L103.9,375.37L104.4,375.75L104.9,376.14L105.4,376.55L105.9,376.96L106.4,377.37L106.9,377.77L107.4,378.17L107.9,378.56L108.4,378.94L108.9,379.32L109.4,379.69L109.9,380.05L110.4,380.39L110.9,380.69L111.4,380.95L111.9,381.18L112.4,381.37L112.9,381.53L113.4,381.67L113.9,381.78L114.4,381.89L114.9,381.98L115.4,382.05L115.9,382.11L116.4,382.15L116.9,382.18L117.4,382.21L117.9,382.23L118.4,382.25L118.9,382.28L119.4,382.33L119.9,382.37L120.4,382.42L120.9,382.48L121.4,382.54L121.9,382.60L122.4,382.67L122.9,382.74L123.4,382.82L123.9,382.90L124.4,382.99L124.9,383.08L125.4,383.18L125.9,383.29L126.4,383.41L126.9,383.54L127.4,383.68L127.9,383.83L128.4,383.99L128.9,384.16L129.4,384.32L129.9,384.49L130.4,384.65L130.9,384.82L131.4,384.99L131.9,385.16L132.4,385.33L132.9,385.49L133.4,385.65L133.9,385.80L134.4,385.93L134.9,386.05L135.4,386.16L135.9,386.26L136.4,386.36L136.9,386.44L137.4,386.53L137.9,386.62L138.4,386.71L138.9,386.80L139.4,386.88L139.9,386.93L140.4,386.95L140.9,386.94L141.4,386.90L141.9,386.84L142.4,386.78L142.9,386.70L143.4,386.61L143.9,386.51L144.4,386.39L144.9,386.25L145.4,386.10L145.9,385.93L146.4,385.75L146.9,385.56L147.4,385.37L147.9,385.18L148.4,384.99L148.9,384.80L149.4,384.61L149.9,384.42L150.4,384.23L150.9,384.05L151.4,383.87L151.9,383.70L152.4,383.54L152.9,383.39L153.4,383.26L153.9,383.13L154.4,383.02L154.9,382.91L155.4,382.80L155.9,382.69L156.4,382.57L156.9,382.45L157.4,382.32L157.9,382.19L158.4,382.06L158.9,381.92L159.4,381.77L159.9,381.62L160.4,381.46L160.9,381.31L161.4,381.15L161.9,380.99L162.4,380.83L162.9,380.65L163.4,380.45L163.9,380.24L164.4,380.01L164.9,379.75L165.4,379.48L165.9,379.19L166.4,378.89L166.9,378.59L167.4,378.29L167.9,377.99L168.4,377.68L168.9,377.37L169.4,377.06L169.9,376.75L170.4,376.43L170.9,376.12L171.4,375.80L171.9,375.49L172.4,375.17L172.9,374.84L173.4,374.52L173.9,374.20L174.4,373.91L174.9,373.63L175.4,373.38L175.9,373.17L176.4,372.99L176.9,372.83L177.4,372.70L177.9,372.58L178.4,372.46L178.9,372.34L179.4,372.22L179.9,372.09L180.4,371.96L180.9,371.83L181.4,371.70L181.9,371.58L182.4,371.45L182.9,371.33L183.4,371.21L183.9,371.08L184.4,370.96L184.9,370.84L185.4,370.72L185.9,370.61L186.4,370.51L186.9,370.43L187.4,370.36L187.9,370.30L188.4,370.26L188.9,370.23L189.4,370.22L189.9,370.22L190.4,370.23L190.9,370.25L191.4,370.27L191.9,370.31L192.4,370.36L192.9,370.42L193.4,370.50L193.9,370.59L194.4,370.71L194.9,370.85L195.4,371.01L195.9,371.18L196.4,371.36L196.9,371.54L197.4,371.73L197.9,371.92L198.4,372.12L198.9,372.32L199.4,372.53L199.9,372.74L200.4,372.94L200.9,373.14L201.4,373.33L201.9,373.52L202.4,373.68L202.9,373.82L203.4,373.91L203.9,373.96L204.4,373.98L204.9,373.96L205.4,373.93L205.9,373.86L206.4,373.78L206.9,373.68L207.4,373.55L207.9,373.39L208.4,373.20L208.9,372.99L209.4,372.75L209.9,372.49L210.4,372.21L210.9,371.92L211.4,371.63L211.9,371.33L212.4,371.03L212.9,370.72L213.4,370.36L213.9,369.93L214.4,369.38L214.9,368.73L215.4,367.96L215.9,367.09L216.4,366.13L216.9,365.11L217.4,364.04L217.9,362.94L218.4,361.79L218.9,360.59L219.4,359.36L219.9,358.11L220.4,356.86L220.9,355.63L221.4,354.41L221.9,353.21L222.4,352.02L222.9,350.85L223.4,349.70L223.9,348.58L224.4,347.50L224.9,346.45L225.4,345.44L225.9,344.46L226.4,343.54L226.9,342.69L227.4,341.92L227.9,341.22L228.4,340.60L228.9,340.03L229.4,339.52L229.9,339.04L230.4,338.61L230.9,338.23L231.4,337.91L231.9,337.67L232.4,337.53L232.9,337.49L233.4,337.54L233.9,337.67L234.4,337.89L234.9,338.20L235.4,338.59L235.9,339.06L236.4,339.60L236.9,340.20L237.4,340.84L237.9,341.53L238.4,342.26L238.9,343.03L239.4,343.85L239.9,344.70L240.4,345.61L240.9,346.56L241.4,347.56L241.9,348.60L242.4,349.68L242.9,350.79L243.4,351.93L243.9,353.10L244.4,354.28L244.9,355.46L245.4,356.63L245.9,357.79L246.4,358.94L246.9,360.07L247.4,361.17L247.9,362.22L248.4,363.24L248.9,364.20L249.4,365.13L249.9,366.01L250.4,366.85L250.9,367.64L251.4,368.39L251.9,369.11L252.4,369.80L252.9,370.47L253.4,371.12L253.9,371.75L254.4,372.36L254.9,372.95L255.4,373.52L255.9,374.07L256.4,374.60L256.9,375.10L257.4,375.56L257.9,375.96L258.4,376.32L258.9,376.63L259.4,376.91L259.9,377.18L260.4,377.44L260.9,377.72L261.4,377.99L261.9,378.27L262.4,378.54L262.9,378.80L263.4,379.05L263.9,379.28L264.4,379.50L264.9,379.71L265.4,379.90L265.9,380.08L266.4,380.24L266.9,380.40L267.4,380.55L267.9,380.69L268.4,380.82L268.9,380.95L269.4,381.06L269.9,381.17L270.4,381.26L270.9,381.36L271.4,381.45L271.9,381.54L272.4,381.62L272.9,381.70L273.4,381.76L273.9,381.80L274.4,381.82L274.9,381.83L275.4,381.82L275.9,381.81L276.4,381.80L276.9,381.78L277.4,381.75L277.9,381.70L278.4,381.64L278.9,381.55L279.4,381.45L279.9,381.34L280.4,381.23L280.9,381.14L281.4,381.06L281.9,381.01L282.4,380.98L282.9,380.97L283.4,380.99L283.9,381.03L284.4,381.09L284.9,381.17L285.4,381.26L285.9,381.36L286.4,381.46L286.9,381.58L287.4,381.70L287.9,381.84L288.4,381.99L288.9,382.15L289.4,382.32L289.9,382.49L290.4,382.66L290.9,382.82L291.4,382.98L291.9,383.13L292.4,383.27L292.9,383.41L293.4,383.55L293.9,383.68L294.4,383.82L294.9,383.95L295.4,384.08L295.9,384.21L296.4,384.34L296.9,384.47L297.4,384.60L297.9,384.72L298.4,384.84L298.9,384.94L299.4,385.05L299.9,385.15L300.4,385.24L300.9,385.32L301.4,385.36L301.9,385.36L302.4,385.32L302.9,385.24L303.4,385.12L303.9,384.96L304.4,384.76L304.9,384.52L305.4,384.24L305.9,383.92L306.4,383.57L306.9,383.18L307.4,382.77L307.9,382.36L308.4,381.93L308.9,381.51L309.4,381.09L309.9,380.66L310.4,380.22L310.9,379.78L311.4,379.34L311.9,378.92L312.4,378.52L312.9,378.14L313.4,377.79L313.9,377.47L314.4,377.16L314.9,376.88L315.4,376.61L315.9,376.36L316.4,376.13L316.9,375.91L317.4,375.71L317.9,375.53L318.4,375.37L318.9,375.22L319.4,375.09L319.9,374.98L320.4,374.88L320.9,374.80L321.4,374.74L321.9,374.69L322.4,374.66L322.9,374.64L323.4,374.62L323.9,374.61L324.4,374.60L324.9,374.61L325.4,374.62L325.9,374.64L326.4,374.67L326.9,374.73L327.4,374.83L327.9,374.98L328.4,375.19L328.9,375.45L329.4,375.72L329.9,375.98L330.4,376.23L330.9,376.48L331.4,376.73L331.9,376.97L332.4,377.21L332.9,377.45L333.4,377.68L333.9,377.89L334.4,378.09L334.9,378.27L335.4,378.43L335.9,378.56L336.4,378.66L336.9,378.74L337.4,378.80L337.9,378.83L338.4,378.85L338.9,378.84L339.4,378.82L339.9,378.78L340.4,378.71L340.9,378.63L341.4,378.54L341.9,378.44L342.4,378.33L342.9,378.22L343.4,378.09L343.9,377.95L344.4,377.80L344.9,377.65L345.4,377.51L345.9,377.37L346.4,377.24L346.9,377.11L347.4,376.99L347.9,376.88L348.4,376.78L348.9,376.68L349.4,376.59L349.9,376.51L350.4,376.45L350.9,376.39L351.4,376.35L351.9,376.31L352.4,376.29L352.9,376.29L353.4,376.31L353.9,376.35L354.4,376.40L354.9,376.48L355.4,376.58L355.9,376.70L356.4,376.83L356.9,376.98L357.4,377.15L357.9,377.33L358.4,377.53L358.9,377.74L359.4,377.98L359.9,378.22L360.4,378.46L360.9,378.71L361.4,378.96L361.9,379.20L362.4,379.44L362.9,379.69L363.4,379.94L363.9,380.18L364.4,380.41L364.9,380.62L365.4,380.82L365.9,381.01L366.4,381.18L366.9,381.34L367.4,381.49L367.9,381.61L368.4,381.70L368.9,381.77L369.4,381.79L369.9,381.79L370.4,381.75L370.9,381.68L371.4,381.58L371.9,381.46L372.4,381.32L372.9,381.15L373.4,380.96L373.9,380.74L374.4,380.49L374.9,380.22L375.4,379.93L375.9,379.63L376.4,379.31L376.9,378.97L377.4,378.62L377.9,378.25L378.4,377.87L378.9,377.47L379.4,377.07L379.9,376.70L380.4,376.43L380.4,384.26L379.9,384.56L379.4,384.95L378.9,385.38L378.4,385.82L377.9,386.24L377.4,386.66L376.9,387.05L376.4,387.44L375.9,387.80L375.4,388.15L374.9,388.49L374.4,388.80L373.9,389.09L373.4,389.36L372.9,389.60L372.4,389.81L371.9,390.00L371.4,390.17L370.9,390.31L370.4,390.42L369.9,390.50L369.4,390.55L368.9,390.56L368.4,390.54L367.9,390.48L367.4,390.39L366.9,390.28L366.4,390.15L365.9,390.01L365.4,389.86L364.9,389.70L364.4,389.51L363.9,389.32L363.4,389.11L362.9,388.90L362.4,388.68L361.9,388.47L361.4,388.26L360.9,388.05L360.4,387.84L359.9,387.62L359.4,387.42L358.9,387.22L358.4,387.03L357.9,386.87L357.4,386.72L356.9,386.59L356.4,386.47L355.9,386.37L355.4,386.27L354.9,386.19L354.4,386.12L353.9,386.06L353.4,386.01L352.9,385.97L352.4,385.95L351.9,385.93L351.4,385.92L350.9,385.92L350.4,385.94L349.9,385.96L349.4,385.99L348.9,386.04L348.4,386.09L347.9,386.15L347.4,386.22L346.9,386.30L346.4,386.38L345.9,386.46L345.4,386.56L344.9,386.66L344.4,386.77L343.9,386.87L343.4,386.97L342.9,387.05L342.4,387.13L341.9,387.19L341.4,387.25L340.9,387.30L340.4,387.33L339.9,387.35L339.4,387.35L338.9,387.33L338.4,387.29L337.9,387.24L337.4,387.16L336.9,387.06L336.4,386.94L335.9,386.79L335.4,386.61L334.9,386.42L334.4,386.19L333.9,385.95L333.4,385.69L332.9,385.42L332.4,385.14L331.9,384.86L331.4,384.57L330.9,384.28L330.4,383.99L329.9,383.69L329.4,383.38L328.9,383.07L328.4,382.77L327.9,382.52L327.4,382.33L326.9,382.18L326.4,382.08L325.9,382.00L325.4,381.95L324.9,381.92L324.4,381.91L323.9,381.91L323.4,381.94L322.9,381.97L322.4,382.03L321.9,382.10L321.4,382.20L320.9,382.31L320.4,382.44L319.9,382.59L319.4,382.75L318.9,382.93L318.4,383.13L317.9,383.34L317.4,383.57L316.9,383.82L316.4,384.09L315.9,384.37L315.4,384.67L314.9,384.99L314.4,385.32L313.9,385.68L313.4,386.05L312.9,386.45L312.4,386.88L311.9,387.33L311.4,387.80L310.9,388.29L310.4,388.78L309.9,389.27L309.4,389.75L308.9,390.22L308.4,390.69L307.9,391.17L307.4,391.63L306.9,392.09L306.4,392.53L305.9,392.93L305.4,393.30L304.9,393.63L304.4,393.92L303.9,394.17L303.4,394.37L302.9,394.54L302.4,394.65L301.9,394.73L301.4,394.75L300.9,394.73L300.4,394.67L299.9,394.59L299.4,394.50L298.9,394.41L298.4,394.31L297.9,394.21L297.4,394.10L296.9,393.98L296.4,393.86L295.9,393.74L295.4,393.62L294.9,393.50L294.4,393.38L293.9,393.26L293.4,393.14L292.9,393.01L292.4,392.88L291.9,392.75L291.4,392.61L290.9,392.46L290.4,392.31L289.9,392.15L289.4,391.99L288.9,391.83L288.4,391.68L287.9,391.54L287.4,391.42L286.9,391.30L286.4,391.20L285.9,391.10L285.4,391.01L284.9,390.93L284.4,390.87L283.9,390.82L283.4,390.79L282.9,390.78L282.4,390.80L281.9,390.84L281.4,390.91L280.9,390.99L280.4,391.10L279.9,391.22L279.4,391.34L278.9,391.45L278.4,391.54L277.9,391.62L277.4,391.67L276.9,391.72L276.4,391.75L275.9,391.77L275.4,391.78L274.9,391.78L274.4,391.76L273.9,391.72L273.4,391.65L272.9,391.56L272.4,391.44L271.9,391.31L271.4,391.17L270.9,391.02L270.4,390.87L269.9,390.72L269.4,390.56L268.9,390.39L268.4,390.22L267.9,390.03L267.4,389.84L266.9,389.63L266.4,389.42L265.9,389.20L265.4,388.97L264.9,388.72L264.4,388.46L263.9,388.19L263.4,387.90L262.9,387.59L262.4,387.28L261.9,386.95L261.4,386.63L260.9,386.30L260.4,385.97L259.9,385.65L259.4,385.33L258.9,384.99L258.4,384.63L257.9,384.22L257.4,383.76L256.9,383.24L256.4,382.69L255.9,382.11L255.4,381.50L254.9,380.88L254.4,380.24L253.9,379.57L253.4,378.89L252.9,378.18L252.4,377.46L251.9,376.72L251.4,375.96L250.9,375.17L250.4,374.35L249.9,373.50L249.4,372.61L248.9,371.69L248.4,370.73L247.9,369.74L247.4,368.71L246.9,367.64L246.4,366.54L245.9,365.42L245.4,364.28L244.9,363.14L244.4,361.99L243.9,360.84L243.4,359.70L242.9,358.58L242.4,357.50L241.9,356.45L241.4,355.44L240.9,354.47L240.4,353.54L239.9,352.67L239.4,351.84L238.9,351.05L238.4,350.31L237.9,349.61L237.4,348.94L236.9,348.32L236.4,347.75L235.9,347.24L235.4,346.80L234.9,346.44L234.4,346.16L233.9,345.97L233.4,345.85L232.9,345.82L232.4,345.88L231.9,346.03L231.4,346.27L230.9,346.59L230.4,346.97L229.9,347.40L229.4,347.86L228.9,348.36L228.4,348.91L227.9,349.52L227.4,350.21L226.9,350.97L226.4,351.81L225.9,352.72L225.4,353.68L224.9,354.69L224.4,355.72L223.9,356.79L223.4,357.90L222.9,359.03L222.4,360.20L221.9,361.38L221.4,362.57L220.9,363.77L220.4,364.99L219.9,366.23L219.4,367.46L218.9,368.68L218.4,369.87L217.9,371.00L217.4,372.10L216.9,373.16L216.4,374.19L215.9,375.17L215.4,376.09L214.9,376.92L214.4,377.66L213.9,378.29L213.4,378.84L212.9,379.33L212.4,379.79L211.9,380.24L211.4,380.68L210.9,381.12L210.4,381.56L209.9,381.98L209.4,382.39L208.9,382.77L208.4,383.13L207.9,383.47L207.4,383.77L206.9,384.05L206.4,384.30L205.9,384.52L205.4,384.73L204.9,384.92L204.4,385.08L203.9,385.20L203.4,385.28L202.9,385.29L202.4,385.25L201.9,385.17L201.4,385.05L200.9,384.90L200.4,384.73L199.9,384.54L199.4,384.33L198.9,384.12L198.4,383.92L197.9,383.72L197.4,383.53L196.9,383.34L196.4,383.16L195.9,382.98L195.4,382.81L194.9,382.65L194.4,382.51L193.9,382.39L193.4,382.30L192.9,382.22L192.4,382.16L191.9,382.10L191.4,382.06L190.9,382.02L190.4,381.98L189.9,381.94L189.4,381.90L188.9,381.86L188.4,381.83L187.9,381.81L187.4,381.79L186.9,381.79L186.4,381.81L185.9,381.84L185.4,381.88L184.9,381.92L184.4,381.98L183.9,382.03L183.4,382.09L182.9,382.14L182.4,382.19L181.9,382.25L181.4,382.30L180.9,382.36L180.4,382.42L179.9,382.48L179.4,382.54L178.9,382.59L178.4,382.64L177.9,382.69L177.4,382.74L176.9,382.81L176.4,382.89L175.9,383.00L175.4,383.15L174.9,383.32L174.4,383.53L173.9,383.76L173.4,384.00L172.9,384.26L172.4,384.51L171.9,384.77L171.4,385.01L170.9,385.26L170.4,385.50L169.9,385.75L169.4,385.99L168.9,386.23L168.4,386.47L167.9,386.71L167.4,386.94L166.9,387.17L166.4,387.40L165.9,387.63L165.4,387.85L164.9,388.05L164.4,388.24L163.9,388.40L163.4,388.55L162.9,388.67L162.4,388.78L161.9,388.88L161.4,388.97L160.9,389.05L160.4,389.14L159.9,389.22L159.4,389.30L158.9,389.38L158.4,389.47L157.9,389.55L157.4,389.64L156.9,389.73L156.4,389.83L155.9,389.93L155.4,390.04L154.9,390.15L154.4,390.26L153.9,390.38L153.4,390.51L152.9,390.66L152.4,390.81L151.9,390.98L151.4,391.16L150.9,391.35L150.4,391.54L149.9,391.74L149.4,391.93L148.9,392.13L148.4,392.33L147.9,392.52L147.4,392.73L146.9,392.93L146.4,393.12L145.9,393.31L145.4,393.49L144.9,393.65L144.4,393.79L143.9,393.92L143.4,394.03L142.9,394.13L142.4,394.21L141.9,394.29L141.4,394.35L140.9,394.40L140.4,394.42L139.9,394.41L139.4,394.36L138.9,394.29L138.4,394.21L137.9,394.13L137.4,394.05L136.9,393.97L136.4,393.89L135.9,393.80L135.4,393.71L134.9,393.61L134.4,393.50L133.9,393.37L133.4,393.23L132.9,393.08L132.4,392.93L131.9,392.76L131.4,392.60L130.9,392.44L130.4,392.28L129.9,392.13L129.4,391.97L128.9,391.81L128.4,391.66L127.9,391.51L127.4,391.36L126.9,391.23L126.4,391.11L125.9,391.00L125.4,390.90L124.9,390.80L124.4,390.72L123.9,390.64L123.4,390.56L122.9,390.49L122.4,390.43L121.9,390.37L121.4,390.31L120.9,390.27L120.4,390.22L119.9,390.18L119.4,390.15L118.9,390.12L118.4,390.10L117.9,390.08L117.4,390.08L116.9,390.07L116.4,390.05L115.9,390.02L115.4,389.98L114.9,389.91L114.4,389.84L113.9,389.75L113.4,389.65L112.9,389.53L112.4,389.38L111.9,389.20L111.4,388.99L110.9,388.74L110.4,388.45L109.9,388.13L109.4,387.78L108.9,387.42L108.4,387.06L107.9,386.69L107.4,386.31L106.9,385.93L106.4,385.54L105.9,385.14L105.4,384.74L104.9,384.35L104.4,383.97L103.9,383.61L103.4,383.28L102.9,382.98L102.4,382.72L101.9,382.48L101.4,382.28L100.9,382.10L100.4,381.95L99.9,381.84L99.4,381.75L98.9,381.69L98.4,381.68L97.9,381.72L97.4,381.79L96.9,381.90L96.4,382.04L95.9,382.21L95.4,382.39L94.9,382.59L94.4,382.81L93.9,383.05L93.4,383.30L92.9,383.56L92.4,383.85L91.9,384.15L91.4,384.47L90.9,384.80L90.4,385.14L89.9,385.48L89.4,385.83L88.9,386.18L88.4,386.54L87.9,386.90L87.4,387.27L86.9,387.64L86.4,388.00L85.9,388.36L85.4,388.71L84.9,389.05L84.4,389.38L83.9,389.71L83.4,390.03L82.9,390.34L82.4,390.64L81.9,390.92L81.4,391.19L80.9,391.45L80.4,391.70L79.9,391.93L79.4,392.15L78.9,392.36L78.4,392.54L77.9,392.70L77.4,392.84L76.9,392.95L76.4,393.04L75.9,393.12L75.4,393.18L74.9,393.23L74.4,393.26L73.9,393.29L73.4,393.31L72.9,393.31L72.4,393.30L71.9,393.29L71.4,393.26L70.9,393.24L70.4,393.21L69.9,393.18L69.4,393.14L68.9,393.11L68.4,393.07L67.9,393.02L67.4,392.98L66.9,392.94L66.4,392.89L65.9,392.85L65.4,392.81L64.9,392.77L64.4,392.73L63.9,392.69L63.4,392.65L62.9,392.63Z" fill="#e5e5ff"/>
<path d="M62.9,385.40L63.4,385.41L63.9,385.43L64.4,385.45L64.9,385.46L65.4,385.48L65.9,385.49L66.4,385.51L66.9,385.52L67.4,385.54L67.9,385.56L68.4,385.57L68.9,385.58L69.4,385.59L69.9,385.60L70.4,385.60L70.9,385.60L71.4,385.60L71.9,385.60L72.4,385.59L72.9,385.57L73.4,385.55L73.9,385.51L74.4,385.46L74.9,385.41L75.4,385.35L75.9,385.27L76.4,385.18L76.9,385.08L77.4,384.95L77.9,384.80L78.4,384.63L78.9,384.43L79.4,384.22L79.9,383.99L80.4,383.74L80.9,383.48L81.4,383.21L81.9,382.92L82.4,382.63L82.9,382.31L83.4,381.99L83.9,381.66L84.4,381.32L84.9,380.97L85.4,380.62L85.9,380.26L86.4,379.89L86.9,379.52L87.4,379.14L87.9,378.75L88.4,378.38L88.9,378.00L89.4,377.64L89.9,377.28L90.4,376.93L90.9,376.57L91.4,376.23L91.9,375.90L92.4,375.59L92.9,375.29L93.4,375.01L93.9,374.75L94.4,374.50L94.9,374.27L95.4,374.06L95.9,373.86L96.4,373.68L96.9,373.54L97.4,373.42L97.9,373.34L98.4,373.31L98.9,373.33L99.4,373.39L99.9,373.49L100.4,373.62L100.9,373.78L101.4,373.97L101.9,374.19L102.4,374.44L102.9,374.72L103.4,375.03L103.9,375.37L104.4,375.75L104.9,376.14L105.4,376.55L105.9,376.96L106.4,377.37L106.9,377.77L107.4,378.17L107.9,378.56L108.4,378.94L108.9,379.32L109.4,379.69L109.9,380.05L110.4,380.39L110.9,380.69L111.4,380.95L111.9,381.18L112.4,381.37L112.9,381.53L113.4,381.67L113.9,381.78L114.4,381.89L114.9,381.98L115.4,382.05L115.9,382.11L116.4,382.15L116.9,382.18L117.4,382.21L117.9,382.23L118.4,382.25L118.9,382.28L119.4,382.33L119.9,382.37L120.4,382.42L120.9,382.48L121.4,382.54L121.9,382.60L122.4,382.67L122.9,382.74L123.4,382.82L123.9,382.90L124.4,382.99L124.9,383.08L125.4,383.18L125.9,383.29L126.4,383.41L126.9,383.54L127.4,383.68L127.9,383.83L128.4,383.99L128.9,384.16L129.4,384.32L129.9,384.49L130.4,384.65L130.9,384.82L131.4,384.99L131.9,385.16L132.4,385.33L132.9,385.49L133.4,385.65L133.9,385.80L134.4,385.93L134.9,386.05L135.4,386.16L135.9,386.26L136.4,386.36L136.9,386.44L137.4,386.53L137.9,386.62L138.4,386.71L138.9,386.80L139.4,386.88L139.9,386.93L140.4,386.95L140.9,386.94L141.4,386.90L141.9,386.84L142.4,386.78L142.9,386.70L143.4,386.61L143.9,386.51L144.4,386.39L144.9,386.25L145.4,386.10L145.9,385.93L146.4,385.75L146.9,385.56L147.4,385.37L147.9,385.18L148.4,384.99L148.9,384.80L149.4,384.61L149.9,384.42L150.4,384.23L150.9,384.05L151.4,383.87L151.9,383.70L152.4,383.54L152.9,383.39L153.4,383.26L153.9,383.13L154.4,383.02L154.9,382.91L155.4,382.80L155.9,382.69L156.4,382.57L156.9,382.45L157.4,382.32L157.9,382.19L158.4,382.06L158.9,381.92L159.4,381.77L159.9,381.62L160.4,381.46L160.9,381.31L161.4,381.15L161.9,380.99L162.4,380.83L162.9,380.65L163.4,380.45L163.9,380.24L164.4,380.01L164.9,379.75L165.4,379.48L165.9,379.19L166.4,378.89L166.9,378.59L167.4,378.29L167.9,377.99L168.4,377.68L168.9,377.37L169.4,377.06L169.9,376.75L170.4,376.43L170.9,376.12L171.4,375.80L171.9,375.49L172.4,375.17L172.9,374.84L173.4,374.52L173.9,374.20L174.4,373.91L174.9,373.63L175.4,373.38L175.9,373.17L176.4,372.99L176.9,372.83L177.4,372.70L177.9,372.58L178.4,372.46L178.9,372.34L179.4,372.22L179.9,372.09L180.4,371.96L180.9,371.83L181.4,371.70L181.9,371.58L182.4,371.45L182.9,371.33L183.4,371.21L183.9,371.08L184.4,370.96L184.9,370.84L185.4,370.72L185.9,370.61L186.4,370.51L186.9,370.43L187.4,370.36L187.9,370.30L188.4,370.26L188.9,370.23L189.4,370.22L189.9,370.22L190.4,370.23L190.9,370.25L191.4,370.27L191.9,370.31L192.4,370.36L192.9,370.42L193.4,370.50L193.9,370.59L194.4,370.71L194.9,370.85L195.4,371.01L195.9,371.18L196.4,371.36L196.9,371.54L197.4,371.73L197.9,371.92L198.4,372.12L198.9,372.32L199.4,372.53L199.9,372.74L200.4,372.94L200.9,373.14L201.4,373.33L201.9,373.52L202.4,373.68L202.9,373.82L203.4,373.91L203.9,373.96L204.4,373.98L204.9,373.96L205.4,373.93L205.9,373.86L206.4,373.78L206.9,373.68L207.4,373.55L207.9,373.39L208.4,373.20L208.9,372.99L209.4,372.75L209.9,372.49L210.4,372.21L210.9,371.92L211.4,371.63L211.9,371.33L212.4,371.03L212.9,370.72L213.4,370.36L213.9,369.93L214.4,369.38L214.9,368.73L215.4,367.96L215.9,367.09L216.4,366.13L216.9,365.11L217.4,364.04L217.9,362.94L218.4,361.79L218.9,360.59L219.4,359.36L219.9,358.11L220.4,356.86L220.9,355.63L221.4,354.41L221.9,353.21L222.4,352.02L222.9,350.85L223.4,349.70L223.9,348.58L224.4,347.50L224.9,346.45L225.4,345.44L225.9,344.46L226.4,343.54L226.9,342.69L227.4,341.92L227.9,341.22L228.4,340.60L228.9,340.03L229.4,339.52L229.9,339.04L230.4,338.61L230.9,338.23L231.4,337.91L231.9,337.67L232.4,337.53L232.9,337.49L233.4,337.54L233.9,337.67L234.4,337.89L234.9,338.20L235.4,338.59L235.9,339.06L236.4,339.60L236.9,340.20L237.4,340.84L237.9,341.53L238.4,342.26L238.9,343.03L239.4,343.85L239.9,344.70L240.4,345.61L240.9,346.56L241.4,347.56L241.9,348.60L242.4,349.68L242.9,350.79L243.4,351.93L243.9,353.10L244.4,354.28L244.9,355.46L245.4,356.63L245.9,357.79L246.4,358.94L246.9,360.07L247.4,361.17L247.9,362.22L248.4,363.24L248.9,364.20L249.4,365.13L249.9,366.01L250.4,366.85L250.9,367.64L251.4,368.39L251.9,369.11L252.4,369.80L252.9,370.47L253.4,371.12L253.9,371.75L254.4,372.36L254.9,372.95L255.4,373.52L255.9,374.07L256.4,374.60L256.9,375.10L257.4,375.56L257.9,375.96L258.4,376.32L258.9,376.63L259.4,376.91L259.9,377.18L260.4,377.44L260.9,377.72L261.4,377.99L261.9,378.27L262.4,378.54L262.9,378.80L263.4,379.05L263.9,379.28L264.4,379.50L264.9,379.71L265.4,379.90L265.9,380.08L266.4,380.24L266.9,380.40L267.4,380.55L267.9,380.69L268.4,380.82L268.9,380.95L269.4,381.06L269.9,381.17L270.4,381.26L270.9,381.36L271.4,381.45L271.9,381.54L272.4,381.62L272.9,381.70L273.4,381.76L273.9,381.80L274.4,381.82L274.9,381.83L275.4,381.82L275.9,381.81L276.4,381.80L276.9,381.78L277.4,381.75L277.9,381.70L278.4,381.64L278.9,381.55L279.4,381.45L279.9,381.34L280.4,381.23L280.9,381.14L281.4,381.06L281.9,381.01L282.4,380.98L282.9,380.97L283.4,380.99L283.9,381.03L284.4,381.09L284.9,381.17L285.4,381.26L285.9,381.36L286.4,381.46L286.9,381.58L287.4,381.70L287.9,381.84L288.4,381.99L288.9,382.15L289.4,382.32L289.9,382.49L290.4,382.66L290.9,382.82L291.4,382.98L291.9,383.13L292.4,383.27L292.9,383.41L293.4,383.55L293.9,383.68L294.4,383.82L294.9,383.95L295.4,384.08L295.9,384.21L296.4,384.34L296.9,384.47L297.4,384.60L297.9,384.72L298.4,384.84L298.9,384.94L299.4,385.05L299.9,385.15L300.4,385.24L300.9,385.32L301.4,385.36L301.9,385.36L302.4,385.32L302.9,385.24L303.4,385.12L303.9,384.96L304.4,384.76L304.9,384.52L305.4,384.24L305.9,383.92L306.4,383.57L306.9,383.18L307.4,382.77L307.9,382.36L308.4,381.93L308.9,381.51L309.4,381.09L309.9,380.66L310.4,380.22L310.9,379.78L311.4,379.34L311.9,378.92L312.4,378.52L312.9,378.14L313.4,377.79L313.9,377.47L314.4,377.16L314.9,376.88L315.4,376.61L315.9,376.36L316.4,376.13L316.9,375.91L317.4,375.71L317.9,375.53L318.4,375.37L318.9,375.22L319.4,375.09L319.9,374.98L320.4,374.88L320.9,374.80L321.4,374.74L321.9,374.69L322.4,374.66L322.9,374.64L323.4,374.62L323.9,374.61L324.4,374.60L324.9,374.61L325.4,374.62L325.9,374.64L326.4,374.67L326.9,374.73L327.4,374.83L327.9,374.98L328.4,375.19L328.9,375.45L329.4,375.72L329.9,375.98L330.4,376.23L330.9,376.48L331.4,376.73L331.9,376.97L332.4,377.21L332.9,377.45L333.4,377.68L333.9,377.89L334.4,378.09L334.9,378.27L335.4,378.43L335.9,378.56L336.4,378.66L336.9,378.74L337.4,378.80L337.9,378.83L338.4,378.85L338.9,378.84L339.4,378.82L339.9,378.78L340.4,378.71L340.9,378.63L341.4,378.54L341.9,378.44L342.4,378.33L342.9,378.22L343.4,378.09L343.9,377.95L344.4,377.80L344.9,377.65L345.4,377.51L345.9,377.37L346.4,377.24L346.9,377.11L347.4,376.99L347.9,376.88L348.4,376.78L348.9,376.68L349.4,376.59L349.9,376.51L350.4,376.45L350.9,376.39L351.4,376.35L351.9,376.31L352.4,376.29L352.9,376.29L353.4,376.31L353.9,376.35L354.4,376.40L354.9,376.48L355.4,376.58L355.9,376.70L356.4,376.83L356.9,376.98L357.4,377.15L357.9,377.33L358.4,377.53L358.9,377.74L359.4,377.98L359.9,378.22L360.4,378.46L360.9,378.71L361.4,378.96L361.9,379.20L362.4,379.44L362.9,379.69L363.4,379.94L363.9,380.18L364.4,380.41L364.9,380.62L365.4,380.82L365.9,381.01L366.4,381.18L366.9,381.34L367.4,381.49L367.9,381.61L368.4,381.70L368.9,381.77L369.4,381.79L369.9,381.79L370.4,381.75L370.9,381.68L371.4,381.58L371.9,381.46L372.4,381.32L372.9,381.15L373.4,380.96L373.9,380.74L374.4,380.49L374.9,380.22L375.4,379.93L375.9,379.63L376.4,379.31L376.9,378.97L377.4,378.62L377.9,378.25L378.4,377.87L378.9,377.47L379.4,377.07L379.9,376.70L380.4,376.43" fill="none" stroke="#8c8cff" stroke-width="0.75"/>
<path d="M62.9,392.63L63.4,392.65L63.9,392.69L64.4,392.73L64.9,392.77L65.4,392.81L65.9,392.85L66.4,392.89L66.9,392.94L67.4,392.98L67.9,393.02L68.4,393.07L68.9,393.11L69.4,393.14L69.9,393.18L70.4,393.21L70.9,393.24L71.4,393.26L71.9,393.29L72.4,393.30L72.9,393.31L73.4,393.31L73.9,393.29L74.4,393.26L74.9,393.23L75.4,393.18L75.9,393.12L76.4,393.04L76.9,392.95L77.4,392.84L77.9,392.70L78.4,392.54L78.9,392.36L79.4,392.15L79.9,391.93L80.4,391.70L80.9,391.45L81.4,391.19L81.9,390.92L82.4,390.64L82.9,390.34L83.4,390.03L83.9,389.71L84.4,389.38L84.9,389.05L85.4,388.71L85.9,388.36L86.4,388.00L86.9,387.64L87.4,387.27L87.9,386.90L88.4,386.54L88.9,386.18L89.4,385.83L89.9,385.48L90.4,385.14L90.9,384.80L91.4,384.47L91.9,384.15L92.4,383.85L92.9,383.56L93.4,383.30L93.9,383.05L94.4,382.81L94.9,382.59L95.4,382.39L95.9,382.21L96.4,382.04L96.9,381.90L97.4,381.79L97.9,381.72L98.4,381.68L98.9,381.69L99.4,381.75L99.9,381.84L100.4,381.95L100.9,382.10L101.4,382.28L101.9,382.48L102.4,382.72L102.9,382.98L103.4,383.28L103.9,383.61L104.4,383.97L104.9,384.35L105.4,384.74L105.9,385.14L106.4,385.54L106.9,385.93L107.4,386.31L107.9,386.69L108.4,387.06L108.9,387.42L109.4,387.78L109.9,388.13L110.4,388.45L110.9,388.74L111.4,388.99L111.9,389.20L112.4,389.38L112.9,389.53L113.4,389.65L113.9,389.75L114.4,389.84L114.9,389.91L115.4,389.98L115.9,390.02L116.4,390.05L116.9,390.07L117.4,390.08L117.9,390.08L118.4,390.10L118.9,390.12L119.4,390.15L119.9,390.18L120.4,390.22L120.9,390.27L121.4,390.31L121.9,390.37L122.4,390.43L122.9,390.49L123.4,390.56L123.9,390.64L124.4,390.72L124.9,390.80L125.4,390.90L125.9,391.00L126.4,391.11L126.9,391.23L127.4,391.36L127.9,391.51L128.4,391.66L128.9,391.81L129.4,391.97L129.9,392.13L130.4,392.28L130.9,392.44L131.4,392.60L131.9,392.76L132.4,392.93L132.9,393.08L133.4,393.23L133.9,393.37L134.4,393.50L134.9,393.61L135.4,393.71L135.9,393.80L136.4,393.89L136.9,393.97L137.4,394.05L137.9,394.13L138.4,394.21L138.9,394.29L139.4,394.36L139.9,394.41L140.4,394.42L140.9,394.40L141.4,394.35L141.9,394.29L142.4,394.21L142.9,394.13L143.4,394.03L143.9,393.92L144.4,393.79L144.9,393.65L145.4,393.49L145.9,393.31L146.4,393.12L146.9,392.93L147.4,392.73L147.9,392.52L148.4,392.33L148.9,392.13L149.4,391.93L149.9,391.74L150.4,391.54L150.9,391.35L151.4,391.16L151.9,390.98L152.4,390.81L152.9,390.66L153.4,390.51L153.9,390.38L154.4,390.26L154.9,390.15L155.4,390.04L155.9,389.93L156.4,389.83L156.9,389.73L157.4,389.64L157.9,389.55L158.4,389.47L158.9,389.38L159.4,389.30L159.9,389.22L160.4,389.14L160.9,389.05L161.4,388.97L161.9,388.88L162.4,388.78L162.9,388.67L163.4,388.55L163.9,388.40L164.4,388.24L164.9,388.05L165.4,387.85L165.9,387.63L166.4,387.40L166.9,387.17L167.4,386.94L167.9,386.71L168.4,386.47L168.9,386.23L169.4,385.99L169.9,385.75L170.4,385.50L170.9,385.26L171.4,385.01L171.9,384.77L172.4,384.51L172.9,384.26L173.4,384.00L173.9,383.76L174.4,383.53L174.9,383.32L175.4,383.15L175.9,383.00L176.4,382.89L176.9,382.81L177.4,382.74L177.9,382.69L178.4,382.64L178.9,382.59L179.4,382.54L179.9,382.48L180.4,382.42L180.9,382.36L181.4,382.30L181.9,382.25L182.4,382.19L182.9,382.14L183.4,382.09L183.9,382.03L184.4,381.98L184.9,381.92L185.4,381.88L185.9,381.84L186.4,381.81L186.9,381.79L187.4,381.79L187.9,381.81L188.4,381.83L188.9,381.86L189.4,381.90L189.9,381.94L190.4,381.98L190.9,382.02L191.4,382.06L191.9,382.10L192.4,382.16L192.9,382.22L193.4,382.30L193.9,382.39L194.4,382.51L194.9,382.65L195.4,382.81L195.9,382.98L196.4,383.16L196.9,383.34L197.4,383.53L197.9,383.72L198.4,383.92L198.9,384.12L199.4,384.33L199.9,384.54L200.4,384.73L200.9,384.90L201.4,385.05L201.9,385.17L202.4,385.25L202.9,385.29L203.4,385.28L203.9,385.20L204.4,385.08L204.9,384.92L205.4,384.73L205.9,384.52L206.4,384.30L206.9,384.05L207.4,383.77L207.9,383.47L208.4,383.13L208.9,382.77L209.4,382.39L209.9,381.98L210.4,381.56L210.9,381.12L211.4,380.68L211.9,380.24L212.4,379.79L212.9,379.33L213.4,378.84L213.9,378.29L214.4,377.66L214.9,376.92L215.4,376.09L215.9,375.17L216.4,374.19L216.9,373.16L217.4,372.10L217.9,371.00L218.4,369.87L218.9,368.68L219.4,367.46L219.9,366.23L220.4,364.99L220.9,363.77L221.4,362.57L221.9,361.38L222.4,360.20L222.9,359.03L223.4,357.90L223.9,356.79L224.4,355.72L224.9,354.69L225.4,353.68L225.9,352.72L226.4,351.81L226.9,350.97L227.4,350.21L227.9,349.52L228.4,348.91L228.9,348.36L229.4,347.86L229.9,347.40L230.4,346.97L230.9,346.59L231.4,346.27L231.9,346.03L232.4,345.88L232.9,345.82L233.4,345.85L233.9,345.97L234.4,346.16L234.9,346.44L235.4,346.80L235.9,347.24L236.4,347.75L236.9,348.32L237.4,348.94L237.9,349.61L238.4,350.31L238.9,351.05L239.4,351.84L239.9,352.67L240.4,353.54L240.9,354.47L241.4,355.44L241.9,356.45L242.4,357.50L242.9,358.58L243.4,359.70L243.9,360.84L244.4,361.99L244.9,363.14L245.4,364.28L245.9,365.42L246.4,366.54L246.9,367.64L247.4,368.71L247.9,369.74L248.4,370.73L248.9,371.69L249.4,372.61L249.9,373.50L250.4,374.35L250.9,375.17L251.4,375.96L251.9,376.72L252.4,377.46L252.9,378.18L253.4,378.89L253.9,379.57L254.4,380.24L254.9,380.88L255.4,381.50L255.9,382.11L256.4,382.69L256.9,383.24L257.4,383.76L257.9,384.22L258.4,384.63L258.9,384.99L259.4,385.33L259.9,385.65L260.4,385.97L260.9,386.30L261.4,386.63L261.9,386.95L262.4,387.28L262.9,387.59L263.4,387.90L263.9,388.19L264.4,388.46L264.9,388.72L265.4,388.97L265.9,389.20L266.4,389.42L266.9,389.63L267.4,389.84L267.9,390.03L268.4,390.22L268.9,390.39L269.4,390.56L269.9,390.72L270.4,390.87L270.9,391.02L271.4,391.17L271.9,391.31L272.4,391.44L272.9,391.56L273.4,391.65L273.9,391.72L274.4,391.76L274.9,391.78L275.4,391.78L275.9,391.77L276.4,391.75L276.9,391.72L277.4,391.67L277.9,391.62L278.4,391.54L278.9,391.45L279.4,391.34L279.9,391.22L280.4,391.10L280.9,390.99L281.4,390.91L281.9,390.84L282.4,390.80L282.9,390.78L283.4,390.79L283.9,390.82L284.4,390.87L284.9,390.93L285.4,391.01L285.9,391.10L286.4,391.20L286.9,391.30L287.4,391.42L287.9,391.54L288.4,391.68L288.9,391.83L289.4,391.99L289.9,392.15L290.4,392.31L290.9,392.46L291.4,392.61L291.9,392.75L292.4,392.88L292.9,393.01L293.4,393.14L293.9,393.26L294.4,393.38L294.9,393.50L295.4,393.62L295.9,393.74L296.4,393.86L296.9,393.98L297.4,394.10L297.9,394.21L298.4,394.31L298.9,394.41L299.4,394.50L299.9,394.59L300.4,394.67L300.9,394.73L301.4,394.75L301.9,394.73L302.4,394.65L302.9,394.54L303.4,394.37L303.9,394.17L304.4,393.92L304.9,393.63L305.4,393.30L305.9,392.93L306.4,392.53L306.9,392.09L307.4,391.63L307.9,391.17L308.4,390.69L308.9,390.22L309.4,389.75L309.9,389.27L310.4,388.78L310.9,388.29L311.4,387.80L311.9,387.33L312.4,386.88L312.9,386.45L313.4,386.05L313.9,385.68L314.4,385.32L314.9,384.99L315.4,384.67L315.9,384.37L316.4,384.09L316.9,383.82L317.4,383.57L317.9,383.34L318.4,383.13L318.9,382.93L319.4,382.75L319.9,382.59L320.4,382.44L320.9,382.31L321.4,382.20L321.9,382.10L322.4,382.03L322.9,381.97L323.4,381.94L323.9,381.91L324.4,381.91L324.9,381.92L325.4,381.95L325.9,382.00L326.4,382.08L326.9,382.18L327.4,382.33L327.9,382.52L328.4,382.77L328.9,383.07L329.4,383.38L329.9,383.69L330.4,383.99L330.9,384.28L331.4,384.57L331.9,384.86L332.4,385.14L332.9,385.42L333.4,385.69L333.9,385.95L334.4,386.19L334.9,386.42L335.4,386.61L335.9,386.79L336.4,386.94L336.9,387.06L337.4,387.16L337.9,387.24L338.4,387.29L338.9,387.33L339.4,387.35L339.9,387.35L340.4,387.33L340.9,387.30L341.4,387.25L341.9,387.19L342.4,387.13L342.9,387.05L343.4,386.97L343.9,386.87L344.4,386.77L344.9,386.66L345.4,386.56L345.9,386.46L346.4,386.38L346.9,386.30L347.4,386.22L347.9,386.15L348.4,386.09L348.9,386.04L349.4,385.99L349.9,385.96L350.4,385.94L350.9,385.92L351.4,385.92L351.9,385.93L352.4,385.95L352.9,385.97L353.4,386.01L353.9,386.06L354.4,386.12L354.9,386.19L355.4,386.27L355.9,386.37L356.4,386.47L356.9,386.59L357.4,386.72L357.9,386.87L358.4,387.03L358.9,387.22L359.4,387.42L359.9,387.62L360.4,387.84L360.9,388.05L361.4,388.26L361.9,388.47L362.4,388.68L362.9,388.90L363.4,389.11L363.9,389.32L364.4,389.51L364.9,389.70L365.4,389.86L365.9,390.01L366.4,390.15L366.9,390.28L367.4,390.39L367.9,390.48L368.4,390.54L368.9,390.56L369.4,390.55L369.9,390.50L370.4,390.42L370.9,390.31L371.4,390.17L371.9,390.00L372.4,389.81L372.9,389.60L373.4,389.36L373.9,389.09L374.4,388.80L374.9,388.49L375.4,388.15L375.9,387.80L376.4,387.44L376.9,387.05L377.4,386.66L377.9,386.24L378.4,385.82L378.9,385.38L379.4,384.95L379.9,384.56L380.4,384.26" fill="none" stroke="#8c8cff" stroke-width="0.75"/>
<line x1="62.9" y1="382.20" x2="373.5" y2="382.20" stroke="#000" stroke-width="1.7" stroke-dasharray="8.7 9.05"/>
<path d="M62.9,389.01L63.4,389.03L63.9,389.06L64.4,389.09L64.9,389.12L65.4,389.14L65.9,389.17L66.4,389.20L66.9,389.23L67.4,389.26L67.9,389.29L68.4,389.32L68.9,389.34L69.4,389.37L69.9,389.39L70.4,389.40L70.9,389.42L71.4,389.43L71.9,389.44L72.4,389.45L72.9,389.44L73.4,389.43L73.9,389.40L74.4,389.36L74.9,389.32L75.4,389.26L75.9,389.20L76.4,389.11L76.9,389.02L77.4,388.89L77.9,388.75L78.4,388.58L78.9,388.40L79.4,388.19L79.9,387.96L80.4,387.72L80.9,387.47L81.4,387.20L81.9,386.92L82.4,386.63L82.9,386.33L83.4,386.01L83.9,385.68L84.4,385.35L84.9,385.01L85.4,384.66L85.9,384.31L86.4,383.95L86.9,383.58L87.4,383.20L87.9,382.83L88.4,382.46L88.9,382.09L89.4,381.73L89.9,381.38L90.4,381.03L90.9,380.69L91.4,380.35L91.9,380.03L92.4,379.72L92.9,379.43L93.4,379.15L93.9,378.90L94.4,378.66L94.9,378.43L95.4,378.22L95.9,378.03L96.4,377.86L96.9,377.72L97.4,377.61L97.9,377.53L98.4,377.50L98.9,377.51L99.4,377.57L99.9,377.66L100.4,377.79L100.9,377.94L101.4,378.12L101.9,378.33L102.4,378.58L102.9,378.85L103.4,379.15L103.9,379.49L104.4,379.86L104.9,380.24L105.4,380.64L105.9,381.05L106.4,381.46L106.9,381.85L107.4,382.24L107.9,382.62L108.4,383.00L108.9,383.37L109.4,383.74L109.9,384.09L110.4,384.42L110.9,384.71L111.4,384.97L111.9,385.19L112.4,385.38L112.9,385.53L113.4,385.66L113.9,385.77L114.4,385.86L114.9,385.95L115.4,386.01L115.9,386.07L116.4,386.10L116.9,386.13L117.4,386.14L117.9,386.16L118.4,386.17L118.9,386.20L119.4,386.24L119.9,386.28L120.4,386.32L120.9,386.37L121.4,386.43L121.9,386.48L122.4,386.55L122.9,386.62L123.4,386.69L123.9,386.77L124.4,386.85L124.9,386.94L125.4,387.04L125.9,387.15L126.4,387.26L126.9,387.39L127.4,387.52L127.9,387.67L128.4,387.82L128.9,387.98L129.4,388.15L129.9,388.31L130.4,388.47L130.9,388.63L131.4,388.79L131.9,388.96L132.4,389.13L132.9,389.29L133.4,389.44L133.9,389.58L134.4,389.71L134.9,389.83L135.4,389.94L135.9,390.03L136.4,390.12L136.9,390.21L137.4,390.29L137.9,390.37L138.4,390.46L138.9,390.55L139.4,390.62L139.9,390.67L140.4,390.68L140.9,390.67L141.4,390.62L141.9,390.57L142.4,390.50L142.9,390.41L143.4,390.32L143.9,390.21L144.4,390.09L144.9,389.95L145.4,389.79L145.9,389.62L146.4,389.44L146.9,389.24L147.4,389.05L147.9,388.85L148.4,388.66L148.9,388.46L149.4,388.27L149.9,388.08L150.4,387.89L150.9,387.70L151.4,387.51L151.9,387.34L152.4,387.17L152.9,387.02L153.4,386.89L153.9,386.76L154.4,386.64L154.9,386.53L155.4,386.42L155.9,386.31L156.4,386.20L156.9,386.09L157.4,385.98L157.9,385.87L158.4,385.76L158.9,385.65L159.4,385.54L159.9,385.42L160.4,385.30L160.9,385.18L161.4,385.06L161.9,384.94L162.4,384.80L162.9,384.66L163.4,384.50L163.9,384.32L164.4,384.12L164.9,383.90L165.4,383.66L165.9,383.41L166.4,383.15L166.9,382.88L167.4,382.61L167.9,382.35L168.4,382.08L168.9,381.80L169.4,381.53L169.9,381.25L170.4,380.97L170.9,380.69L171.4,380.41L171.9,380.13L172.4,379.84L172.9,379.55L173.4,379.26L173.9,378.98L174.4,378.72L174.9,378.48L175.4,378.27L175.9,378.09L176.4,377.94L176.9,377.82L177.4,377.72L177.9,377.63L178.4,377.55L178.9,377.47L179.4,377.38L179.9,377.28L180.4,377.19L180.9,377.09L181.4,377.00L181.9,376.91L182.4,376.82L182.9,376.73L183.4,376.65L183.9,376.56L184.4,376.47L184.9,376.38L185.4,376.30L185.9,376.22L186.4,376.16L186.9,376.11L187.4,376.08L187.9,376.05L188.4,376.05L188.9,376.05L189.4,376.06L189.9,376.08L190.4,376.10L190.9,376.13L191.4,376.17L191.9,376.21L192.4,376.26L192.9,376.32L193.4,376.40L193.9,376.49L194.4,376.61L194.9,376.75L195.4,376.91L195.9,377.08L196.4,377.26L196.9,377.44L197.4,377.63L197.9,377.82L198.4,378.02L198.9,378.22L199.4,378.43L199.9,378.64L200.4,378.83L200.9,379.02L201.4,379.19L201.9,379.34L202.4,379.47L202.9,379.55L203.4,379.59L203.9,379.58L204.4,379.53L204.9,379.44L205.4,379.33L205.9,379.19L206.4,379.04L206.9,378.86L207.4,378.66L207.9,378.43L208.4,378.17L208.9,377.88L209.4,377.57L209.9,377.24L210.4,376.89L210.9,376.52L211.4,376.15L211.9,375.78L212.4,375.41L212.9,375.03L213.4,374.60L213.9,374.11L214.4,373.52L214.9,372.82L215.4,372.02L215.9,371.13L216.4,370.16L216.9,369.14L217.4,368.07L217.9,366.97L218.4,365.83L218.9,364.64L219.4,363.41L219.9,362.17L220.4,360.93L220.9,359.70L221.4,358.49L221.9,357.29L222.4,356.11L222.9,354.94L223.4,353.80L223.9,352.69L224.4,351.61L224.9,350.57L225.4,349.56L225.9,348.59L226.4,347.68L226.9,346.83L227.4,346.06L227.9,345.37L228.4,344.75L228.9,344.20L229.4,343.69L229.9,343.22L230.4,342.79L230.9,342.41L231.4,342.09L231.9,341.85L232.4,341.71L232.9,341.66L233.4,341.70L233.9,341.82L234.4,342.03L234.9,342.32L235.4,342.69L235.9,343.15L236.4,343.67L236.9,344.26L237.4,344.89L237.9,345.57L238.4,346.29L238.9,347.04L239.4,347.84L239.9,348.69L240.4,349.58L240.9,350.52L241.4,351.50L241.9,352.53L242.4,353.59L242.9,354.69L243.4,355.82L243.9,356.97L244.4,358.14L244.9,359.30L245.4,360.46L245.9,361.60L246.4,362.74L246.9,363.86L247.4,364.94L247.9,365.98L248.4,366.98L248.9,367.95L249.4,368.87L249.9,369.76L250.4,370.60L250.9,371.41L251.4,372.17L251.9,372.91L252.4,373.63L252.9,374.33L253.4,375.00L253.9,375.66L254.4,376.30L254.9,376.91L255.4,377.51L255.9,378.09L256.4,378.64L256.9,379.17L257.4,379.66L257.9,380.09L258.4,380.47L258.9,380.81L259.4,381.12L259.9,381.41L260.4,381.71L260.9,382.01L261.4,382.31L261.9,382.61L262.4,382.91L262.9,383.20L263.4,383.47L263.9,383.74L264.4,383.98L264.9,384.22L265.4,384.43L265.9,384.64L266.4,384.83L266.9,385.02L267.4,385.19L267.9,385.36L268.4,385.52L268.9,385.67L269.4,385.81L269.9,385.94L270.4,386.07L270.9,386.19L271.4,386.31L271.9,386.42L272.4,386.53L272.9,386.63L273.4,386.71L273.9,386.76L274.4,386.79L274.9,386.80L275.4,386.80L275.9,386.79L276.4,386.77L276.9,386.75L277.4,386.71L277.9,386.66L278.4,386.59L278.9,386.50L279.4,386.40L279.9,386.28L280.4,386.17L280.9,386.07L281.4,385.99L281.9,385.93L282.4,385.89L282.9,385.87L283.4,385.89L283.9,385.92L284.4,385.98L284.9,386.05L285.4,386.13L285.9,386.23L286.4,386.33L286.9,386.44L287.4,386.56L287.9,386.69L288.4,386.83L288.9,386.99L289.4,387.15L289.9,387.32L290.4,387.48L290.9,387.64L291.4,387.79L291.9,387.94L292.4,388.08L292.9,388.21L293.4,388.34L293.9,388.47L294.4,388.60L294.9,388.73L295.4,388.85L295.9,388.98L296.4,389.10L296.9,389.23L297.4,389.35L297.9,389.47L298.4,389.58L298.9,389.68L299.4,389.78L299.9,389.87L300.4,389.96L300.9,390.02L301.4,390.05L301.9,390.04L302.4,389.99L302.9,389.89L303.4,389.75L303.9,389.56L304.4,389.34L304.9,389.07L305.4,388.77L305.9,388.43L306.4,388.05L306.9,387.64L307.4,387.20L307.9,386.76L308.4,386.31L308.9,385.87L309.4,385.42L309.9,384.96L310.4,384.50L310.9,384.03L311.4,383.57L311.9,383.13L312.4,382.70L312.9,382.30L313.4,381.92L313.9,381.57L314.4,381.24L314.9,380.93L315.4,380.64L315.9,380.36L316.4,380.11L316.9,379.87L317.4,379.64L317.9,379.44L318.4,379.25L318.9,379.07L319.4,378.92L319.9,378.78L320.4,378.66L320.9,378.55L321.4,378.47L321.9,378.40L322.4,378.34L322.9,378.30L323.4,378.28L323.9,378.26L324.4,378.26L324.9,378.26L325.4,378.28L325.9,378.32L326.4,378.38L326.9,378.46L327.4,378.58L327.9,378.75L328.4,378.98L328.9,379.26L329.4,379.55L329.9,379.84L330.4,380.11L330.9,380.38L331.4,380.65L331.9,380.91L332.4,381.18L332.9,381.43L333.4,381.68L333.9,381.92L334.4,382.14L334.9,382.34L335.4,382.52L335.9,382.67L336.4,382.80L336.9,382.90L337.4,382.98L337.9,383.03L338.4,383.07L338.9,383.09L339.4,383.09L339.9,383.06L340.4,383.02L340.9,382.96L341.4,382.89L341.9,382.82L342.4,382.73L342.9,382.63L343.4,382.53L343.9,382.41L344.4,382.29L344.9,382.16L345.4,382.03L345.9,381.92L346.4,381.81L346.9,381.70L347.4,381.61L347.9,381.52L348.4,381.43L348.9,381.36L349.4,381.29L349.9,381.24L350.4,381.19L350.9,381.16L351.4,381.13L351.9,381.12L352.4,381.12L352.9,381.13L353.4,381.16L353.9,381.20L354.4,381.26L354.9,381.34L355.4,381.43L355.9,381.53L356.4,381.65L356.9,381.79L357.4,381.93L357.9,382.10L358.4,382.28L358.9,382.48L359.4,382.70L359.9,382.92L360.4,383.15L360.9,383.38L361.4,383.61L361.9,383.84L362.4,384.06L362.9,384.30L363.4,384.52L363.9,384.75L364.4,384.96L364.9,385.16L365.4,385.34L365.9,385.51L366.4,385.67L366.9,385.81L367.4,385.94L367.9,386.04L368.4,386.12L368.9,386.16L369.4,386.17L369.9,386.14L370.4,386.08L370.9,385.99L371.4,385.87L371.9,385.73L372.4,385.56L372.9,385.37L373.4,385.16L373.9,384.91L374.4,384.65L374.9,384.35L375.4,384.04L375.9,383.71L376.4,383.37L376.9,383.01L377.4,382.64L377.9,382.25L378.4,381.84L378.9,381.43L379.4,381.01L379.9,380.63L380.4,380.34" fill="none" stroke="#1e1ef2" stroke-width="1.1" stroke-linejoin="round"/>
<path d="M58.65,324.10V440.40" fill="none" stroke="#444" stroke-width="1.05"/>
<path d="M58.15,439.85H389.2" fill="none" stroke="#5a5a5a" stroke-width="1.2"/>
<line x1="58.65" y1="324.60" x2="62.0" y2="324.60" stroke="#3a3a3a" stroke-width="1"/>
<text x="54.5" y="329.5" text-anchor="end" class="tk">1.5</text>
<line x1="58.65" y1="362.97" x2="62.0" y2="362.97" stroke="#3a3a3a" stroke-width="1"/>
<text x="54.5" y="367.9" text-anchor="end" class="tk">0.5</text>
<line x1="58.65" y1="401.33" x2="62.0" y2="401.33" stroke="#3a3a3a" stroke-width="1"/>
<text x="54.5" y="406.9" text-anchor="end" class="tk">−0.5</text>
<line x1="99.66" y1="439.70" x2="99.66" y2="436.70" stroke="#333" stroke-width="1.3"/>
<line x1="140.99" y1="439.70" x2="140.99" y2="436.70" stroke="#333" stroke-width="1.3"/>
<line x1="182.33" y1="439.70" x2="182.33" y2="436.70" stroke="#333" stroke-width="1.3"/>
<line x1="223.67" y1="439.70" x2="223.67" y2="436.70" stroke="#333" stroke-width="1.3"/>
<line x1="265.00" y1="439.70" x2="265.00" y2="436.70" stroke="#333" stroke-width="1.3"/>
<line x1="306.34" y1="439.70" x2="306.34" y2="436.70" stroke="#333" stroke-width="1.3"/>
<line x1="347.68" y1="439.70" x2="347.68" y2="436.70" stroke="#333" stroke-width="1.3"/>
<text x="89.3" y="352.6" class="tt" textLength="71.0" lengthAdjust="spacingAndGlyphs">V-Lead100</text>
<text x="215.6 219.7 223.8 227.9 232.0 236.2 240.3 244.4 248.5" y="334.85" text-anchor="middle" class="st">✷✷✷✷✷✷✷✷✷</text>
</g>
<text x="99.7" y="457.8" text-anchor="middle" class="tk">10</text>
<text x="141.0" y="457.8" text-anchor="middle" class="tk">20</text>
<text x="182.4" y="457.8" text-anchor="middle" class="tk">30</text>
<text x="223.7" y="457.8" text-anchor="middle" class="tk">40</text>
<text x="265.1" y="457.8" text-anchor="middle" class="tk">50</text>
<text x="306.4" y="457.8" text-anchor="middle" class="tk">60</text>
<text x="347.7" y="457.8" text-anchor="middle" class="tk">70</text>
<text x="176.6" y="479.4" class="xl" textLength="75.6" lengthAdjust="spacingAndGlyphs">Frame No.</text>
<text transform="translate(11.7 340.3) rotate(-90)" class="yl" textLength="253.6" lengthAdjust="spacingAndGlyphs">Group Mean Classification Coefficient</text>
<rect x="31.2" y="485.7" width="15.7" height="15.8" fill="#8096f8"/>
<text x="52.3" y="496.9" class="lg" textLength="47.9" lengthAdjust="spacingAndGlyphs">± 1 SEM</text>
<text x="312.3" y="492.4" text-anchor="middle" class="st2">✸</text>
<text x="320.2" y="491.4" class="lg" textLength="73.9" lengthAdjust="spacingAndGlyphs">FDR q &lt; 0.05</text>
<text x="337.3" y="508.3" class="lg" textLength="40.6" lengthAdjust="spacingAndGlyphs">(t-test)</text>
</svg>
</body>
</html>
